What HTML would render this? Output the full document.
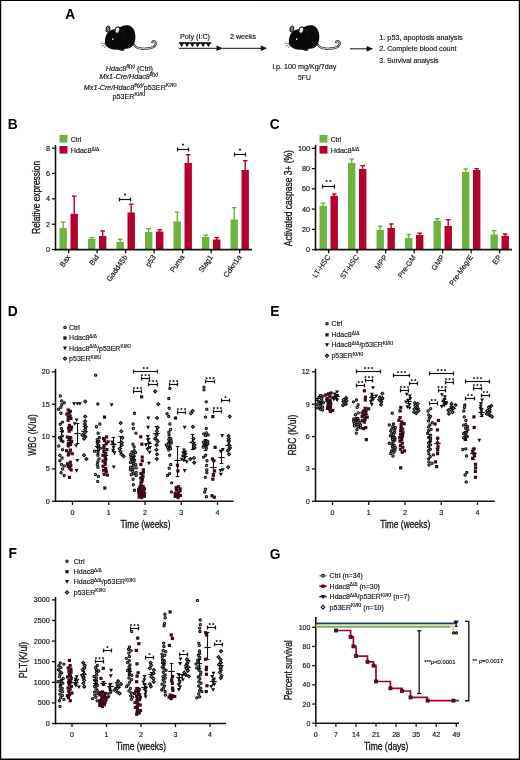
<!DOCTYPE html>
<html><head><meta charset="utf-8"><title>Figure</title>
<style>
html,body{margin:0;padding:0;background:#fff;}
body{width:520px;height:760px;overflow:hidden;font-family:'Liberation Sans', sans-serif;}
svg{display:block;font-family:"Liberation Sans",sans-serif;will-change:transform;opacity:0.999;}
</style></head><body>
<svg width="520" height="760" viewBox="0 0 520 760">
<rect x="0" y="0" width="520" height="760" fill="#fff"/>
<rect x="0" y="0" width="520" height="1" fill="#000"/><rect x="0" y="0" width="1.2" height="760" fill="#000"/><rect x="518.8" y="0" width="1.2" height="760" fill="#000"/><rect x="0" y="758.5" width="520" height="1.5" fill="#000"/>
<text x="65.30" y="19.20" font-size="13.8" fill="#000" stroke="#000" stroke-width="0" font-weight="bold">A</text>
<g transform="translate(98,18) scale(0.12308)">
<path d="M286 208 C298 232 320 247 352 249 C386 251 420 248 446 238 C470 227 477 202 463 191 C453 184 441 188 441 197" fill="none" stroke="#0d0808" stroke-width="17" stroke-linecap="round"/>
<path d="M286 208 C298 232 320 247 352 249 C386 251 420 248 446 238 C470 227 477 202 463 191 C453 184 441 188 441 197" fill="none" stroke="#f3ebe9" stroke-width="7.5" stroke-linecap="round"/>
<path d="M72 208L26 203M70 214L28 230M74 220L52 242" stroke="#111" stroke-width="4.6" fill="none"/>
<path d="M160 248 C172 262 196 274 218 264 C214 254 206 250 196 248Z" fill="#0a0a0a"/>
<path d="M184 256 C192 262 204 264 210 260" stroke="#cdb9b5" stroke-width="4" fill="none"/>
<path d="M57 200 C54 170 62 140 80 118 C100 96 130 92 150 92 C175 70 215 54 246 59 C282 66 303 105 304 150 C305 190 291 226 262 241 C240 251 215 251 195 253 C170 262 120 257 92 245 C72 237 59 222 57 200Z" fill="#0a0a0a"/>
<ellipse cx="81" cy="90" rx="16" ry="25" fill="#787878" stroke="#0a0a0a" stroke-width="7" transform="rotate(12 81 90)"/>
<ellipse cx="158" cy="99" rx="19" ry="27" fill="#efe7e5" stroke="#0a0a0a" stroke-width="8" transform="rotate(18 158 99)"/>
<path d="M148 118 C158 124 168 118 172 104" stroke="#333" stroke-width="4" fill="none"/>
<circle cx="120" cy="172" r="6.5" fill="#f2f2f2"/>
<path d="M196 96 C208 112 212 136 206 156" stroke="#3a3a3a" stroke-width="3" fill="none"/>
</g>
<g transform="translate(281.9,18) scale(0.12308)">
<path d="M286 208 C298 232 320 247 352 249 C386 251 420 248 446 238 C470 227 477 202 463 191 C453 184 441 188 441 197" fill="none" stroke="#0d0808" stroke-width="17" stroke-linecap="round"/>
<path d="M286 208 C298 232 320 247 352 249 C386 251 420 248 446 238 C470 227 477 202 463 191 C453 184 441 188 441 197" fill="none" stroke="#f3ebe9" stroke-width="7.5" stroke-linecap="round"/>
<path d="M72 208L26 203M70 214L28 230M74 220L52 242" stroke="#111" stroke-width="4.6" fill="none"/>
<path d="M160 248 C172 262 196 274 218 264 C214 254 206 250 196 248Z" fill="#0a0a0a"/>
<path d="M184 256 C192 262 204 264 210 260" stroke="#cdb9b5" stroke-width="4" fill="none"/>
<path d="M57 200 C54 170 62 140 80 118 C100 96 130 92 150 92 C175 70 215 54 246 59 C282 66 303 105 304 150 C305 190 291 226 262 241 C240 251 215 251 195 253 C170 262 120 257 92 245 C72 237 59 222 57 200Z" fill="#0a0a0a"/>
<ellipse cx="81" cy="90" rx="16" ry="25" fill="#787878" stroke="#0a0a0a" stroke-width="7" transform="rotate(12 81 90)"/>
<ellipse cx="158" cy="99" rx="19" ry="27" fill="#efe7e5" stroke="#0a0a0a" stroke-width="8" transform="rotate(18 158 99)"/>
<path d="M148 118 C158 124 168 118 172 104" stroke="#333" stroke-width="4" fill="none"/>
<circle cx="120" cy="172" r="6.5" fill="#f2f2f2"/>
<path d="M196 96 C208 112 212 136 206 156" stroke="#3a3a3a" stroke-width="3" fill="none"/>
</g>
<text x="105.80" y="70.60" font-size="7.2" fill="#161616" stroke="#161616" stroke-width="0.17"><tspan font-style="italic">Hdac8<tspan dy="-2.6" font-size="5.0">fl(y)</tspan><tspan dy="2.6" font-size="0.01">.</tspan></tspan> (Ctrl)</text>
<text x="99.50" y="78.80" font-size="7.2" fill="#161616" stroke="#161616" stroke-width="0.17"><tspan font-style="italic">Mx1-Cre/Hdac8<tspan dy="-2.6" font-size="5.0">fl(y)</tspan><tspan dy="2.6" font-size="0.01">.</tspan></tspan></text>
<text x="83.80" y="90.00" font-size="7.2" fill="#161616" stroke="#161616" stroke-width="0.17"><tspan font-style="italic">Mx1-Cre/Hdac8<tspan dy="-2.6" font-size="5.0">fl(y)/</tspan><tspan dy="2.6" font-size="0.01">.</tspan></tspan>p53ER<tspan dy="-2.6" font-size="5.0">KI/KI</tspan><tspan dy="2.6" font-size="0.01">.</tspan></text>
<text x="112.50" y="98.80" font-size="7.2" fill="#161616" stroke="#161616" stroke-width="0.17">p53ER<tspan dy="-2.6" font-size="5.0">KI/KI</tspan><tspan dy="2.6" font-size="0.01">.</tspan></text>
<text x="180.00" y="39.20" font-size="7.2" fill="#161616" stroke="#161616" stroke-width="0.17" textLength="30" lengthAdjust="spacingAndGlyphs">Poly (I:C)</text>
<text x="230.00" y="39.20" font-size="7.2" fill="#161616" stroke="#161616" stroke-width="0.17" textLength="26.2" lengthAdjust="spacingAndGlyphs">2 weeks</text>
<path d="M179.00 42.6H184.30L181.65 47.2Z" fill="#111"/>
<path d="M184.35 42.6H189.65L187.00 47.2Z" fill="#111"/>
<path d="M189.70 42.6H195.00L192.35 47.2Z" fill="#111"/>
<path d="M195.05 42.6H200.35L197.70 47.2Z" fill="#111"/>
<path d="M200.40 42.6H205.70L203.05 47.2Z" fill="#111"/>
<path d="M205.75 42.6H211.05L208.40 47.2Z" fill="#111"/>
<rect x="178.80" y="42.40" width="32.50" height="1.30" fill="#111"/>
<line x1="178.80" y1="48.30" x2="218.00" y2="48.30" stroke="#111" stroke-width="1.0" stroke-linecap="butt"/>
<path d="M216.5 45.6L222.8 48.3L216.5 51Z" fill="#111"/>
<line x1="222.50" y1="48.30" x2="262.00" y2="48.30" stroke="#111" stroke-width="1.0" stroke-linecap="butt"/>
<path d="M260.8 45.6L267.2 48.3L260.8 51Z" fill="#111"/>
<text x="272.50" y="69.40" font-size="7.2" fill="#161616" stroke="#161616" stroke-width="0.17" textLength="63.8" lengthAdjust="spacingAndGlyphs">i.p. 100 mg/Kg/7day</text>
<text x="298.00" y="80.00" font-size="7.2" fill="#161616" stroke="#161616" stroke-width="0.17" textLength="12.8" lengthAdjust="spacingAndGlyphs">5FU</text>
<line x1="350.00" y1="48.80" x2="368.00" y2="48.80" stroke="#111" stroke-width="1.0" stroke-linecap="butt"/>
<path d="M366.6 46.1L373.2 48.8L366.6 51.5Z" fill="#111"/>
<text x="379.30" y="40.00" font-size="7.2" fill="#161616" stroke="#161616" stroke-width="0.17" textLength="83.4" lengthAdjust="spacingAndGlyphs">1. p53, apoptosis analysis</text>
<text x="379.30" y="51.40" font-size="7.2" fill="#161616" stroke="#161616" stroke-width="0.17" textLength="77.2" lengthAdjust="spacingAndGlyphs">2. Complete blood count</text>
<text x="379.30" y="62.60" font-size="7.2" fill="#161616" stroke="#161616" stroke-width="0.17" textLength="59.2" lengthAdjust="spacingAndGlyphs">3. Survival analysis</text>
<text x="7.80" y="129.20" font-size="13.8" fill="#000" stroke="#000" stroke-width="0" font-weight="bold">B</text>
<text x="269.80" y="129.20" font-size="13.8" fill="#000" stroke="#000" stroke-width="0" font-weight="bold">C</text>
<line x1="63.20" y1="221.80" x2="63.20" y2="228.50" stroke="#6db33f" stroke-width="1.4" stroke-linecap="butt"/>
<line x1="60.90" y1="222.00" x2="65.50" y2="222.00" stroke="#6db33f" stroke-width="1.4" stroke-linecap="butt"/>
<rect x="59.50" y="228.00" width="7.40" height="21.60" fill="#6db33f"/>
<line x1="74.20" y1="196.00" x2="74.20" y2="214.30" stroke="#b5002d" stroke-width="1.4" stroke-linecap="butt"/>
<line x1="71.90" y1="196.20" x2="76.50" y2="196.20" stroke="#b5002d" stroke-width="1.4" stroke-linecap="butt"/>
<rect x="70.50" y="213.80" width="7.40" height="35.80" fill="#b5002d"/>
<text x="70.75" y="257.20" font-size="7.4" fill="#161616" stroke="#161616" stroke-width="0.17" text-anchor="end" transform="rotate(-55 70.75 257.20)">Bax</text>
<line x1="68.65" y1="249.60" x2="68.65" y2="253.20" stroke="#111" stroke-width="1.3" stroke-linecap="butt"/>
<line x1="91.70" y1="237.50" x2="91.70" y2="239.50" stroke="#6db33f" stroke-width="1.4" stroke-linecap="butt"/>
<line x1="89.40" y1="237.70" x2="94.00" y2="237.70" stroke="#6db33f" stroke-width="1.4" stroke-linecap="butt"/>
<rect x="88.00" y="239.00" width="7.40" height="10.60" fill="#6db33f"/>
<line x1="102.70" y1="230.80" x2="102.70" y2="236.50" stroke="#b5002d" stroke-width="1.4" stroke-linecap="butt"/>
<line x1="100.40" y1="231.00" x2="105.00" y2="231.00" stroke="#b5002d" stroke-width="1.4" stroke-linecap="butt"/>
<rect x="99.00" y="236.00" width="7.40" height="13.60" fill="#b5002d"/>
<text x="99.25" y="257.20" font-size="7.4" fill="#161616" stroke="#161616" stroke-width="0.17" text-anchor="end" transform="rotate(-55 99.25 257.20)">Bid</text>
<line x1="97.15" y1="249.60" x2="97.15" y2="253.20" stroke="#111" stroke-width="1.3" stroke-linecap="butt"/>
<line x1="120.20" y1="239.00" x2="120.20" y2="242.50" stroke="#6db33f" stroke-width="1.4" stroke-linecap="butt"/>
<line x1="117.90" y1="239.20" x2="122.50" y2="239.20" stroke="#6db33f" stroke-width="1.4" stroke-linecap="butt"/>
<rect x="116.50" y="242.00" width="7.40" height="7.60" fill="#6db33f"/>
<line x1="131.20" y1="204.00" x2="131.20" y2="213.00" stroke="#b5002d" stroke-width="1.4" stroke-linecap="butt"/>
<line x1="128.90" y1="204.20" x2="133.50" y2="204.20" stroke="#b5002d" stroke-width="1.4" stroke-linecap="butt"/>
<rect x="127.50" y="212.50" width="7.40" height="37.10" fill="#b5002d"/>
<text x="127.75" y="257.20" font-size="7.4" fill="#161616" stroke="#161616" stroke-width="0.17" text-anchor="end" transform="rotate(-55 127.75 257.20)">Gadd45b</text>
<line x1="125.65" y1="249.60" x2="125.65" y2="253.20" stroke="#111" stroke-width="1.3" stroke-linecap="butt"/>
<line x1="148.70" y1="228.50" x2="148.70" y2="232.50" stroke="#6db33f" stroke-width="1.4" stroke-linecap="butt"/>
<line x1="146.40" y1="228.70" x2="151.00" y2="228.70" stroke="#6db33f" stroke-width="1.4" stroke-linecap="butt"/>
<rect x="145.00" y="232.00" width="7.40" height="17.60" fill="#6db33f"/>
<line x1="159.70" y1="229.60" x2="159.70" y2="232.00" stroke="#b5002d" stroke-width="1.4" stroke-linecap="butt"/>
<line x1="157.40" y1="229.80" x2="162.00" y2="229.80" stroke="#b5002d" stroke-width="1.4" stroke-linecap="butt"/>
<rect x="156.00" y="231.50" width="7.40" height="18.10" fill="#b5002d"/>
<text x="156.25" y="257.20" font-size="7.4" fill="#161616" stroke="#161616" stroke-width="0.17" text-anchor="end" transform="rotate(-55 156.25 257.20)">p53</text>
<line x1="154.15" y1="249.60" x2="154.15" y2="253.20" stroke="#111" stroke-width="1.3" stroke-linecap="butt"/>
<line x1="177.20" y1="212.00" x2="177.20" y2="222.00" stroke="#6db33f" stroke-width="1.4" stroke-linecap="butt"/>
<line x1="174.90" y1="212.20" x2="179.50" y2="212.20" stroke="#6db33f" stroke-width="1.4" stroke-linecap="butt"/>
<rect x="173.50" y="221.50" width="7.40" height="28.10" fill="#6db33f"/>
<line x1="188.20" y1="154.50" x2="188.20" y2="163.50" stroke="#b5002d" stroke-width="1.4" stroke-linecap="butt"/>
<line x1="185.90" y1="154.70" x2="190.50" y2="154.70" stroke="#b5002d" stroke-width="1.4" stroke-linecap="butt"/>
<rect x="184.50" y="163.00" width="7.40" height="86.60" fill="#b5002d"/>
<text x="184.75" y="257.20" font-size="7.4" fill="#161616" stroke="#161616" stroke-width="0.17" text-anchor="end" transform="rotate(-55 184.75 257.20)">Puma</text>
<line x1="182.65" y1="249.60" x2="182.65" y2="253.20" stroke="#111" stroke-width="1.3" stroke-linecap="butt"/>
<line x1="205.70" y1="235.00" x2="205.70" y2="237.50" stroke="#6db33f" stroke-width="1.4" stroke-linecap="butt"/>
<line x1="203.40" y1="235.20" x2="208.00" y2="235.20" stroke="#6db33f" stroke-width="1.4" stroke-linecap="butt"/>
<rect x="202.00" y="237.00" width="7.40" height="12.60" fill="#6db33f"/>
<line x1="216.70" y1="237.40" x2="216.70" y2="240.00" stroke="#b5002d" stroke-width="1.4" stroke-linecap="butt"/>
<line x1="214.40" y1="237.60" x2="219.00" y2="237.60" stroke="#b5002d" stroke-width="1.4" stroke-linecap="butt"/>
<rect x="213.00" y="239.50" width="7.40" height="10.10" fill="#b5002d"/>
<text x="213.25" y="257.20" font-size="7.4" fill="#161616" stroke="#161616" stroke-width="0.17" text-anchor="end" transform="rotate(-55 213.25 257.20)">Stag1</text>
<line x1="211.15" y1="249.60" x2="211.15" y2="253.20" stroke="#111" stroke-width="1.3" stroke-linecap="butt"/>
<line x1="234.20" y1="207.50" x2="234.20" y2="220.00" stroke="#6db33f" stroke-width="1.4" stroke-linecap="butt"/>
<line x1="231.90" y1="207.70" x2="236.50" y2="207.70" stroke="#6db33f" stroke-width="1.4" stroke-linecap="butt"/>
<rect x="230.50" y="219.50" width="7.40" height="30.10" fill="#6db33f"/>
<line x1="245.20" y1="160.50" x2="245.20" y2="170.50" stroke="#b5002d" stroke-width="1.4" stroke-linecap="butt"/>
<line x1="242.90" y1="160.70" x2="247.50" y2="160.70" stroke="#b5002d" stroke-width="1.4" stroke-linecap="butt"/>
<rect x="241.50" y="170.00" width="7.40" height="79.60" fill="#b5002d"/>
<text x="241.75" y="257.20" font-size="7.4" fill="#161616" stroke="#161616" stroke-width="0.17" text-anchor="end" transform="rotate(-55 241.75 257.20)">Cdkn1a</text>
<line x1="239.65" y1="249.60" x2="239.65" y2="253.20" stroke="#111" stroke-width="1.3" stroke-linecap="butt"/>
<line x1="55.50" y1="145.00" x2="55.50" y2="250.40" stroke="#111" stroke-width="1.6" stroke-linecap="butt"/>
<line x1="54.90" y1="249.60" x2="252.00" y2="249.60" stroke="#111" stroke-width="1.6" stroke-linecap="butt"/>
<line x1="51.90" y1="249.60" x2="55.50" y2="249.60" stroke="#111" stroke-width="1.3" stroke-linecap="butt"/>
<text x="49.90" y="252.15" font-size="7.2" fill="#161616" stroke="#161616" stroke-width="0.17" text-anchor="end">0</text>
<line x1="51.90" y1="224.22" x2="55.50" y2="224.22" stroke="#111" stroke-width="1.3" stroke-linecap="butt"/>
<text x="49.90" y="226.77" font-size="7.2" fill="#161616" stroke="#161616" stroke-width="0.17" text-anchor="end">2</text>
<line x1="51.90" y1="198.84" x2="55.50" y2="198.84" stroke="#111" stroke-width="1.3" stroke-linecap="butt"/>
<text x="49.90" y="201.39" font-size="7.2" fill="#161616" stroke="#161616" stroke-width="0.17" text-anchor="end">4</text>
<line x1="51.90" y1="173.46" x2="55.50" y2="173.46" stroke="#111" stroke-width="1.3" stroke-linecap="butt"/>
<text x="49.90" y="176.01" font-size="7.2" fill="#161616" stroke="#161616" stroke-width="0.17" text-anchor="end">6</text>
<line x1="51.90" y1="148.08" x2="55.50" y2="148.08" stroke="#111" stroke-width="1.3" stroke-linecap="butt"/>
<text x="49.90" y="150.63" font-size="7.2" fill="#161616" stroke="#161616" stroke-width="0.17" text-anchor="end">8</text>
<rect x="59.50" y="135.00" width="8.00" height="7.60" fill="#6db33f"/>
<rect x="59.50" y="146.00" width="8.00" height="7.60" fill="#b5002d"/>
<text x="70.70" y="141.90" font-size="7.2" fill="#161616" stroke="#161616" stroke-width="0.17" textLength="10.6" lengthAdjust="spacingAndGlyphs">Ctrl</text>
<text x="70.70" y="153.00" font-size="7.2" fill="#161616" stroke="#161616" stroke-width="0.17">Hdac8<tspan dy="-2.3" font-size="4.8">&#916;/&#916;</tspan><tspan dy="2.3" font-size="0.01">.</tspan></text>
<text x="39.70" y="197.40" font-size="10.1" fill="#161616" stroke="#161616" stroke-width="0.3" text-anchor="middle" transform="rotate(-90 39.70 197.40)" textLength="73" lengthAdjust="spacingAndGlyphs">Relative expression</text>
<line x1="119.50" y1="199.50" x2="130.50" y2="199.50" stroke="#111" stroke-width="1.15" stroke-linecap="butt"/>
<line x1="119.50" y1="197.60" x2="119.50" y2="201.40" stroke="#111" stroke-width="1.25" stroke-linecap="butt"/>
<line x1="130.50" y1="197.60" x2="130.50" y2="201.40" stroke="#111" stroke-width="1.25" stroke-linecap="butt"/>
<path d="M125.00 193.10L125.45 193.88L126.33 194.07L125.73 194.74L125.82 195.63L125.00 195.27L124.18 195.63L124.27 194.74L123.67 194.07L124.55 193.88Z" fill="#111"/>
<line x1="177.50" y1="149.50" x2="188.50" y2="149.50" stroke="#111" stroke-width="1.15" stroke-linecap="butt"/>
<line x1="177.50" y1="147.60" x2="177.50" y2="151.40" stroke="#111" stroke-width="1.25" stroke-linecap="butt"/>
<line x1="188.50" y1="147.60" x2="188.50" y2="151.40" stroke="#111" stroke-width="1.25" stroke-linecap="butt"/>
<path d="M183.00 143.10L183.45 143.88L184.33 144.07L183.73 144.74L183.82 145.63L183.00 145.27L182.18 145.63L182.27 144.74L181.67 144.07L182.55 143.88Z" fill="#111"/>
<line x1="234.50" y1="154.50" x2="245.50" y2="154.50" stroke="#111" stroke-width="1.15" stroke-linecap="butt"/>
<line x1="234.50" y1="152.60" x2="234.50" y2="156.40" stroke="#111" stroke-width="1.25" stroke-linecap="butt"/>
<line x1="245.50" y1="152.60" x2="245.50" y2="156.40" stroke="#111" stroke-width="1.25" stroke-linecap="butt"/>
<path d="M240.00 148.10L240.45 148.88L241.33 149.07L240.73 149.74L240.82 150.63L240.00 150.27L239.18 150.63L239.27 149.74L238.67 149.07L239.55 148.88Z" fill="#111"/>
<line x1="323.20" y1="203.00" x2="323.20" y2="206.30" stroke="#6db33f" stroke-width="1.4" stroke-linecap="butt"/>
<line x1="320.90" y1="203.20" x2="325.50" y2="203.20" stroke="#6db33f" stroke-width="1.4" stroke-linecap="butt"/>
<rect x="319.50" y="205.80" width="7.40" height="43.80" fill="#6db33f"/>
<line x1="334.20" y1="193.80" x2="334.20" y2="196.30" stroke="#b5002d" stroke-width="1.4" stroke-linecap="butt"/>
<line x1="331.90" y1="194.00" x2="336.50" y2="194.00" stroke="#b5002d" stroke-width="1.4" stroke-linecap="butt"/>
<rect x="330.50" y="195.80" width="7.40" height="53.80" fill="#b5002d"/>
<text x="330.75" y="257.20" font-size="7.4" fill="#161616" stroke="#161616" stroke-width="0.17" text-anchor="end" transform="rotate(-55 330.75 257.20)">LT-HSC</text>
<line x1="328.65" y1="249.60" x2="328.65" y2="253.20" stroke="#111" stroke-width="1.3" stroke-linecap="butt"/>
<line x1="351.70" y1="158.80" x2="351.70" y2="163.50" stroke="#6db33f" stroke-width="1.4" stroke-linecap="butt"/>
<line x1="349.40" y1="159.00" x2="354.00" y2="159.00" stroke="#6db33f" stroke-width="1.4" stroke-linecap="butt"/>
<rect x="348.00" y="163.00" width="7.40" height="86.60" fill="#6db33f"/>
<line x1="362.70" y1="165.50" x2="362.70" y2="169.50" stroke="#b5002d" stroke-width="1.4" stroke-linecap="butt"/>
<line x1="360.40" y1="165.70" x2="365.00" y2="165.70" stroke="#b5002d" stroke-width="1.4" stroke-linecap="butt"/>
<rect x="359.00" y="169.00" width="7.40" height="80.60" fill="#b5002d"/>
<text x="359.25" y="257.20" font-size="7.4" fill="#161616" stroke="#161616" stroke-width="0.17" text-anchor="end" transform="rotate(-55 359.25 257.20)">ST-HSC</text>
<line x1="357.15" y1="249.60" x2="357.15" y2="253.20" stroke="#111" stroke-width="1.3" stroke-linecap="butt"/>
<line x1="380.20" y1="226.00" x2="380.20" y2="230.50" stroke="#6db33f" stroke-width="1.4" stroke-linecap="butt"/>
<line x1="377.90" y1="226.20" x2="382.50" y2="226.20" stroke="#6db33f" stroke-width="1.4" stroke-linecap="butt"/>
<rect x="376.50" y="230.00" width="7.40" height="19.60" fill="#6db33f"/>
<line x1="391.20" y1="223.80" x2="391.20" y2="228.50" stroke="#b5002d" stroke-width="1.4" stroke-linecap="butt"/>
<line x1="388.90" y1="224.00" x2="393.50" y2="224.00" stroke="#b5002d" stroke-width="1.4" stroke-linecap="butt"/>
<rect x="387.50" y="228.00" width="7.40" height="21.60" fill="#b5002d"/>
<text x="387.75" y="257.20" font-size="7.4" fill="#161616" stroke="#161616" stroke-width="0.17" text-anchor="end" transform="rotate(-55 387.75 257.20)">MPP</text>
<line x1="385.65" y1="249.60" x2="385.65" y2="253.20" stroke="#111" stroke-width="1.3" stroke-linecap="butt"/>
<line x1="408.70" y1="234.20" x2="408.70" y2="238.50" stroke="#6db33f" stroke-width="1.4" stroke-linecap="butt"/>
<line x1="406.40" y1="234.40" x2="411.00" y2="234.40" stroke="#6db33f" stroke-width="1.4" stroke-linecap="butt"/>
<rect x="405.00" y="238.00" width="7.40" height="11.60" fill="#6db33f"/>
<line x1="419.70" y1="233.00" x2="419.70" y2="235.50" stroke="#b5002d" stroke-width="1.4" stroke-linecap="butt"/>
<line x1="417.40" y1="233.20" x2="422.00" y2="233.20" stroke="#b5002d" stroke-width="1.4" stroke-linecap="butt"/>
<rect x="416.00" y="235.00" width="7.40" height="14.60" fill="#b5002d"/>
<text x="416.25" y="257.20" font-size="7.4" fill="#161616" stroke="#161616" stroke-width="0.17" text-anchor="end" transform="rotate(-55 416.25 257.20)">Pre-GM</text>
<line x1="414.15" y1="249.60" x2="414.15" y2="253.20" stroke="#111" stroke-width="1.3" stroke-linecap="butt"/>
<line x1="437.20" y1="218.50" x2="437.20" y2="221.30" stroke="#6db33f" stroke-width="1.4" stroke-linecap="butt"/>
<line x1="434.90" y1="218.70" x2="439.50" y2="218.70" stroke="#6db33f" stroke-width="1.4" stroke-linecap="butt"/>
<rect x="433.50" y="220.80" width="7.40" height="28.80" fill="#6db33f"/>
<line x1="448.20" y1="219.50" x2="448.20" y2="226.50" stroke="#b5002d" stroke-width="1.4" stroke-linecap="butt"/>
<line x1="445.90" y1="219.70" x2="450.50" y2="219.70" stroke="#b5002d" stroke-width="1.4" stroke-linecap="butt"/>
<rect x="444.50" y="226.00" width="7.40" height="23.60" fill="#b5002d"/>
<text x="444.75" y="257.20" font-size="7.4" fill="#161616" stroke="#161616" stroke-width="0.17" text-anchor="end" transform="rotate(-55 444.75 257.20)">GMP</text>
<line x1="442.65" y1="249.60" x2="442.65" y2="253.20" stroke="#111" stroke-width="1.3" stroke-linecap="butt"/>
<line x1="465.70" y1="168.80" x2="465.70" y2="172.30" stroke="#6db33f" stroke-width="1.4" stroke-linecap="butt"/>
<line x1="463.40" y1="169.00" x2="468.00" y2="169.00" stroke="#6db33f" stroke-width="1.4" stroke-linecap="butt"/>
<rect x="462.00" y="171.80" width="7.40" height="77.80" fill="#6db33f"/>
<line x1="476.70" y1="168.50" x2="476.70" y2="170.50" stroke="#b5002d" stroke-width="1.4" stroke-linecap="butt"/>
<line x1="474.40" y1="168.70" x2="479.00" y2="168.70" stroke="#b5002d" stroke-width="1.4" stroke-linecap="butt"/>
<rect x="473.00" y="170.00" width="7.40" height="79.60" fill="#b5002d"/>
<text x="473.25" y="257.20" font-size="7.4" fill="#161616" stroke="#161616" stroke-width="0.17" text-anchor="end" transform="rotate(-55 473.25 257.20)">Pre-Meg/E</text>
<line x1="471.15" y1="249.60" x2="471.15" y2="253.20" stroke="#111" stroke-width="1.3" stroke-linecap="butt"/>
<line x1="494.20" y1="230.50" x2="494.20" y2="235.00" stroke="#6db33f" stroke-width="1.4" stroke-linecap="butt"/>
<line x1="491.90" y1="230.70" x2="496.50" y2="230.70" stroke="#6db33f" stroke-width="1.4" stroke-linecap="butt"/>
<rect x="490.50" y="234.50" width="7.40" height="15.10" fill="#6db33f"/>
<line x1="505.20" y1="233.80" x2="505.20" y2="236.30" stroke="#b5002d" stroke-width="1.4" stroke-linecap="butt"/>
<line x1="502.90" y1="234.00" x2="507.50" y2="234.00" stroke="#b5002d" stroke-width="1.4" stroke-linecap="butt"/>
<rect x="501.50" y="235.80" width="7.40" height="13.80" fill="#b5002d"/>
<text x="501.75" y="257.20" font-size="7.4" fill="#161616" stroke="#161616" stroke-width="0.17" text-anchor="end" transform="rotate(-55 501.75 257.20)">EP</text>
<line x1="499.65" y1="249.60" x2="499.65" y2="253.20" stroke="#111" stroke-width="1.3" stroke-linecap="butt"/>
<line x1="315.50" y1="145.00" x2="315.50" y2="250.40" stroke="#111" stroke-width="1.6" stroke-linecap="butt"/>
<line x1="314.90" y1="249.60" x2="512.00" y2="249.60" stroke="#111" stroke-width="1.6" stroke-linecap="butt"/>
<line x1="311.90" y1="249.60" x2="315.50" y2="249.60" stroke="#111" stroke-width="1.3" stroke-linecap="butt"/>
<text x="309.90" y="252.15" font-size="7.2" fill="#161616" stroke="#161616" stroke-width="0.17" text-anchor="end">0</text>
<line x1="311.90" y1="229.35" x2="315.50" y2="229.35" stroke="#111" stroke-width="1.3" stroke-linecap="butt"/>
<text x="309.90" y="231.90" font-size="7.2" fill="#161616" stroke="#161616" stroke-width="0.17" text-anchor="end">20</text>
<line x1="311.90" y1="209.10" x2="315.50" y2="209.10" stroke="#111" stroke-width="1.3" stroke-linecap="butt"/>
<text x="309.90" y="211.65" font-size="7.2" fill="#161616" stroke="#161616" stroke-width="0.17" text-anchor="end">40</text>
<line x1="311.90" y1="188.85" x2="315.50" y2="188.85" stroke="#111" stroke-width="1.3" stroke-linecap="butt"/>
<text x="309.90" y="191.40" font-size="7.2" fill="#161616" stroke="#161616" stroke-width="0.17" text-anchor="end">60</text>
<line x1="311.90" y1="168.60" x2="315.50" y2="168.60" stroke="#111" stroke-width="1.3" stroke-linecap="butt"/>
<text x="309.90" y="171.15" font-size="7.2" fill="#161616" stroke="#161616" stroke-width="0.17" text-anchor="end">80</text>
<line x1="311.90" y1="148.35" x2="315.50" y2="148.35" stroke="#111" stroke-width="1.3" stroke-linecap="butt"/>
<text x="309.90" y="150.90" font-size="7.2" fill="#161616" stroke="#161616" stroke-width="0.17" text-anchor="end">100</text>
<rect x="319.50" y="135.00" width="8.00" height="7.60" fill="#6db33f"/>
<rect x="319.50" y="146.00" width="8.00" height="7.60" fill="#b5002d"/>
<text x="330.70" y="141.90" font-size="7.2" fill="#161616" stroke="#161616" stroke-width="0.17" textLength="10.6" lengthAdjust="spacingAndGlyphs">Ctrl</text>
<text x="330.70" y="153.00" font-size="7.2" fill="#161616" stroke="#161616" stroke-width="0.17">Hdac8<tspan dy="-2.3" font-size="4.8">&#916;/&#916;</tspan><tspan dy="2.3" font-size="0.01">.</tspan></text>
<text x="292.40" y="198.20" font-size="10.2" fill="#161616" stroke="#161616" stroke-width="0.3" text-anchor="middle" transform="rotate(-90 292.40 198.20)" textLength="96" lengthAdjust="spacingAndGlyphs">Activated caspase 3+ (%)</text>
<line x1="322.50" y1="186.50" x2="334.50" y2="186.50" stroke="#111" stroke-width="1.15" stroke-linecap="butt"/>
<line x1="322.50" y1="184.60" x2="322.50" y2="188.40" stroke="#111" stroke-width="1.25" stroke-linecap="butt"/>
<line x1="334.50" y1="184.60" x2="334.50" y2="188.40" stroke="#111" stroke-width="1.25" stroke-linecap="butt"/>
<path d="M326.65 179.70L327.10 180.48L327.98 180.67L327.38 181.34L327.47 182.23L326.65 181.87L325.83 182.23L325.92 181.34L325.32 180.67L326.20 180.48Z" fill="#111"/>
<path d="M330.35 179.70L330.80 180.48L331.68 180.67L331.08 181.34L331.17 182.23L330.35 181.87L329.53 182.23L329.62 181.34L329.02 180.67L329.90 180.48Z" fill="#111"/>
<text x="7.80" y="315.80" font-size="13.8" fill="#000" stroke="#000" stroke-width="0" font-weight="bold">D</text>
<circle cx="65.00" cy="327.50" r="1.2" fill="#a3ad9c" stroke="#111" stroke-width="1.1"/>
<rect x="63.35" y="336.35" width="3.3" height="3.3" fill="#3a0a1c"/>
<path d="M62.90 346.61H67.10L65.00 350.39Z" fill="#111"/>
<path d="M65.00 356.90L66.70 358.60L65.00 360.30L63.30 358.60Z" fill="#9a9a9a" stroke="#111" stroke-width="1.05"/>
<text x="69.10" y="330.00" font-size="7" fill="#161616" stroke="#161616" stroke-width="0.17" textLength="10.8" lengthAdjust="spacingAndGlyphs">Ctrl</text>
<text x="69.10" y="340.30" font-size="7" fill="#161616" stroke="#161616" stroke-width="0.17">Hdac8<tspan dy="-2.3" font-size="4.8">&#916;/&#916;</tspan><tspan dy="2.3" font-size="0.01">.</tspan></text>
<text x="69.10" y="350.60" font-size="7" fill="#161616" stroke="#161616" stroke-width="0.17">Hdac8<tspan dy="-2.3" font-size="4.8">&#916;/&#916;</tspan><tspan dy="2.3" font-size="0.01">.</tspan>/p53ER<tspan dy="-2.3" font-size="4.8">KI/KI</tspan><tspan dy="2.3" font-size="0.01">.</tspan></text>
<text x="69.10" y="360.80" font-size="7" fill="#161616" stroke="#161616" stroke-width="0.17">p53ER<tspan dy="-2.3" font-size="4.8">KI/KI</tspan><tspan dy="2.3" font-size="0.01">.</tspan></text>
<line x1="55.50" y1="368.80" x2="55.50" y2="502.10" stroke="#111" stroke-width="1.6" stroke-linecap="butt"/>
<line x1="54.90" y1="501.30" x2="233.50" y2="501.30" stroke="#111" stroke-width="1.6" stroke-linecap="butt"/>
<line x1="51.90" y1="501.30" x2="55.50" y2="501.30" stroke="#111" stroke-width="1.3" stroke-linecap="butt"/>
<text x="49.70" y="503.85" font-size="7.2" fill="#161616" stroke="#161616" stroke-width="0.17" text-anchor="end">0</text>
<line x1="51.90" y1="468.93" x2="55.50" y2="468.93" stroke="#111" stroke-width="1.3" stroke-linecap="butt"/>
<text x="49.70" y="471.48" font-size="7.2" fill="#161616" stroke="#161616" stroke-width="0.17" text-anchor="end">5</text>
<line x1="51.90" y1="436.56" x2="55.50" y2="436.56" stroke="#111" stroke-width="1.3" stroke-linecap="butt"/>
<text x="49.70" y="439.11" font-size="7.2" fill="#161616" stroke="#161616" stroke-width="0.17" text-anchor="end">10</text>
<line x1="51.90" y1="404.19" x2="55.50" y2="404.19" stroke="#111" stroke-width="1.3" stroke-linecap="butt"/>
<text x="49.70" y="406.74" font-size="7.2" fill="#161616" stroke="#161616" stroke-width="0.17" text-anchor="end">15</text>
<line x1="51.90" y1="371.82" x2="55.50" y2="371.82" stroke="#111" stroke-width="1.3" stroke-linecap="butt"/>
<text x="49.70" y="374.37" font-size="7.2" fill="#161616" stroke="#161616" stroke-width="0.17" text-anchor="end">20</text>
<line x1="72.50" y1="501.30" x2="72.50" y2="504.90" stroke="#111" stroke-width="1.3" stroke-linecap="butt"/>
<text x="72.50" y="515.20" font-size="7" fill="#161616" stroke="#161616" stroke-width="0.17" text-anchor="middle">0</text>
<line x1="108.75" y1="501.30" x2="108.75" y2="504.90" stroke="#111" stroke-width="1.3" stroke-linecap="butt"/>
<text x="108.75" y="515.20" font-size="7" fill="#161616" stroke="#161616" stroke-width="0.17" text-anchor="middle">1</text>
<line x1="145.00" y1="501.30" x2="145.00" y2="504.90" stroke="#111" stroke-width="1.3" stroke-linecap="butt"/>
<text x="145.00" y="515.20" font-size="7" fill="#161616" stroke="#161616" stroke-width="0.17" text-anchor="middle">2</text>
<line x1="181.25" y1="501.30" x2="181.25" y2="504.90" stroke="#111" stroke-width="1.3" stroke-linecap="butt"/>
<text x="181.25" y="515.20" font-size="7" fill="#161616" stroke="#161616" stroke-width="0.17" text-anchor="middle">3</text>
<line x1="217.50" y1="501.30" x2="217.50" y2="504.90" stroke="#111" stroke-width="1.3" stroke-linecap="butt"/>
<text x="217.50" y="515.20" font-size="7" fill="#161616" stroke="#161616" stroke-width="0.17" text-anchor="middle">4</text>
<text x="145.50" y="527.60" font-size="10" fill="#161616" stroke="#161616" stroke-width="0.3" text-anchor="middle" textLength="50" lengthAdjust="spacingAndGlyphs">Time (weeks)</text>
<text x="36.10" y="435.10" font-size="10.2" fill="#161616" stroke="#161616" stroke-width="0.3" text-anchor="middle" transform="rotate(-90 36.10 435.10)" textLength="41.5" lengthAdjust="spacingAndGlyphs">WBC (K/ul)</text>
<circle cx="60.28" cy="395.94" r="1.15" fill="#a3ad9c" stroke="#111" stroke-width="1.1"/>
<circle cx="61.64" cy="400.91" r="1.15" fill="#a3ad9c" stroke="#111" stroke-width="1.1"/>
<circle cx="64.30" cy="402.75" r="1.15" fill="#a3ad9c" stroke="#111" stroke-width="1.1"/>
<circle cx="61.76" cy="404.59" r="1.15" fill="#a3ad9c" stroke="#111" stroke-width="1.1"/>
<circle cx="60.85" cy="407.36" r="1.15" fill="#a3ad9c" stroke="#111" stroke-width="1.1"/>
<circle cx="58.50" cy="409.20" r="1.15" fill="#a3ad9c" stroke="#111" stroke-width="1.1"/>
<circle cx="60.91" cy="413.25" r="1.15" fill="#a3ad9c" stroke="#111" stroke-width="1.1"/>
<circle cx="62.41" cy="422.09" r="1.15" fill="#a3ad9c" stroke="#111" stroke-width="1.1"/>
<circle cx="60.23" cy="424.30" r="1.15" fill="#a3ad9c" stroke="#111" stroke-width="1.1"/>
<circle cx="61.33" cy="428.54" r="1.15" fill="#a3ad9c" stroke="#111" stroke-width="1.1"/>
<circle cx="62.35" cy="431.30" r="1.15" fill="#a3ad9c" stroke="#111" stroke-width="1.1"/>
<circle cx="62.26" cy="435.90" r="1.15" fill="#a3ad9c" stroke="#111" stroke-width="1.1"/>
<circle cx="59.43" cy="437.74" r="1.15" fill="#a3ad9c" stroke="#111" stroke-width="1.1"/>
<circle cx="61.05" cy="439.59" r="1.15" fill="#a3ad9c" stroke="#111" stroke-width="1.1"/>
<circle cx="62.84" cy="441.43" r="1.15" fill="#a3ad9c" stroke="#111" stroke-width="1.1"/>
<circle cx="58.72" cy="446.03" r="1.15" fill="#a3ad9c" stroke="#111" stroke-width="1.1"/>
<circle cx="62.49" cy="449.71" r="1.15" fill="#a3ad9c" stroke="#111" stroke-width="1.1"/>
<circle cx="59.95" cy="455.24" r="1.15" fill="#a3ad9c" stroke="#111" stroke-width="1.1"/>
<circle cx="62.08" cy="458.00" r="1.15" fill="#a3ad9c" stroke="#111" stroke-width="1.1"/>
<circle cx="59.91" cy="460.76" r="1.15" fill="#a3ad9c" stroke="#111" stroke-width="1.1"/>
<circle cx="61.58" cy="464.45" r="1.15" fill="#a3ad9c" stroke="#111" stroke-width="1.1"/>
<circle cx="64.30" cy="465.92" r="1.15" fill="#a3ad9c" stroke="#111" stroke-width="1.1"/>
<circle cx="62.45" cy="469.05" r="1.15" fill="#a3ad9c" stroke="#111" stroke-width="1.1"/>
<circle cx="61.11" cy="472.73" r="1.15" fill="#a3ad9c" stroke="#111" stroke-width="1.1"/>
<circle cx="64.15" cy="475.50" r="1.15" fill="#a3ad9c" stroke="#111" stroke-width="1.1"/>
<line x1="58.90" y1="436.50" x2="64.10" y2="436.50" stroke="#111" stroke-width="1.1" stroke-linecap="butt"/>
<line x1="61.50" y1="431.50" x2="61.50" y2="441.50" stroke="#111" stroke-width="1.1" stroke-linecap="butt"/>
<line x1="59.70" y1="431.50" x2="63.30" y2="431.50" stroke="#111" stroke-width="1.1" stroke-linecap="butt"/>
<line x1="59.70" y1="441.50" x2="63.30" y2="441.50" stroke="#111" stroke-width="1.1" stroke-linecap="butt"/>
<rect x="66.65" y="408.37" width="3.2" height="3.2" fill="#3a0a1c"/>
<rect x="68.71" y="409.66" width="3.2" height="3.2" fill="#3a0a1c"/>
<rect x="67.53" y="411.54" width="3.2" height="3.2" fill="#3a0a1c"/>
<rect x="65.30" y="412.49" width="3.2" height="3.2" fill="#3a0a1c"/>
<rect x="68.51" y="414.34" width="3.2" height="3.2" fill="#3a0a1c"/>
<rect x="66.61" y="415.64" width="3.2" height="3.2" fill="#3a0a1c"/>
<rect x="69.27" y="416.82" width="3.2" height="3.2" fill="#3a0a1c"/>
<rect x="66.56" y="418.66" width="3.2" height="3.2" fill="#3a0a1c"/>
<rect x="67.80" y="423.79" width="3.2" height="3.2" fill="#3a0a1c"/>
<rect x="69.90" y="425.50" width="3.2" height="3.2" fill="#3a0a1c"/>
<rect x="66.91" y="426.58" width="3.2" height="3.2" fill="#3a0a1c"/>
<rect x="69.36" y="427.98" width="3.2" height="3.2" fill="#3a0a1c"/>
<rect x="67.59" y="429.64" width="3.2" height="3.2" fill="#3a0a1c"/>
<rect x="65.83" y="435.52" width="3.2" height="3.2" fill="#3a0a1c"/>
<rect x="69.21" y="436.41" width="3.2" height="3.2" fill="#3a0a1c"/>
<rect x="67.70" y="438.04" width="3.2" height="3.2" fill="#3a0a1c"/>
<rect x="70.02" y="439.94" width="3.2" height="3.2" fill="#3a0a1c"/>
<rect x="66.78" y="441.77" width="3.2" height="3.2" fill="#3a0a1c"/>
<rect x="68.94" y="442.97" width="3.2" height="3.2" fill="#3a0a1c"/>
<rect x="66.70" y="444.34" width="3.2" height="3.2" fill="#3a0a1c"/>
<rect x="68.82" y="448.51" width="3.2" height="3.2" fill="#3a0a1c"/>
<rect x="64.90" y="449.12" width="3.2" height="3.2" fill="#3a0a1c"/>
<rect x="67.41" y="451.17" width="3.2" height="3.2" fill="#3a0a1c"/>
<rect x="70.61" y="452.08" width="3.2" height="3.2" fill="#3a0a1c"/>
<rect x="66.70" y="453.34" width="3.2" height="3.2" fill="#3a0a1c"/>
<rect x="68.68" y="460.69" width="3.2" height="3.2" fill="#3a0a1c"/>
<rect x="65.92" y="462.23" width="3.2" height="3.2" fill="#3a0a1c"/>
<rect x="69.21" y="464.03" width="3.2" height="3.2" fill="#3a0a1c"/>
<rect x="66.57" y="464.88" width="3.2" height="3.2" fill="#3a0a1c"/>
<rect x="68.18" y="466.60" width="3.2" height="3.2" fill="#3a0a1c"/>
<rect x="69.59" y="468.37" width="3.2" height="3.2" fill="#3a0a1c"/>
<rect x="67.84" y="475.74" width="3.2" height="3.2" fill="#3a0a1c"/>
<line x1="66.90" y1="440.50" x2="72.10" y2="440.50" stroke="#111" stroke-width="1.1" stroke-linecap="butt"/>
<line x1="69.50" y1="436.50" x2="69.50" y2="443.50" stroke="#111" stroke-width="1.1" stroke-linecap="butt"/>
<line x1="67.70" y1="436.50" x2="71.30" y2="436.50" stroke="#111" stroke-width="1.1" stroke-linecap="butt"/>
<line x1="67.70" y1="443.50" x2="71.30" y2="443.50" stroke="#111" stroke-width="1.1" stroke-linecap="butt"/>
<line x1="74.30" y1="433.50" x2="80.70" y2="433.50" stroke="#111" stroke-width="1.1" stroke-linecap="butt"/>
<line x1="77.50" y1="423.50" x2="77.50" y2="443.50" stroke="#111" stroke-width="1.1" stroke-linecap="butt"/>
<line x1="75.70" y1="423.50" x2="79.30" y2="423.50" stroke="#111" stroke-width="1.1" stroke-linecap="butt"/>
<line x1="75.70" y1="443.50" x2="79.30" y2="443.50" stroke="#111" stroke-width="1.1" stroke-linecap="butt"/>
<path d="M75.53 402.24H79.53L77.53 405.84Z" fill="#111"/>
<path d="M72.10 402.24H76.10L74.10 405.84Z" fill="#111"/>
<path d="M77.90 402.24H81.90L79.90 405.84Z" fill="#111"/>
<path d="M74.72 418.45H78.72L76.72 422.05Z" fill="#111"/>
<path d="M72.77 422.13H76.77L74.77 425.73Z" fill="#111"/>
<path d="M74.12 444.23H78.12L76.12 447.83Z" fill="#111"/>
<path d="M75.29 458.96H79.29L77.29 462.56Z" fill="#111"/>
<path d="M74.54 469.09H78.54L76.54 472.69Z" fill="#111"/>
<line x1="81.30" y1="431.50" x2="87.70" y2="431.50" stroke="#111" stroke-width="1.1" stroke-linecap="butt"/>
<line x1="84.50" y1="426.50" x2="84.50" y2="435.50" stroke="#111" stroke-width="1.1" stroke-linecap="butt"/>
<line x1="82.70" y1="426.50" x2="86.30" y2="426.50" stroke="#111" stroke-width="1.1" stroke-linecap="butt"/>
<line x1="82.70" y1="435.50" x2="86.30" y2="435.50" stroke="#111" stroke-width="1.1" stroke-linecap="butt"/>
<path d="M85.28 399.91L86.83 401.46L85.28 403.01L83.73 401.46Z" fill="#9a9a9a" stroke="#111" stroke-width="1.05"/>
<path d="M85.25 415.02L86.80 416.57L85.25 418.12L83.70 416.57Z" fill="#9a9a9a" stroke="#111" stroke-width="1.05"/>
<path d="M85.17 419.62L86.72 421.17L85.17 422.72L83.62 421.17Z" fill="#9a9a9a" stroke="#111" stroke-width="1.05"/>
<path d="M84.83 422.38L86.38 423.93L84.83 425.48L83.28 423.93Z" fill="#9a9a9a" stroke="#111" stroke-width="1.05"/>
<path d="M85.83 425.14L87.38 426.69L85.83 428.24L84.28 426.69Z" fill="#9a9a9a" stroke="#111" stroke-width="1.05"/>
<path d="M85.16 427.91L86.71 429.46L85.16 431.01L83.61 429.46Z" fill="#9a9a9a" stroke="#111" stroke-width="1.05"/>
<path d="M84.95 430.67L86.50 432.22L84.95 433.77L83.40 432.22Z" fill="#9a9a9a" stroke="#111" stroke-width="1.05"/>
<path d="M82.42 433.43L83.97 434.98L82.42 436.53L80.87 434.98Z" fill="#9a9a9a" stroke="#111" stroke-width="1.05"/>
<path d="M85.40 435.27L86.95 436.82L85.40 438.37L83.85 436.82Z" fill="#9a9a9a" stroke="#111" stroke-width="1.05"/>
<path d="M84.16 437.11L85.71 438.66L84.16 440.21L82.61 438.66Z" fill="#9a9a9a" stroke="#111" stroke-width="1.05"/>
<path d="M84.03 453.69L85.58 455.24L84.03 456.79L82.48 455.24Z" fill="#9a9a9a" stroke="#111" stroke-width="1.05"/>
<path d="M86.44 457.37L87.99 458.92L86.44 460.47L84.89 458.92Z" fill="#9a9a9a" stroke="#111" stroke-width="1.05"/>
<circle cx="95.64" cy="375.13" r="1.15" fill="#a3ad9c" stroke="#111" stroke-width="1.1"/>
<circle cx="97.87" cy="404.04" r="1.15" fill="#a3ad9c" stroke="#111" stroke-width="1.1"/>
<circle cx="99.82" cy="423.93" r="1.15" fill="#a3ad9c" stroke="#111" stroke-width="1.1"/>
<circle cx="96.47" cy="426.69" r="1.15" fill="#a3ad9c" stroke="#111" stroke-width="1.1"/>
<circle cx="98.09" cy="433.14" r="1.15" fill="#a3ad9c" stroke="#111" stroke-width="1.1"/>
<circle cx="99.29" cy="437.74" r="1.15" fill="#a3ad9c" stroke="#111" stroke-width="1.1"/>
<circle cx="97.28" cy="439.59" r="1.15" fill="#a3ad9c" stroke="#111" stroke-width="1.1"/>
<circle cx="98.89" cy="441.43" r="1.15" fill="#a3ad9c" stroke="#111" stroke-width="1.1"/>
<circle cx="97.37" cy="443.27" r="1.15" fill="#a3ad9c" stroke="#111" stroke-width="1.1"/>
<circle cx="98.72" cy="445.11" r="1.15" fill="#a3ad9c" stroke="#111" stroke-width="1.1"/>
<circle cx="97.50" cy="446.95" r="1.15" fill="#a3ad9c" stroke="#111" stroke-width="1.1"/>
<circle cx="100.30" cy="448.24" r="1.15" fill="#a3ad9c" stroke="#111" stroke-width="1.1"/>
<circle cx="98.54" cy="449.71" r="1.15" fill="#a3ad9c" stroke="#111" stroke-width="1.1"/>
<circle cx="94.50" cy="451.19" r="1.15" fill="#a3ad9c" stroke="#111" stroke-width="1.1"/>
<circle cx="98.02" cy="452.48" r="1.15" fill="#a3ad9c" stroke="#111" stroke-width="1.1"/>
<circle cx="97.88" cy="455.24" r="1.15" fill="#a3ad9c" stroke="#111" stroke-width="1.1"/>
<circle cx="99.08" cy="458.92" r="1.15" fill="#a3ad9c" stroke="#111" stroke-width="1.1"/>
<circle cx="97.83" cy="461.69" r="1.15" fill="#a3ad9c" stroke="#111" stroke-width="1.1"/>
<circle cx="97.33" cy="464.45" r="1.15" fill="#a3ad9c" stroke="#111" stroke-width="1.1"/>
<circle cx="97.92" cy="467.21" r="1.15" fill="#a3ad9c" stroke="#111" stroke-width="1.1"/>
<circle cx="95.46" cy="474.58" r="1.15" fill="#a3ad9c" stroke="#111" stroke-width="1.1"/>
<circle cx="98.43" cy="476.42" r="1.15" fill="#a3ad9c" stroke="#111" stroke-width="1.1"/>
<circle cx="97.72" cy="481.39" r="1.15" fill="#a3ad9c" stroke="#111" stroke-width="1.1"/>
<line x1="94.90" y1="446.50" x2="100.10" y2="446.50" stroke="#111" stroke-width="1.1" stroke-linecap="butt"/>
<line x1="97.50" y1="441.50" x2="97.50" y2="450.50" stroke="#111" stroke-width="1.1" stroke-linecap="butt"/>
<line x1="95.70" y1="441.50" x2="99.30" y2="441.50" stroke="#111" stroke-width="1.1" stroke-linecap="butt"/>
<line x1="95.70" y1="450.50" x2="99.30" y2="450.50" stroke="#111" stroke-width="1.1" stroke-linecap="butt"/>
<rect x="102.90" y="415.52" width="3.2" height="3.2" fill="#3a0a1c"/>
<rect x="104.93" y="435.38" width="3.2" height="3.2" fill="#3a0a1c"/>
<rect x="101.97" y="436.92" width="3.2" height="3.2" fill="#3a0a1c"/>
<rect x="102.93" y="438.96" width="3.2" height="3.2" fill="#3a0a1c"/>
<rect x="106.50" y="440.26" width="3.2" height="3.2" fill="#3a0a1c"/>
<rect x="104.64" y="442.10" width="3.2" height="3.2" fill="#3a0a1c"/>
<rect x="102.41" y="444.11" width="3.2" height="3.2" fill="#3a0a1c"/>
<rect x="102.25" y="446.47" width="3.2" height="3.2" fill="#3a0a1c"/>
<rect x="105.30" y="448.03" width="3.2" height="3.2" fill="#3a0a1c"/>
<rect x="102.31" y="449.75" width="3.2" height="3.2" fill="#3a0a1c"/>
<rect x="103.86" y="451.89" width="3.2" height="3.2" fill="#3a0a1c"/>
<rect x="101.44" y="453.59" width="3.2" height="3.2" fill="#3a0a1c"/>
<rect x="103.53" y="455.26" width="3.2" height="3.2" fill="#3a0a1c"/>
<rect x="104.12" y="457.65" width="3.2" height="3.2" fill="#3a0a1c"/>
<rect x="101.58" y="459.38" width="3.2" height="3.2" fill="#3a0a1c"/>
<rect x="103.60" y="460.72" width="3.2" height="3.2" fill="#3a0a1c"/>
<rect x="103.49" y="462.93" width="3.2" height="3.2" fill="#3a0a1c"/>
<rect x="101.54" y="464.72" width="3.2" height="3.2" fill="#3a0a1c"/>
<rect x="104.02" y="466.95" width="3.2" height="3.2" fill="#3a0a1c"/>
<rect x="102.02" y="468.63" width="3.2" height="3.2" fill="#3a0a1c"/>
<rect x="104.69" y="469.98" width="3.2" height="3.2" fill="#3a0a1c"/>
<rect x="102.52" y="472.59" width="3.2" height="3.2" fill="#3a0a1c"/>
<rect x="105.68" y="473.48" width="3.2" height="3.2" fill="#3a0a1c"/>
<rect x="103.22" y="486.42" width="3.2" height="3.2" fill="#3a0a1c"/>
<line x1="102.90" y1="455.50" x2="108.10" y2="455.50" stroke="#111" stroke-width="1.1" stroke-linecap="butt"/>
<line x1="105.50" y1="452.50" x2="105.50" y2="459.50" stroke="#111" stroke-width="1.1" stroke-linecap="butt"/>
<line x1="103.70" y1="452.50" x2="107.30" y2="452.50" stroke="#111" stroke-width="1.1" stroke-linecap="butt"/>
<line x1="103.70" y1="459.50" x2="107.30" y2="459.50" stroke="#111" stroke-width="1.1" stroke-linecap="butt"/>
<line x1="110.30" y1="444.50" x2="116.70" y2="444.50" stroke="#111" stroke-width="1.1" stroke-linecap="butt"/>
<line x1="113.50" y1="437.50" x2="113.50" y2="451.50" stroke="#111" stroke-width="1.1" stroke-linecap="butt"/>
<line x1="111.70" y1="437.50" x2="115.30" y2="437.50" stroke="#111" stroke-width="1.1" stroke-linecap="butt"/>
<line x1="111.70" y1="451.50" x2="115.30" y2="451.50" stroke="#111" stroke-width="1.1" stroke-linecap="butt"/>
<path d="M109.63 403.35H113.63L111.63 406.95Z" fill="#111"/>
<path d="M110.24 440.55H114.24L112.24 444.15Z" fill="#111"/>
<path d="M111.52 443.31H115.52L113.52 446.91Z" fill="#111"/>
<path d="M111.50 446.07H115.50L113.50 449.67Z" fill="#111"/>
<path d="M111.18 448.84H115.18L113.18 452.44Z" fill="#111"/>
<path d="M112.48 451.60H116.48L114.48 455.20Z" fill="#111"/>
<path d="M111.71 465.41H115.71L113.71 469.01Z" fill="#111"/>
<line x1="117.30" y1="442.50" x2="123.70" y2="442.50" stroke="#111" stroke-width="1.1" stroke-linecap="butt"/>
<line x1="120.50" y1="436.50" x2="120.50" y2="448.50" stroke="#111" stroke-width="1.1" stroke-linecap="butt"/>
<line x1="118.70" y1="436.50" x2="122.30" y2="436.50" stroke="#111" stroke-width="1.1" stroke-linecap="butt"/>
<line x1="118.70" y1="448.50" x2="122.30" y2="448.50" stroke="#111" stroke-width="1.1" stroke-linecap="butt"/>
<path d="M120.68 421.46L122.23 423.01L120.68 424.56L119.13 423.01Z" fill="#9a9a9a" stroke="#111" stroke-width="1.05"/>
<path d="M121.30 429.75L122.85 431.30L121.30 432.85L119.75 431.30Z" fill="#9a9a9a" stroke="#111" stroke-width="1.05"/>
<path d="M122.35 436.19L123.90 437.74L122.35 439.29L120.80 437.74Z" fill="#9a9a9a" stroke="#111" stroke-width="1.05"/>
<path d="M121.67 440.80L123.22 442.35L121.67 443.90L120.12 442.35Z" fill="#9a9a9a" stroke="#111" stroke-width="1.05"/>
<path d="M121.72 443.56L123.27 445.11L121.72 446.66L120.17 445.11Z" fill="#9a9a9a" stroke="#111" stroke-width="1.05"/>
<path d="M119.62 447.24L121.17 448.79L119.62 450.34L118.07 448.79Z" fill="#9a9a9a" stroke="#111" stroke-width="1.05"/>
<path d="M120.55 450.01L122.10 451.56L120.55 453.11L119.00 451.56Z" fill="#9a9a9a" stroke="#111" stroke-width="1.05"/>
<path d="M121.43 452.77L122.98 454.32L121.43 455.87L119.88 454.32Z" fill="#9a9a9a" stroke="#111" stroke-width="1.05"/>
<path d="M123.60 454.61L125.15 456.16L123.60 457.71L122.05 456.16Z" fill="#9a9a9a" stroke="#111" stroke-width="1.05"/>
<circle cx="134.54" cy="413.25" r="1.15" fill="#a3ad9c" stroke="#111" stroke-width="1.1"/>
<circle cx="133.08" cy="423.93" r="1.15" fill="#a3ad9c" stroke="#111" stroke-width="1.1"/>
<circle cx="133.39" cy="428.54" r="1.15" fill="#a3ad9c" stroke="#111" stroke-width="1.1"/>
<circle cx="135.90" cy="433.14" r="1.15" fill="#a3ad9c" stroke="#111" stroke-width="1.1"/>
<circle cx="132.96" cy="444.19" r="1.15" fill="#a3ad9c" stroke="#111" stroke-width="1.1"/>
<circle cx="134.17" cy="446.95" r="1.15" fill="#a3ad9c" stroke="#111" stroke-width="1.1"/>
<circle cx="134.28" cy="450.58" r="1.15" fill="#a3ad9c" stroke="#111" stroke-width="1.1"/>
<circle cx="131.95" cy="451.88" r="1.15" fill="#a3ad9c" stroke="#111" stroke-width="1.1"/>
<circle cx="135.51" cy="452.57" r="1.15" fill="#a3ad9c" stroke="#111" stroke-width="1.1"/>
<circle cx="133.24" cy="453.87" r="1.15" fill="#a3ad9c" stroke="#111" stroke-width="1.1"/>
<circle cx="130.40" cy="454.66" r="1.15" fill="#a3ad9c" stroke="#111" stroke-width="1.1"/>
<circle cx="134.08" cy="456.15" r="1.15" fill="#a3ad9c" stroke="#111" stroke-width="1.1"/>
<circle cx="131.10" cy="457.29" r="1.15" fill="#a3ad9c" stroke="#111" stroke-width="1.1"/>
<circle cx="133.25" cy="458.25" r="1.15" fill="#a3ad9c" stroke="#111" stroke-width="1.1"/>
<circle cx="131.26" cy="459.53" r="1.15" fill="#a3ad9c" stroke="#111" stroke-width="1.1"/>
<circle cx="134.54" cy="460.24" r="1.15" fill="#a3ad9c" stroke="#111" stroke-width="1.1"/>
<circle cx="132.47" cy="461.57" r="1.15" fill="#a3ad9c" stroke="#111" stroke-width="1.1"/>
<circle cx="130.44" cy="462.59" r="1.15" fill="#a3ad9c" stroke="#111" stroke-width="1.1"/>
<circle cx="133.27" cy="463.66" r="1.15" fill="#a3ad9c" stroke="#111" stroke-width="1.1"/>
<circle cx="135.77" cy="464.66" r="1.15" fill="#a3ad9c" stroke="#111" stroke-width="1.1"/>
<circle cx="133.26" cy="465.99" r="1.15" fill="#a3ad9c" stroke="#111" stroke-width="1.1"/>
<circle cx="130.65" cy="467.14" r="1.15" fill="#a3ad9c" stroke="#111" stroke-width="1.1"/>
<circle cx="136.20" cy="467.91" r="1.15" fill="#a3ad9c" stroke="#111" stroke-width="1.1"/>
<circle cx="132.98" cy="469.12" r="1.15" fill="#a3ad9c" stroke="#111" stroke-width="1.1"/>
<circle cx="130.40" cy="469.81" r="1.15" fill="#a3ad9c" stroke="#111" stroke-width="1.1"/>
<circle cx="132.55" cy="471.30" r="1.15" fill="#a3ad9c" stroke="#111" stroke-width="1.1"/>
<circle cx="136.20" cy="472.35" r="1.15" fill="#a3ad9c" stroke="#111" stroke-width="1.1"/>
<circle cx="133.62" cy="473.66" r="1.15" fill="#a3ad9c" stroke="#111" stroke-width="1.1"/>
<circle cx="131.19" cy="474.63" r="1.15" fill="#a3ad9c" stroke="#111" stroke-width="1.1"/>
<circle cx="136.20" cy="475.36" r="1.15" fill="#a3ad9c" stroke="#111" stroke-width="1.1"/>
<circle cx="133.08" cy="479.18" r="1.15" fill="#a3ad9c" stroke="#111" stroke-width="1.1"/>
<circle cx="133.32" cy="484.71" r="1.15" fill="#a3ad9c" stroke="#111" stroke-width="1.1"/>
<circle cx="134.46" cy="490.23" r="1.15" fill="#a3ad9c" stroke="#111" stroke-width="1.1"/>
<line x1="130.90" y1="459.50" x2="136.10" y2="459.50" stroke="#111" stroke-width="1.1" stroke-linecap="butt"/>
<line x1="133.50" y1="456.50" x2="133.50" y2="462.50" stroke="#111" stroke-width="1.1" stroke-linecap="butt"/>
<line x1="131.70" y1="456.50" x2="135.30" y2="456.50" stroke="#111" stroke-width="1.1" stroke-linecap="butt"/>
<line x1="131.70" y1="462.50" x2="135.30" y2="462.50" stroke="#111" stroke-width="1.1" stroke-linecap="butt"/>
<rect x="140.03" y="395.26" width="3.2" height="3.2" fill="#3a0a1c"/>
<rect x="139.19" y="435.22" width="3.2" height="3.2" fill="#3a0a1c"/>
<rect x="140.26" y="442.59" width="3.2" height="3.2" fill="#3a0a1c"/>
<rect x="140.58" y="455.48" width="3.2" height="3.2" fill="#3a0a1c"/>
<rect x="140.71" y="459.16" width="3.2" height="3.2" fill="#3a0a1c"/>
<rect x="139.23" y="462.85" width="3.2" height="3.2" fill="#3a0a1c"/>
<rect x="141.75" y="468.23" width="3.2" height="3.2" fill="#3a0a1c"/>
<rect x="141.67" y="470.69" width="3.2" height="3.2" fill="#3a0a1c"/>
<rect x="139.43" y="471.98" width="3.2" height="3.2" fill="#3a0a1c"/>
<rect x="141.41" y="474.64" width="3.2" height="3.2" fill="#3a0a1c"/>
<rect x="139.30" y="476.37" width="3.2" height="3.2" fill="#3a0a1c"/>
<rect x="140.67" y="478.41" width="3.2" height="3.2" fill="#3a0a1c"/>
<rect x="139.52" y="480.44" width="3.2" height="3.2" fill="#3a0a1c"/>
<rect x="139.31" y="483.44" width="3.2" height="3.2" fill="#3a0a1c"/>
<rect x="141.55" y="484.78" width="3.2" height="3.2" fill="#3a0a1c"/>
<rect x="138.21" y="485.57" width="3.2" height="3.2" fill="#3a0a1c"/>
<rect x="140.90" y="486.37" width="3.2" height="3.2" fill="#3a0a1c"/>
<rect x="142.90" y="487.32" width="3.2" height="3.2" fill="#3a0a1c"/>
<rect x="137.10" y="487.71" width="3.2" height="3.2" fill="#3a0a1c"/>
<rect x="139.12" y="488.61" width="3.2" height="3.2" fill="#3a0a1c"/>
<rect x="141.76" y="489.39" width="3.2" height="3.2" fill="#3a0a1c"/>
<rect x="137.10" y="490.27" width="3.2" height="3.2" fill="#3a0a1c"/>
<rect x="140.06" y="490.98" width="3.2" height="3.2" fill="#3a0a1c"/>
<rect x="142.90" y="491.74" width="3.2" height="3.2" fill="#3a0a1c"/>
<rect x="137.51" y="492.22" width="3.2" height="3.2" fill="#3a0a1c"/>
<rect x="138.42" y="493.01" width="3.2" height="3.2" fill="#3a0a1c"/>
<rect x="141.03" y="493.72" width="3.2" height="3.2" fill="#3a0a1c"/>
<rect x="142.75" y="494.69" width="3.2" height="3.2" fill="#3a0a1c"/>
<rect x="137.57" y="495.46" width="3.2" height="3.2" fill="#3a0a1c"/>
<rect x="139.99" y="495.84" width="3.2" height="3.2" fill="#3a0a1c"/>
<line x1="138.90" y1="478.50" x2="144.10" y2="478.50" stroke="#111" stroke-width="1.1" stroke-linecap="butt"/>
<line x1="141.50" y1="474.50" x2="141.50" y2="482.50" stroke="#111" stroke-width="1.1" stroke-linecap="butt"/>
<line x1="139.70" y1="474.50" x2="143.30" y2="474.50" stroke="#111" stroke-width="1.1" stroke-linecap="butt"/>
<line x1="139.70" y1="482.50" x2="143.30" y2="482.50" stroke="#111" stroke-width="1.1" stroke-linecap="butt"/>
<line x1="145.30" y1="443.50" x2="151.70" y2="443.50" stroke="#111" stroke-width="1.1" stroke-linecap="butt"/>
<line x1="148.50" y1="438.50" x2="148.50" y2="447.50" stroke="#111" stroke-width="1.1" stroke-linecap="butt"/>
<line x1="146.70" y1="438.50" x2="150.30" y2="438.50" stroke="#111" stroke-width="1.1" stroke-linecap="butt"/>
<line x1="146.70" y1="447.50" x2="150.30" y2="447.50" stroke="#111" stroke-width="1.1" stroke-linecap="butt"/>
<path d="M146.35 416.61H150.35L148.35 420.21Z" fill="#111"/>
<path d="M146.10 425.82H150.10L148.10 429.42Z" fill="#111"/>
<path d="M145.76 435.02H149.76L147.76 438.62Z" fill="#111"/>
<path d="M145.97 438.71H149.97L147.97 442.31Z" fill="#111"/>
<path d="M147.24 441.47H151.24L149.24 445.07Z" fill="#111"/>
<path d="M143.97 443.31H147.97L145.97 446.91Z" fill="#111"/>
<path d="M148.06 446.07H152.06L150.06 449.67Z" fill="#111"/>
<path d="M145.49 447.91H149.49L147.49 451.51Z" fill="#111"/>
<path d="M147.68 450.68H151.68L149.68 454.28Z" fill="#111"/>
<path d="M146.94 461.73H150.94L148.94 465.33Z" fill="#111"/>
<line x1="153.30" y1="433.50" x2="159.70" y2="433.50" stroke="#111" stroke-width="1.1" stroke-linecap="butt"/>
<line x1="156.50" y1="426.50" x2="156.50" y2="439.50" stroke="#111" stroke-width="1.1" stroke-linecap="butt"/>
<line x1="154.70" y1="426.50" x2="158.30" y2="426.50" stroke="#111" stroke-width="1.1" stroke-linecap="butt"/>
<line x1="154.70" y1="439.50" x2="158.30" y2="439.50" stroke="#111" stroke-width="1.1" stroke-linecap="butt"/>
<path d="M155.14 389.79L156.69 391.34L155.14 392.89L153.59 391.34Z" fill="#9a9a9a" stroke="#111" stroke-width="1.05"/>
<path d="M158.31 402.68L159.86 404.23L158.31 405.78L156.76 404.23Z" fill="#9a9a9a" stroke="#111" stroke-width="1.05"/>
<path d="M157.03 416.49L158.58 418.04L157.03 419.59L155.48 418.04Z" fill="#9a9a9a" stroke="#111" stroke-width="1.05"/>
<path d="M157.59 426.07L159.14 427.62L157.59 429.17L156.04 427.62Z" fill="#9a9a9a" stroke="#111" stroke-width="1.05"/>
<path d="M156.90 429.75L158.45 431.30L156.90 432.85L155.35 431.30Z" fill="#9a9a9a" stroke="#111" stroke-width="1.05"/>
<path d="M156.55 433.43L158.10 434.98L156.55 436.53L155.00 434.98Z" fill="#9a9a9a" stroke="#111" stroke-width="1.05"/>
<path d="M155.15 437.11L156.70 438.66L155.15 440.21L153.60 438.66Z" fill="#9a9a9a" stroke="#111" stroke-width="1.05"/>
<path d="M157.67 439.88L159.22 441.43L157.67 442.98L156.12 441.43Z" fill="#9a9a9a" stroke="#111" stroke-width="1.05"/>
<path d="M156.73 443.56L158.28 445.11L156.73 446.66L155.18 445.11Z" fill="#9a9a9a" stroke="#111" stroke-width="1.05"/>
<path d="M156.41 448.16L157.96 449.71L156.41 451.26L154.86 449.71Z" fill="#9a9a9a" stroke="#111" stroke-width="1.05"/>
<path d="M157.05 452.77L158.60 454.32L157.05 455.87L155.50 454.32Z" fill="#9a9a9a" stroke="#111" stroke-width="1.05"/>
<path d="M156.78 457.37L158.33 458.92L156.78 460.47L155.23 458.92Z" fill="#9a9a9a" stroke="#111" stroke-width="1.05"/>
<circle cx="169.88" cy="388.57" r="1.15" fill="#a3ad9c" stroke="#111" stroke-width="1.1"/>
<circle cx="168.83" cy="398.52" r="1.15" fill="#a3ad9c" stroke="#111" stroke-width="1.1"/>
<circle cx="169.16" cy="408.28" r="1.15" fill="#a3ad9c" stroke="#111" stroke-width="1.1"/>
<circle cx="167.06" cy="413.80" r="1.15" fill="#a3ad9c" stroke="#111" stroke-width="1.1"/>
<circle cx="168.78" cy="416.57" r="1.15" fill="#a3ad9c" stroke="#111" stroke-width="1.1"/>
<circle cx="169.88" cy="423.93" r="1.15" fill="#a3ad9c" stroke="#111" stroke-width="1.1"/>
<circle cx="170.54" cy="429.46" r="1.15" fill="#a3ad9c" stroke="#111" stroke-width="1.1"/>
<circle cx="168.84" cy="432.22" r="1.15" fill="#a3ad9c" stroke="#111" stroke-width="1.1"/>
<circle cx="169.08" cy="434.98" r="1.15" fill="#a3ad9c" stroke="#111" stroke-width="1.1"/>
<circle cx="170.78" cy="438.45" r="1.15" fill="#a3ad9c" stroke="#111" stroke-width="1.1"/>
<circle cx="168.87" cy="439.59" r="1.15" fill="#a3ad9c" stroke="#111" stroke-width="1.1"/>
<circle cx="171.15" cy="440.70" r="1.15" fill="#a3ad9c" stroke="#111" stroke-width="1.1"/>
<circle cx="169.24" cy="441.97" r="1.15" fill="#a3ad9c" stroke="#111" stroke-width="1.1"/>
<circle cx="171.23" cy="443.14" r="1.15" fill="#a3ad9c" stroke="#111" stroke-width="1.1"/>
<circle cx="168.43" cy="444.03" r="1.15" fill="#a3ad9c" stroke="#111" stroke-width="1.1"/>
<circle cx="166.30" cy="444.97" r="1.15" fill="#a3ad9c" stroke="#111" stroke-width="1.1"/>
<circle cx="169.96" cy="446.35" r="1.15" fill="#a3ad9c" stroke="#111" stroke-width="1.1"/>
<circle cx="167.66" cy="447.42" r="1.15" fill="#a3ad9c" stroke="#111" stroke-width="1.1"/>
<circle cx="170.47" cy="448.65" r="1.15" fill="#a3ad9c" stroke="#111" stroke-width="1.1"/>
<circle cx="168.74" cy="450.01" r="1.15" fill="#a3ad9c" stroke="#111" stroke-width="1.1"/>
<circle cx="169.74" cy="455.24" r="1.15" fill="#a3ad9c" stroke="#111" stroke-width="1.1"/>
<circle cx="170.78" cy="464.45" r="1.15" fill="#a3ad9c" stroke="#111" stroke-width="1.1"/>
<circle cx="169.21" cy="468.13" r="1.15" fill="#a3ad9c" stroke="#111" stroke-width="1.1"/>
<circle cx="169.57" cy="473.66" r="1.15" fill="#a3ad9c" stroke="#111" stroke-width="1.1"/>
<circle cx="167.51" cy="475.50" r="1.15" fill="#a3ad9c" stroke="#111" stroke-width="1.1"/>
<circle cx="171.69" cy="482.86" r="1.15" fill="#a3ad9c" stroke="#111" stroke-width="1.1"/>
<circle cx="171.41" cy="492.07" r="1.15" fill="#a3ad9c" stroke="#111" stroke-width="1.1"/>
<line x1="166.90" y1="442.50" x2="172.10" y2="442.50" stroke="#111" stroke-width="1.1" stroke-linecap="butt"/>
<line x1="169.50" y1="437.50" x2="169.50" y2="447.50" stroke="#111" stroke-width="1.1" stroke-linecap="butt"/>
<line x1="167.70" y1="437.50" x2="171.30" y2="437.50" stroke="#111" stroke-width="1.1" stroke-linecap="butt"/>
<line x1="167.70" y1="447.50" x2="171.30" y2="447.50" stroke="#111" stroke-width="1.1" stroke-linecap="butt"/>
<line x1="174.30" y1="460.50" x2="180.70" y2="460.50" stroke="#111" stroke-width="1.1" stroke-linecap="butt"/>
<line x1="177.50" y1="446.50" x2="177.50" y2="476.50" stroke="#111" stroke-width="1.1" stroke-linecap="butt"/>
<line x1="175.70" y1="446.50" x2="179.30" y2="446.50" stroke="#111" stroke-width="1.1" stroke-linecap="butt"/>
<line x1="175.70" y1="476.50" x2="179.30" y2="476.50" stroke="#111" stroke-width="1.1" stroke-linecap="butt"/>
<rect x="173.92" y="416.44" width="3.2" height="3.2" fill="#3a0a1c"/>
<rect x="175.86" y="463.77" width="3.2" height="3.2" fill="#3a0a1c"/>
<rect x="176.32" y="469.29" width="3.2" height="3.2" fill="#3a0a1c"/>
<rect x="176.87" y="485.07" width="3.2" height="3.2" fill="#3a0a1c"/>
<rect x="174.51" y="486.06" width="3.2" height="3.2" fill="#3a0a1c"/>
<rect x="178.45" y="487.23" width="3.2" height="3.2" fill="#3a0a1c"/>
<rect x="174.87" y="488.38" width="3.2" height="3.2" fill="#3a0a1c"/>
<rect x="178.49" y="489.07" width="3.2" height="3.2" fill="#3a0a1c"/>
<rect x="177.00" y="490.74" width="3.2" height="3.2" fill="#3a0a1c"/>
<rect x="173.59" y="491.76" width="3.2" height="3.2" fill="#3a0a1c"/>
<rect x="175.95" y="492.93" width="3.2" height="3.2" fill="#3a0a1c"/>
<rect x="178.80" y="493.98" width="3.2" height="3.2" fill="#3a0a1c"/>
<rect x="173.67" y="494.82" width="3.2" height="3.2" fill="#3a0a1c"/>
<rect x="176.48" y="495.93" width="3.2" height="3.2" fill="#3a0a1c"/>
<line x1="181.30" y1="456.50" x2="187.70" y2="456.50" stroke="#111" stroke-width="1.1" stroke-linecap="butt"/>
<line x1="184.50" y1="451.50" x2="184.50" y2="460.50" stroke="#111" stroke-width="1.1" stroke-linecap="butt"/>
<line x1="182.70" y1="451.50" x2="186.30" y2="451.50" stroke="#111" stroke-width="1.1" stroke-linecap="butt"/>
<line x1="182.70" y1="460.50" x2="186.30" y2="460.50" stroke="#111" stroke-width="1.1" stroke-linecap="butt"/>
<path d="M182.62 425.82H186.62L184.62 429.42Z" fill="#111"/>
<path d="M181.95 448.48H185.95L183.95 452.08Z" fill="#111"/>
<path d="M183.41 450.45H187.41L185.41 454.05Z" fill="#111"/>
<path d="M181.17 451.43H185.17L183.17 455.03Z" fill="#111"/>
<path d="M183.62 452.94H187.62L185.62 456.54Z" fill="#111"/>
<path d="M181.01 454.56H185.01L183.01 458.16Z" fill="#111"/>
<path d="M182.74 456.01H186.74L184.74 459.61Z" fill="#111"/>
<path d="M179.86 457.67H183.86L181.86 461.27Z" fill="#111"/>
<path d="M181.84 458.91H185.84L183.84 462.51Z" fill="#111"/>
<path d="M184.82 460.36H188.82L186.82 463.96Z" fill="#111"/>
<path d="M182.73 469.09H186.73L184.73 472.69Z" fill="#111"/>
<line x1="189.30" y1="442.50" x2="195.70" y2="442.50" stroke="#111" stroke-width="1.1" stroke-linecap="butt"/>
<line x1="192.50" y1="434.50" x2="192.50" y2="449.50" stroke="#111" stroke-width="1.1" stroke-linecap="butt"/>
<line x1="190.70" y1="434.50" x2="194.30" y2="434.50" stroke="#111" stroke-width="1.1" stroke-linecap="butt"/>
<line x1="190.70" y1="449.50" x2="194.30" y2="449.50" stroke="#111" stroke-width="1.1" stroke-linecap="butt"/>
<path d="M192.58 409.49L194.13 411.04L192.58 412.59L191.03 411.04Z" fill="#9a9a9a" stroke="#111" stroke-width="1.05"/>
<path d="M191.00 411.70L192.55 413.25L191.00 414.80L189.45 413.25Z" fill="#9a9a9a" stroke="#111" stroke-width="1.05"/>
<path d="M192.91 425.14L194.46 426.69L192.91 428.24L191.36 426.69Z" fill="#9a9a9a" stroke="#111" stroke-width="1.05"/>
<path d="M193.45 437.11L195.00 438.66L193.45 440.21L191.90 438.66Z" fill="#9a9a9a" stroke="#111" stroke-width="1.05"/>
<path d="M192.66 440.80L194.21 442.35L192.66 443.90L191.11 442.35Z" fill="#9a9a9a" stroke="#111" stroke-width="1.05"/>
<path d="M194.48 443.56L196.03 445.11L194.48 446.66L192.93 445.11Z" fill="#9a9a9a" stroke="#111" stroke-width="1.05"/>
<path d="M194.51 446.32L196.06 447.87L194.51 449.42L192.96 447.87Z" fill="#9a9a9a" stroke="#111" stroke-width="1.05"/>
<path d="M193.93 456.45L195.48 458.00L193.93 459.55L192.38 458.00Z" fill="#9a9a9a" stroke="#111" stroke-width="1.05"/>
<path d="M190.36 457.37L191.91 458.92L190.36 460.47L188.81 458.92Z" fill="#9a9a9a" stroke="#111" stroke-width="1.05"/>
<path d="M194.20 461.06L195.75 462.61L194.20 464.16L192.65 462.61Z" fill="#9a9a9a" stroke="#111" stroke-width="1.05"/>
<circle cx="203.94" cy="387.10" r="1.15" fill="#a3ad9c" stroke="#111" stroke-width="1.1"/>
<circle cx="204.02" cy="389.86" r="1.15" fill="#a3ad9c" stroke="#111" stroke-width="1.1"/>
<circle cx="206.24" cy="401.83" r="1.15" fill="#a3ad9c" stroke="#111" stroke-width="1.1"/>
<circle cx="206.78" cy="409.20" r="1.15" fill="#a3ad9c" stroke="#111" stroke-width="1.1"/>
<circle cx="205.48" cy="417.12" r="1.15" fill="#a3ad9c" stroke="#111" stroke-width="1.1"/>
<circle cx="206.30" cy="428.54" r="1.15" fill="#a3ad9c" stroke="#111" stroke-width="1.1"/>
<circle cx="206.37" cy="432.95" r="1.15" fill="#a3ad9c" stroke="#111" stroke-width="1.1"/>
<circle cx="203.75" cy="433.84" r="1.15" fill="#a3ad9c" stroke="#111" stroke-width="1.1"/>
<circle cx="208.20" cy="434.91" r="1.15" fill="#a3ad9c" stroke="#111" stroke-width="1.1"/>
<circle cx="205.53" cy="435.64" r="1.15" fill="#a3ad9c" stroke="#111" stroke-width="1.1"/>
<circle cx="205.13" cy="440.71" r="1.15" fill="#a3ad9c" stroke="#111" stroke-width="1.1"/>
<circle cx="207.75" cy="441.49" r="1.15" fill="#a3ad9c" stroke="#111" stroke-width="1.1"/>
<circle cx="203.32" cy="442.15" r="1.15" fill="#a3ad9c" stroke="#111" stroke-width="1.1"/>
<circle cx="205.49" cy="443.13" r="1.15" fill="#a3ad9c" stroke="#111" stroke-width="1.1"/>
<circle cx="207.80" cy="444.11" r="1.15" fill="#a3ad9c" stroke="#111" stroke-width="1.1"/>
<circle cx="204.04" cy="445.04" r="1.15" fill="#a3ad9c" stroke="#111" stroke-width="1.1"/>
<circle cx="206.20" cy="445.82" r="1.15" fill="#a3ad9c" stroke="#111" stroke-width="1.1"/>
<circle cx="203.18" cy="447.14" r="1.15" fill="#a3ad9c" stroke="#111" stroke-width="1.1"/>
<circle cx="206.42" cy="448.15" r="1.15" fill="#a3ad9c" stroke="#111" stroke-width="1.1"/>
<circle cx="205.70" cy="455.24" r="1.15" fill="#a3ad9c" stroke="#111" stroke-width="1.1"/>
<circle cx="203.53" cy="457.08" r="1.15" fill="#a3ad9c" stroke="#111" stroke-width="1.1"/>
<circle cx="207.00" cy="460.76" r="1.15" fill="#a3ad9c" stroke="#111" stroke-width="1.1"/>
<circle cx="206.59" cy="465.37" r="1.15" fill="#a3ad9c" stroke="#111" stroke-width="1.1"/>
<circle cx="206.79" cy="469.97" r="1.15" fill="#a3ad9c" stroke="#111" stroke-width="1.1"/>
<circle cx="206.92" cy="472.73" r="1.15" fill="#a3ad9c" stroke="#111" stroke-width="1.1"/>
<circle cx="205.26" cy="477.34" r="1.15" fill="#a3ad9c" stroke="#111" stroke-width="1.1"/>
<circle cx="205.56" cy="489.31" r="1.15" fill="#a3ad9c" stroke="#111" stroke-width="1.1"/>
<circle cx="204.70" cy="492.07" r="1.15" fill="#a3ad9c" stroke="#111" stroke-width="1.1"/>
<circle cx="206.46" cy="496.68" r="1.15" fill="#a3ad9c" stroke="#111" stroke-width="1.1"/>
<line x1="202.90" y1="445.50" x2="208.10" y2="445.50" stroke="#111" stroke-width="1.1" stroke-linecap="butt"/>
<line x1="205.50" y1="439.50" x2="205.50" y2="450.50" stroke="#111" stroke-width="1.1" stroke-linecap="butt"/>
<line x1="203.70" y1="439.50" x2="207.30" y2="439.50" stroke="#111" stroke-width="1.1" stroke-linecap="butt"/>
<line x1="203.70" y1="450.50" x2="207.30" y2="450.50" stroke="#111" stroke-width="1.1" stroke-linecap="butt"/>
<line x1="210.30" y1="467.50" x2="216.70" y2="467.50" stroke="#111" stroke-width="1.1" stroke-linecap="butt"/>
<line x1="213.50" y1="460.50" x2="213.50" y2="473.50" stroke="#111" stroke-width="1.1" stroke-linecap="butt"/>
<line x1="211.70" y1="460.50" x2="215.30" y2="460.50" stroke="#111" stroke-width="1.1" stroke-linecap="butt"/>
<line x1="211.70" y1="473.50" x2="215.30" y2="473.50" stroke="#111" stroke-width="1.1" stroke-linecap="butt"/>
<rect x="211.27" y="414.97" width="3.2" height="3.2" fill="#3a0a1c"/>
<rect x="213.54" y="445.72" width="3.2" height="3.2" fill="#3a0a1c"/>
<rect x="210.80" y="457.32" width="3.2" height="3.2" fill="#3a0a1c"/>
<rect x="212.30" y="459.16" width="3.2" height="3.2" fill="#3a0a1c"/>
<rect x="212.92" y="469.29" width="3.2" height="3.2" fill="#3a0a1c"/>
<rect x="211.73" y="473.90" width="3.2" height="3.2" fill="#3a0a1c"/>
<rect x="211.24" y="477.58" width="3.2" height="3.2" fill="#3a0a1c"/>
<rect x="210.40" y="494.16" width="3.2" height="3.2" fill="#3a0a1c"/>
<rect x="212.75" y="495.63" width="3.2" height="3.2" fill="#3a0a1c"/>
<line x1="218.30" y1="457.50" x2="224.70" y2="457.50" stroke="#111" stroke-width="1.1" stroke-linecap="butt"/>
<line x1="221.50" y1="450.50" x2="221.50" y2="463.50" stroke="#111" stroke-width="1.1" stroke-linecap="butt"/>
<line x1="219.70" y1="450.50" x2="223.30" y2="450.50" stroke="#111" stroke-width="1.1" stroke-linecap="butt"/>
<line x1="219.70" y1="463.50" x2="223.30" y2="463.50" stroke="#111" stroke-width="1.1" stroke-linecap="butt"/>
<path d="M220.16 434.10H224.16L222.16 437.70Z" fill="#111"/>
<path d="M220.79 447.91H224.79L222.79 451.51Z" fill="#111"/>
<path d="M218.71 449.76H222.71L220.71 453.36Z" fill="#111"/>
<path d="M220.82 468.17H224.82L222.82 471.77Z" fill="#111"/>
<path d="M218.51 469.09H222.51L220.51 472.69Z" fill="#111"/>
<path d="M218.90 472.78H222.90L220.90 476.38Z" fill="#111"/>
<line x1="225.30" y1="445.50" x2="231.70" y2="445.50" stroke="#111" stroke-width="1.1" stroke-linecap="butt"/>
<line x1="228.50" y1="440.50" x2="228.50" y2="449.50" stroke="#111" stroke-width="1.1" stroke-linecap="butt"/>
<line x1="226.70" y1="440.50" x2="230.30" y2="440.50" stroke="#111" stroke-width="1.1" stroke-linecap="butt"/>
<line x1="226.70" y1="449.50" x2="230.30" y2="449.50" stroke="#111" stroke-width="1.1" stroke-linecap="butt"/>
<path d="M229.78 415.02L231.33 416.57L229.78 418.12L228.23 416.57Z" fill="#9a9a9a" stroke="#111" stroke-width="1.05"/>
<path d="M228.48 434.35L230.03 435.90L228.48 437.45L226.93 435.90Z" fill="#9a9a9a" stroke="#111" stroke-width="1.05"/>
<path d="M228.85 437.11L230.40 438.66L228.85 440.21L227.30 438.66Z" fill="#9a9a9a" stroke="#111" stroke-width="1.05"/>
<path d="M228.85 439.88L230.40 441.43L228.85 442.98L227.30 441.43Z" fill="#9a9a9a" stroke="#111" stroke-width="1.05"/>
<path d="M229.14 443.56L230.69 445.11L229.14 446.66L227.59 445.11Z" fill="#9a9a9a" stroke="#111" stroke-width="1.05"/>
<path d="M229.99 446.32L231.54 447.87L229.99 449.42L228.44 447.87Z" fill="#9a9a9a" stroke="#111" stroke-width="1.05"/>
<path d="M228.01 449.09L229.56 450.64L228.01 452.19L226.46 450.64Z" fill="#9a9a9a" stroke="#111" stroke-width="1.05"/>
<path d="M229.08 452.77L230.63 454.32L229.08 455.87L227.53 454.32Z" fill="#9a9a9a" stroke="#111" stroke-width="1.05"/>
<path d="M228.23 465.66L229.78 467.21L228.23 468.76L226.68 467.21Z" fill="#9a9a9a" stroke="#111" stroke-width="1.05"/>
<line x1="133.50" y1="371.50" x2="157.50" y2="371.50" stroke="#111" stroke-width="1.15" stroke-linecap="butt"/>
<line x1="133.50" y1="369.60" x2="133.50" y2="373.40" stroke="#111" stroke-width="1.25" stroke-linecap="butt"/>
<line x1="157.50" y1="369.60" x2="157.50" y2="373.40" stroke="#111" stroke-width="1.25" stroke-linecap="butt"/>
<path d="M143.75 366.70L144.20 367.48L145.08 367.67L144.48 368.34L144.57 369.23L143.75 368.87L142.93 369.23L143.02 368.34L142.42 367.67L143.30 367.48Z" fill="#111"/>
<path d="M147.25 366.70L147.70 367.48L148.58 367.67L147.98 368.34L148.07 369.23L147.25 368.87L146.43 369.23L146.52 368.34L145.92 367.67L146.80 367.48Z" fill="#111"/>
<line x1="141.50" y1="378.50" x2="149.50" y2="378.50" stroke="#111" stroke-width="1.15" stroke-linecap="butt"/>
<line x1="141.50" y1="376.60" x2="141.50" y2="380.40" stroke="#111" stroke-width="1.25" stroke-linecap="butt"/>
<line x1="149.50" y1="376.60" x2="149.50" y2="380.40" stroke="#111" stroke-width="1.25" stroke-linecap="butt"/>
<path d="M142.00 373.70L142.45 374.48L143.33 374.67L142.73 375.34L142.82 376.23L142.00 375.87L141.18 376.23L141.27 375.34L140.67 374.67L141.55 374.48Z" fill="#111"/>
<path d="M145.50 373.70L145.95 374.48L146.83 374.67L146.23 375.34L146.32 376.23L145.50 375.87L144.68 376.23L144.77 375.34L144.17 374.67L145.05 374.48Z" fill="#111"/>
<path d="M149.00 373.70L149.45 374.48L150.33 374.67L149.73 375.34L149.82 376.23L149.00 375.87L148.18 376.23L148.27 375.34L147.67 374.67L148.55 374.48Z" fill="#111"/>
<line x1="148.50" y1="384.50" x2="157.50" y2="384.50" stroke="#111" stroke-width="1.15" stroke-linecap="butt"/>
<line x1="148.50" y1="382.60" x2="148.50" y2="386.40" stroke="#111" stroke-width="1.25" stroke-linecap="butt"/>
<line x1="157.50" y1="382.60" x2="157.50" y2="386.40" stroke="#111" stroke-width="1.25" stroke-linecap="butt"/>
<path d="M149.50 379.70L149.95 380.48L150.83 380.67L150.23 381.34L150.32 382.23L149.50 381.87L148.68 382.23L148.77 381.34L148.17 380.67L149.05 380.48Z" fill="#111"/>
<path d="M153.00 379.70L153.45 380.48L154.33 380.67L153.73 381.34L153.82 382.23L153.00 381.87L152.18 382.23L152.27 381.34L151.67 380.67L152.55 380.48Z" fill="#111"/>
<path d="M156.50 379.70L156.95 380.48L157.83 380.67L157.23 381.34L157.32 382.23L156.50 381.87L155.68 382.23L155.77 381.34L155.17 380.67L156.05 380.48Z" fill="#111"/>
<line x1="133.50" y1="391.50" x2="141.50" y2="391.50" stroke="#111" stroke-width="1.15" stroke-linecap="butt"/>
<line x1="133.50" y1="389.60" x2="133.50" y2="393.40" stroke="#111" stroke-width="1.25" stroke-linecap="butt"/>
<line x1="141.50" y1="389.60" x2="141.50" y2="393.40" stroke="#111" stroke-width="1.25" stroke-linecap="butt"/>
<path d="M134.00 386.70L134.45 387.48L135.33 387.67L134.73 388.34L134.82 389.23L134.00 388.87L133.18 389.23L133.27 388.34L132.67 387.67L133.55 387.48Z" fill="#111"/>
<path d="M137.50 386.70L137.95 387.48L138.83 387.67L138.23 388.34L138.32 389.23L137.50 388.87L136.68 389.23L136.77 388.34L136.17 387.67L137.05 387.48Z" fill="#111"/>
<path d="M141.00 386.70L141.45 387.48L142.33 387.67L141.73 388.34L141.82 389.23L141.00 388.87L140.18 389.23L140.27 388.34L139.67 387.67L140.55 387.48Z" fill="#111"/>
<line x1="169.50" y1="384.50" x2="177.50" y2="384.50" stroke="#111" stroke-width="1.15" stroke-linecap="butt"/>
<line x1="169.50" y1="382.60" x2="169.50" y2="386.40" stroke="#111" stroke-width="1.25" stroke-linecap="butt"/>
<line x1="177.50" y1="382.60" x2="177.50" y2="386.40" stroke="#111" stroke-width="1.25" stroke-linecap="butt"/>
<path d="M170.00 379.70L170.45 380.48L171.33 380.67L170.73 381.34L170.82 382.23L170.00 381.87L169.18 382.23L169.27 381.34L168.67 380.67L169.55 380.48Z" fill="#111"/>
<path d="M173.50 379.70L173.95 380.48L174.83 380.67L174.23 381.34L174.32 382.23L173.50 381.87L172.68 382.23L172.77 381.34L172.17 380.67L173.05 380.48Z" fill="#111"/>
<path d="M177.00 379.70L177.45 380.48L178.33 380.67L177.73 381.34L177.82 382.23L177.00 381.87L176.18 382.23L176.27 381.34L175.67 380.67L176.55 380.48Z" fill="#111"/>
<line x1="177.50" y1="412.50" x2="185.50" y2="412.50" stroke="#111" stroke-width="1.15" stroke-linecap="butt"/>
<line x1="177.50" y1="410.60" x2="177.50" y2="414.40" stroke="#111" stroke-width="1.25" stroke-linecap="butt"/>
<line x1="185.50" y1="410.60" x2="185.50" y2="414.40" stroke="#111" stroke-width="1.25" stroke-linecap="butt"/>
<path d="M178.00 407.70L178.45 408.48L179.33 408.67L178.73 409.34L178.82 410.23L178.00 409.87L177.18 410.23L177.27 409.34L176.67 408.67L177.55 408.48Z" fill="#111"/>
<path d="M181.50 407.70L181.95 408.48L182.83 408.67L182.23 409.34L182.32 410.23L181.50 409.87L180.68 410.23L180.77 409.34L180.17 408.67L181.05 408.48Z" fill="#111"/>
<path d="M185.00 407.70L185.45 408.48L186.33 408.67L185.73 409.34L185.82 410.23L185.00 409.87L184.18 410.23L184.27 409.34L183.67 408.67L184.55 408.48Z" fill="#111"/>
<line x1="205.50" y1="381.50" x2="214.50" y2="381.50" stroke="#111" stroke-width="1.15" stroke-linecap="butt"/>
<line x1="205.50" y1="379.60" x2="205.50" y2="383.40" stroke="#111" stroke-width="1.25" stroke-linecap="butt"/>
<line x1="214.50" y1="379.60" x2="214.50" y2="383.40" stroke="#111" stroke-width="1.25" stroke-linecap="butt"/>
<path d="M206.50 376.70L206.95 377.48L207.83 377.67L207.23 378.34L207.32 379.23L206.50 378.87L205.68 379.23L205.77 378.34L205.17 377.67L206.05 377.48Z" fill="#111"/>
<path d="M210.00 376.70L210.45 377.48L211.33 377.67L210.73 378.34L210.82 379.23L210.00 378.87L209.18 379.23L209.27 378.34L208.67 377.67L209.55 377.48Z" fill="#111"/>
<path d="M213.50 376.70L213.95 377.48L214.83 377.67L214.23 378.34L214.32 379.23L213.50 378.87L212.68 379.23L212.77 378.34L212.17 377.67L213.05 377.48Z" fill="#111"/>
<line x1="213.50" y1="411.50" x2="221.50" y2="411.50" stroke="#111" stroke-width="1.15" stroke-linecap="butt"/>
<line x1="213.50" y1="409.60" x2="213.50" y2="413.40" stroke="#111" stroke-width="1.25" stroke-linecap="butt"/>
<line x1="221.50" y1="409.60" x2="221.50" y2="413.40" stroke="#111" stroke-width="1.25" stroke-linecap="butt"/>
<path d="M214.00 406.70L214.45 407.48L215.33 407.67L214.73 408.34L214.82 409.23L214.00 408.87L213.18 409.23L213.27 408.34L212.67 407.67L213.55 407.48Z" fill="#111"/>
<path d="M217.50 406.70L217.95 407.48L218.83 407.67L218.23 408.34L218.32 409.23L217.50 408.87L216.68 409.23L216.77 408.34L216.17 407.67L217.05 407.48Z" fill="#111"/>
<path d="M221.00 406.70L221.45 407.48L222.33 407.67L221.73 408.34L221.82 409.23L221.00 408.87L220.18 409.23L220.27 408.34L219.67 407.67L220.55 407.48Z" fill="#111"/>
<line x1="221.50" y1="400.50" x2="229.50" y2="400.50" stroke="#111" stroke-width="1.15" stroke-linecap="butt"/>
<line x1="221.50" y1="398.60" x2="221.50" y2="402.40" stroke="#111" stroke-width="1.25" stroke-linecap="butt"/>
<line x1="229.50" y1="398.60" x2="229.50" y2="402.40" stroke="#111" stroke-width="1.25" stroke-linecap="butt"/>
<path d="M225.50 395.70L225.95 396.48L226.83 396.67L226.23 397.34L226.32 398.23L225.50 397.87L224.68 398.23L224.77 397.34L224.17 396.67L225.05 396.48Z" fill="#111"/>
<text x="270.20" y="315.80" font-size="13.8" fill="#000" stroke="#000" stroke-width="0" font-weight="bold">E</text>
<circle cx="327.00" cy="323.80" r="1.2" fill="#a3ad9c" stroke="#111" stroke-width="1.1"/>
<rect x="325.35" y="333.15" width="3.3" height="3.3" fill="#3a0a1c"/>
<path d="M324.90 343.21H329.10L327.00 346.99Z" fill="#111"/>
<path d="M327.00 354.10L328.70 355.80L327.00 357.50L325.30 355.80Z" fill="#9a9a9a" stroke="#111" stroke-width="1.05"/>
<text x="331.40" y="326.30" font-size="7" fill="#161616" stroke="#161616" stroke-width="0.17" textLength="10.8" lengthAdjust="spacingAndGlyphs">Ctrl</text>
<text x="331.40" y="337.10" font-size="7" fill="#161616" stroke="#161616" stroke-width="0.17">Hdac8<tspan dy="-2.3" font-size="4.8">&#916;/&#916;</tspan><tspan dy="2.3" font-size="0.01">.</tspan></text>
<text x="331.40" y="347.20" font-size="7" fill="#161616" stroke="#161616" stroke-width="0.17">Hdac8<tspan dy="-2.3" font-size="4.8">&#916;/&#916;</tspan><tspan dy="2.3" font-size="0.01">.</tspan>/p53ER<tspan dy="-2.3" font-size="4.8">KI/KI</tspan><tspan dy="2.3" font-size="0.01">.</tspan></text>
<text x="331.40" y="358.00" font-size="7" fill="#161616" stroke="#161616" stroke-width="0.17">p53ER<tspan dy="-2.3" font-size="4.8">KI/KI</tspan><tspan dy="2.3" font-size="0.01">.</tspan></text>
<line x1="315.50" y1="368.80" x2="315.50" y2="502.10" stroke="#111" stroke-width="1.6" stroke-linecap="butt"/>
<line x1="314.90" y1="501.30" x2="494.80" y2="501.30" stroke="#111" stroke-width="1.6" stroke-linecap="butt"/>
<line x1="311.90" y1="501.30" x2="315.50" y2="501.30" stroke="#111" stroke-width="1.3" stroke-linecap="butt"/>
<text x="309.70" y="503.85" font-size="7.2" fill="#161616" stroke="#161616" stroke-width="0.17" text-anchor="end">0</text>
<line x1="311.90" y1="468.93" x2="315.50" y2="468.93" stroke="#111" stroke-width="1.3" stroke-linecap="butt"/>
<text x="309.70" y="471.48" font-size="7.2" fill="#161616" stroke="#161616" stroke-width="0.17" text-anchor="end">3</text>
<line x1="311.90" y1="436.56" x2="315.50" y2="436.56" stroke="#111" stroke-width="1.3" stroke-linecap="butt"/>
<text x="309.70" y="439.11" font-size="7.2" fill="#161616" stroke="#161616" stroke-width="0.17" text-anchor="end">6</text>
<line x1="311.90" y1="404.19" x2="315.50" y2="404.19" stroke="#111" stroke-width="1.3" stroke-linecap="butt"/>
<text x="309.70" y="406.74" font-size="7.2" fill="#161616" stroke="#161616" stroke-width="0.17" text-anchor="end">9</text>
<line x1="311.90" y1="371.82" x2="315.50" y2="371.82" stroke="#111" stroke-width="1.3" stroke-linecap="butt"/>
<text x="309.70" y="374.37" font-size="7.2" fill="#161616" stroke="#161616" stroke-width="0.17" text-anchor="end">12</text>
<line x1="332.50" y1="501.30" x2="332.50" y2="504.90" stroke="#111" stroke-width="1.3" stroke-linecap="butt"/>
<text x="332.50" y="515.20" font-size="7" fill="#161616" stroke="#161616" stroke-width="0.17" text-anchor="middle">0</text>
<line x1="368.75" y1="501.30" x2="368.75" y2="504.90" stroke="#111" stroke-width="1.3" stroke-linecap="butt"/>
<text x="368.75" y="515.20" font-size="7" fill="#161616" stroke="#161616" stroke-width="0.17" text-anchor="middle">1</text>
<line x1="405.00" y1="501.30" x2="405.00" y2="504.90" stroke="#111" stroke-width="1.3" stroke-linecap="butt"/>
<text x="405.00" y="515.20" font-size="7" fill="#161616" stroke="#161616" stroke-width="0.17" text-anchor="middle">2</text>
<line x1="441.25" y1="501.30" x2="441.25" y2="504.90" stroke="#111" stroke-width="1.3" stroke-linecap="butt"/>
<text x="441.25" y="515.20" font-size="7" fill="#161616" stroke="#161616" stroke-width="0.17" text-anchor="middle">3</text>
<line x1="477.50" y1="501.30" x2="477.50" y2="504.90" stroke="#111" stroke-width="1.3" stroke-linecap="butt"/>
<text x="477.50" y="515.20" font-size="7" fill="#161616" stroke="#161616" stroke-width="0.17" text-anchor="middle">4</text>
<text x="405.20" y="527.60" font-size="10" fill="#161616" stroke="#161616" stroke-width="0.3" text-anchor="middle" textLength="50" lengthAdjust="spacingAndGlyphs">Time (weeks)</text>
<text x="296.10" y="435.10" font-size="10.2" fill="#161616" stroke="#161616" stroke-width="0.3" text-anchor="middle" transform="rotate(-90 296.10 435.10)" textLength="41" lengthAdjust="spacingAndGlyphs">RBC (K/ul)</text>
<circle cx="320.48" cy="395.57" r="1.15" fill="#a3ad9c" stroke="#111" stroke-width="1.1"/>
<circle cx="322.95" cy="396.20" r="1.15" fill="#a3ad9c" stroke="#111" stroke-width="1.1"/>
<circle cx="318.96" cy="397.51" r="1.15" fill="#a3ad9c" stroke="#111" stroke-width="1.1"/>
<circle cx="321.47" cy="398.63" r="1.15" fill="#a3ad9c" stroke="#111" stroke-width="1.1"/>
<circle cx="317.10" cy="399.51" r="1.15" fill="#a3ad9c" stroke="#111" stroke-width="1.1"/>
<circle cx="321.96" cy="400.88" r="1.15" fill="#a3ad9c" stroke="#111" stroke-width="1.1"/>
<circle cx="318.73" cy="401.74" r="1.15" fill="#a3ad9c" stroke="#111" stroke-width="1.1"/>
<circle cx="323.34" cy="402.80" r="1.15" fill="#a3ad9c" stroke="#111" stroke-width="1.1"/>
<circle cx="320.64" cy="404.05" r="1.15" fill="#a3ad9c" stroke="#111" stroke-width="1.1"/>
<circle cx="317.10" cy="404.61" r="1.15" fill="#a3ad9c" stroke="#111" stroke-width="1.1"/>
<circle cx="320.15" cy="406.22" r="1.15" fill="#a3ad9c" stroke="#111" stroke-width="1.1"/>
<circle cx="322.51" cy="407.04" r="1.15" fill="#a3ad9c" stroke="#111" stroke-width="1.1"/>
<circle cx="317.58" cy="407.95" r="1.15" fill="#a3ad9c" stroke="#111" stroke-width="1.1"/>
<circle cx="320.47" cy="409.26" r="1.15" fill="#a3ad9c" stroke="#111" stroke-width="1.1"/>
<circle cx="322.57" cy="409.97" r="1.15" fill="#a3ad9c" stroke="#111" stroke-width="1.1"/>
<line x1="317.90" y1="402.50" x2="323.10" y2="402.50" stroke="#111" stroke-width="1.1" stroke-linecap="butt"/>
<line x1="320.50" y1="401.50" x2="320.50" y2="404.50" stroke="#111" stroke-width="1.1" stroke-linecap="butt"/>
<line x1="318.70" y1="401.50" x2="322.30" y2="401.50" stroke="#111" stroke-width="1.1" stroke-linecap="butt"/>
<line x1="318.70" y1="404.50" x2="322.30" y2="404.50" stroke="#111" stroke-width="1.1" stroke-linecap="butt"/>
<rect x="329.49" y="391.38" width="3.2" height="3.2" fill="#3a0a1c"/>
<rect x="327.04" y="392.29" width="3.2" height="3.2" fill="#3a0a1c"/>
<rect x="324.20" y="393.34" width="3.2" height="3.2" fill="#3a0a1c"/>
<rect x="328.23" y="394.84" width="3.2" height="3.2" fill="#3a0a1c"/>
<rect x="331.28" y="395.82" width="3.2" height="3.2" fill="#3a0a1c"/>
<rect x="325.48" y="396.83" width="3.2" height="3.2" fill="#3a0a1c"/>
<rect x="328.37" y="398.45" width="3.2" height="3.2" fill="#3a0a1c"/>
<rect x="325.33" y="399.16" width="3.2" height="3.2" fill="#3a0a1c"/>
<rect x="328.95" y="400.92" width="3.2" height="3.2" fill="#3a0a1c"/>
<rect x="326.62" y="401.72" width="3.2" height="3.2" fill="#3a0a1c"/>
<rect x="329.03" y="403.21" width="3.2" height="3.2" fill="#3a0a1c"/>
<rect x="326.33" y="404.67" width="3.2" height="3.2" fill="#3a0a1c"/>
<rect x="328.83" y="405.59" width="3.2" height="3.2" fill="#3a0a1c"/>
<rect x="325.94" y="406.85" width="3.2" height="3.2" fill="#3a0a1c"/>
<rect x="328.35" y="407.81" width="3.2" height="3.2" fill="#3a0a1c"/>
<rect x="331.07" y="408.79" width="3.2" height="3.2" fill="#3a0a1c"/>
<rect x="328.75" y="410.02" width="3.2" height="3.2" fill="#3a0a1c"/>
<line x1="326.90" y1="402.50" x2="332.10" y2="402.50" stroke="#111" stroke-width="1.1" stroke-linecap="butt"/>
<line x1="329.50" y1="400.50" x2="329.50" y2="403.50" stroke="#111" stroke-width="1.1" stroke-linecap="butt"/>
<line x1="327.70" y1="400.50" x2="331.30" y2="400.50" stroke="#111" stroke-width="1.1" stroke-linecap="butt"/>
<line x1="327.70" y1="403.50" x2="331.30" y2="403.50" stroke="#111" stroke-width="1.1" stroke-linecap="butt"/>
<line x1="333.30" y1="396.50" x2="339.70" y2="396.50" stroke="#111" stroke-width="1.1" stroke-linecap="butt"/>
<line x1="336.50" y1="395.50" x2="336.50" y2="398.50" stroke="#111" stroke-width="1.1" stroke-linecap="butt"/>
<line x1="334.70" y1="395.50" x2="338.30" y2="395.50" stroke="#111" stroke-width="1.1" stroke-linecap="butt"/>
<line x1="334.70" y1="398.50" x2="338.30" y2="398.50" stroke="#111" stroke-width="1.1" stroke-linecap="butt"/>
<path d="M335.10 390.48H339.10L337.10 394.08Z" fill="#111"/>
<path d="M332.70 392.60H336.70L334.70 396.20Z" fill="#111"/>
<path d="M335.25 394.07H339.25L337.25 397.67Z" fill="#111"/>
<path d="M333.76 395.81H337.76L335.76 399.41Z" fill="#111"/>
<path d="M331.78 397.85H335.78L333.78 401.45Z" fill="#111"/>
<path d="M335.10 398.75H339.10L337.10 402.35Z" fill="#111"/>
<line x1="341.30" y1="401.50" x2="347.70" y2="401.50" stroke="#111" stroke-width="1.1" stroke-linecap="butt"/>
<line x1="344.50" y1="400.50" x2="344.50" y2="402.50" stroke="#111" stroke-width="1.1" stroke-linecap="butt"/>
<line x1="342.70" y1="400.50" x2="346.30" y2="400.50" stroke="#111" stroke-width="1.1" stroke-linecap="butt"/>
<line x1="342.70" y1="402.50" x2="346.30" y2="402.50" stroke="#111" stroke-width="1.1" stroke-linecap="butt"/>
<path d="M346.13 396.36L347.68 397.91L346.13 399.46L344.58 397.91Z" fill="#9a9a9a" stroke="#111" stroke-width="1.05"/>
<path d="M343.67 398.21L345.22 399.76L343.67 401.31L342.12 399.76Z" fill="#9a9a9a" stroke="#111" stroke-width="1.05"/>
<path d="M346.41 399.12L347.96 400.67L346.41 402.22L344.86 400.67Z" fill="#9a9a9a" stroke="#111" stroke-width="1.05"/>
<path d="M344.08 400.58L345.63 402.13L344.08 403.68L342.53 402.13Z" fill="#9a9a9a" stroke="#111" stroke-width="1.05"/>
<path d="M345.85 402.36L347.40 403.91L345.85 405.46L344.30 403.91Z" fill="#9a9a9a" stroke="#111" stroke-width="1.05"/>
<path d="M343.02 403.62L344.57 405.17L343.02 406.72L341.47 405.17Z" fill="#9a9a9a" stroke="#111" stroke-width="1.05"/>
<circle cx="356.39" cy="399.99" r="1.15" fill="#a3ad9c" stroke="#111" stroke-width="1.1"/>
<circle cx="353.43" cy="401.83" r="1.15" fill="#a3ad9c" stroke="#111" stroke-width="1.1"/>
<circle cx="358.10" cy="404.59" r="1.15" fill="#a3ad9c" stroke="#111" stroke-width="1.1"/>
<circle cx="357.18" cy="407.36" r="1.15" fill="#a3ad9c" stroke="#111" stroke-width="1.1"/>
<circle cx="358.27" cy="412.88" r="1.15" fill="#a3ad9c" stroke="#111" stroke-width="1.1"/>
<circle cx="355.48" cy="414.72" r="1.15" fill="#a3ad9c" stroke="#111" stroke-width="1.1"/>
<circle cx="357.86" cy="418.34" r="1.15" fill="#a3ad9c" stroke="#111" stroke-width="1.1"/>
<circle cx="353.70" cy="419.05" r="1.15" fill="#a3ad9c" stroke="#111" stroke-width="1.1"/>
<circle cx="356.25" cy="419.98" r="1.15" fill="#a3ad9c" stroke="#111" stroke-width="1.1"/>
<circle cx="358.94" cy="420.75" r="1.15" fill="#a3ad9c" stroke="#111" stroke-width="1.1"/>
<circle cx="353.58" cy="421.34" r="1.15" fill="#a3ad9c" stroke="#111" stroke-width="1.1"/>
<circle cx="357.09" cy="422.30" r="1.15" fill="#a3ad9c" stroke="#111" stroke-width="1.1"/>
<circle cx="359.76" cy="423.00" r="1.15" fill="#a3ad9c" stroke="#111" stroke-width="1.1"/>
<circle cx="354.33" cy="423.61" r="1.15" fill="#a3ad9c" stroke="#111" stroke-width="1.1"/>
<circle cx="356.99" cy="424.75" r="1.15" fill="#a3ad9c" stroke="#111" stroke-width="1.1"/>
<circle cx="360.50" cy="425.20" r="1.15" fill="#a3ad9c" stroke="#111" stroke-width="1.1"/>
<circle cx="354.49" cy="425.92" r="1.15" fill="#a3ad9c" stroke="#111" stroke-width="1.1"/>
<circle cx="358.09" cy="426.66" r="1.15" fill="#a3ad9c" stroke="#111" stroke-width="1.1"/>
<circle cx="360.50" cy="427.68" r="1.15" fill="#a3ad9c" stroke="#111" stroke-width="1.1"/>
<circle cx="356.98" cy="429.46" r="1.15" fill="#a3ad9c" stroke="#111" stroke-width="1.1"/>
<circle cx="356.38" cy="433.14" r="1.15" fill="#a3ad9c" stroke="#111" stroke-width="1.1"/>
<line x1="353.90" y1="419.50" x2="359.10" y2="419.50" stroke="#111" stroke-width="1.1" stroke-linecap="butt"/>
<line x1="356.50" y1="417.50" x2="356.50" y2="421.50" stroke="#111" stroke-width="1.1" stroke-linecap="butt"/>
<line x1="354.70" y1="417.50" x2="358.30" y2="417.50" stroke="#111" stroke-width="1.1" stroke-linecap="butt"/>
<line x1="354.70" y1="421.50" x2="358.30" y2="421.50" stroke="#111" stroke-width="1.1" stroke-linecap="butt"/>
<rect x="362.77" y="389.18" width="3.2" height="3.2" fill="#3a0a1c"/>
<rect x="363.85" y="395.63" width="3.2" height="3.2" fill="#3a0a1c"/>
<rect x="363.73" y="398.39" width="3.2" height="3.2" fill="#3a0a1c"/>
<rect x="363.58" y="406.68" width="3.2" height="3.2" fill="#3a0a1c"/>
<rect x="366.99" y="407.21" width="3.2" height="3.2" fill="#3a0a1c"/>
<rect x="362.05" y="409.44" width="3.2" height="3.2" fill="#3a0a1c"/>
<rect x="364.30" y="409.48" width="3.2" height="3.2" fill="#3a0a1c"/>
<rect x="360.56" y="411.33" width="3.2" height="3.2" fill="#3a0a1c"/>
<rect x="364.18" y="412.20" width="3.2" height="3.2" fill="#3a0a1c"/>
<rect x="362.33" y="413.52" width="3.2" height="3.2" fill="#3a0a1c"/>
<rect x="360.54" y="414.97" width="3.2" height="3.2" fill="#3a0a1c"/>
<rect x="365.62" y="415.55" width="3.2" height="3.2" fill="#3a0a1c"/>
<rect x="363.48" y="417.73" width="3.2" height="3.2" fill="#3a0a1c"/>
<rect x="360.96" y="418.86" width="3.2" height="3.2" fill="#3a0a1c"/>
<rect x="362.66" y="420.49" width="3.2" height="3.2" fill="#3a0a1c"/>
<rect x="364.14" y="426.02" width="3.2" height="3.2" fill="#3a0a1c"/>
<rect x="361.80" y="426.94" width="3.2" height="3.2" fill="#3a0a1c"/>
<rect x="364.75" y="437.99" width="3.2" height="3.2" fill="#3a0a1c"/>
<line x1="362.90" y1="414.50" x2="368.10" y2="414.50" stroke="#111" stroke-width="1.1" stroke-linecap="butt"/>
<line x1="365.50" y1="411.50" x2="365.50" y2="417.50" stroke="#111" stroke-width="1.1" stroke-linecap="butt"/>
<line x1="363.70" y1="411.50" x2="367.30" y2="411.50" stroke="#111" stroke-width="1.1" stroke-linecap="butt"/>
<line x1="363.70" y1="417.50" x2="367.30" y2="417.50" stroke="#111" stroke-width="1.1" stroke-linecap="butt"/>
<line x1="369.30" y1="397.50" x2="375.70" y2="397.50" stroke="#111" stroke-width="1.1" stroke-linecap="butt"/>
<line x1="372.50" y1="395.50" x2="372.50" y2="399.50" stroke="#111" stroke-width="1.1" stroke-linecap="butt"/>
<line x1="370.70" y1="395.50" x2="374.30" y2="395.50" stroke="#111" stroke-width="1.1" stroke-linecap="butt"/>
<line x1="370.70" y1="399.50" x2="374.30" y2="399.50" stroke="#111" stroke-width="1.1" stroke-linecap="butt"/>
<path d="M371.04 386.22H375.04L373.04 389.82Z" fill="#111"/>
<path d="M369.85 392.67H373.85L371.85 396.27Z" fill="#111"/>
<path d="M374.07 394.51H378.07L376.07 398.11Z" fill="#111"/>
<path d="M369.65 396.35H373.65L371.65 399.95Z" fill="#111"/>
<path d="M371.04 398.19H375.04L373.04 401.79Z" fill="#111"/>
<path d="M368.99 400.03H372.99L370.99 403.63Z" fill="#111"/>
<path d="M369.75 402.79H373.75L371.75 406.39Z" fill="#111"/>
<line x1="377.30" y1="399.50" x2="383.70" y2="399.50" stroke="#111" stroke-width="1.1" stroke-linecap="butt"/>
<line x1="380.50" y1="397.50" x2="380.50" y2="400.50" stroke="#111" stroke-width="1.1" stroke-linecap="butt"/>
<line x1="378.70" y1="397.50" x2="382.30" y2="397.50" stroke="#111" stroke-width="1.1" stroke-linecap="butt"/>
<line x1="378.70" y1="400.50" x2="382.30" y2="400.50" stroke="#111" stroke-width="1.1" stroke-linecap="butt"/>
<path d="M382.39 392.00L383.94 393.55L382.39 395.10L380.84 393.55Z" fill="#9a9a9a" stroke="#111" stroke-width="1.05"/>
<path d="M379.94 395.68L381.49 397.23L379.94 398.78L378.39 397.23Z" fill="#9a9a9a" stroke="#111" stroke-width="1.05"/>
<path d="M382.40 396.60L383.95 398.15L382.40 399.70L380.85 398.15Z" fill="#9a9a9a" stroke="#111" stroke-width="1.05"/>
<path d="M379.58 398.44L381.13 399.99L379.58 401.54L378.03 399.99Z" fill="#9a9a9a" stroke="#111" stroke-width="1.05"/>
<path d="M381.30 400.28L382.85 401.83L381.30 403.38L379.75 401.83Z" fill="#9a9a9a" stroke="#111" stroke-width="1.05"/>
<path d="M381.09 403.04L382.64 404.59L381.09 406.14L379.54 404.59Z" fill="#9a9a9a" stroke="#111" stroke-width="1.05"/>
<circle cx="392.26" cy="413.32" r="1.15" fill="#a3ad9c" stroke="#111" stroke-width="1.1"/>
<circle cx="393.48" cy="424.03" r="1.15" fill="#a3ad9c" stroke="#111" stroke-width="1.1"/>
<circle cx="389.30" cy="425.06" r="1.15" fill="#a3ad9c" stroke="#111" stroke-width="1.1"/>
<circle cx="392.89" cy="426.45" r="1.15" fill="#a3ad9c" stroke="#111" stroke-width="1.1"/>
<circle cx="395.28" cy="427.50" r="1.15" fill="#a3ad9c" stroke="#111" stroke-width="1.1"/>
<circle cx="391.84" cy="429.03" r="1.15" fill="#a3ad9c" stroke="#111" stroke-width="1.1"/>
<circle cx="394.80" cy="430.07" r="1.15" fill="#a3ad9c" stroke="#111" stroke-width="1.1"/>
<circle cx="390.65" cy="430.91" r="1.15" fill="#a3ad9c" stroke="#111" stroke-width="1.1"/>
<circle cx="394.35" cy="432.56" r="1.15" fill="#a3ad9c" stroke="#111" stroke-width="1.1"/>
<circle cx="391.79" cy="433.14" r="1.15" fill="#a3ad9c" stroke="#111" stroke-width="1.1"/>
<circle cx="393.65" cy="434.67" r="1.15" fill="#a3ad9c" stroke="#111" stroke-width="1.1"/>
<circle cx="390.46" cy="435.76" r="1.15" fill="#a3ad9c" stroke="#111" stroke-width="1.1"/>
<circle cx="392.46" cy="436.83" r="1.15" fill="#a3ad9c" stroke="#111" stroke-width="1.1"/>
<circle cx="394.94" cy="437.89" r="1.15" fill="#a3ad9c" stroke="#111" stroke-width="1.1"/>
<circle cx="392.56" cy="439.58" r="1.15" fill="#a3ad9c" stroke="#111" stroke-width="1.1"/>
<circle cx="394.80" cy="440.22" r="1.15" fill="#a3ad9c" stroke="#111" stroke-width="1.1"/>
<circle cx="393.16" cy="441.79" r="1.15" fill="#a3ad9c" stroke="#111" stroke-width="1.1"/>
<circle cx="389.30" cy="443.25" r="1.15" fill="#a3ad9c" stroke="#111" stroke-width="1.1"/>
<circle cx="391.71" cy="443.87" r="1.15" fill="#a3ad9c" stroke="#111" stroke-width="1.1"/>
<circle cx="394.13" cy="445.09" r="1.15" fill="#a3ad9c" stroke="#111" stroke-width="1.1"/>
<circle cx="392.37" cy="446.57" r="1.15" fill="#a3ad9c" stroke="#111" stroke-width="1.1"/>
<circle cx="395.24" cy="447.68" r="1.15" fill="#a3ad9c" stroke="#111" stroke-width="1.1"/>
<circle cx="393.05" cy="448.96" r="1.15" fill="#a3ad9c" stroke="#111" stroke-width="1.1"/>
<circle cx="394.88" cy="450.27" r="1.15" fill="#a3ad9c" stroke="#111" stroke-width="1.1"/>
<circle cx="391.57" cy="451.00" r="1.15" fill="#a3ad9c" stroke="#111" stroke-width="1.1"/>
<circle cx="393.79" cy="452.28" r="1.15" fill="#a3ad9c" stroke="#111" stroke-width="1.1"/>
<circle cx="390.78" cy="453.46" r="1.15" fill="#a3ad9c" stroke="#111" stroke-width="1.1"/>
<circle cx="392.95" cy="455.97" r="1.15" fill="#a3ad9c" stroke="#111" stroke-width="1.1"/>
<line x1="390.90" y1="438.50" x2="396.10" y2="438.50" stroke="#111" stroke-width="1.1" stroke-linecap="butt"/>
<line x1="393.50" y1="436.50" x2="393.50" y2="440.50" stroke="#111" stroke-width="1.1" stroke-linecap="butt"/>
<line x1="391.70" y1="436.50" x2="395.30" y2="436.50" stroke="#111" stroke-width="1.1" stroke-linecap="butt"/>
<line x1="391.70" y1="440.50" x2="395.30" y2="440.50" stroke="#111" stroke-width="1.1" stroke-linecap="butt"/>
<rect x="399.18" y="405.79" width="3.2" height="3.2" fill="#3a0a1c"/>
<rect x="398.51" y="409.35" width="3.2" height="3.2" fill="#3a0a1c"/>
<rect x="398.46" y="415.97" width="3.2" height="3.2" fill="#3a0a1c"/>
<rect x="397.35" y="418.69" width="3.2" height="3.2" fill="#3a0a1c"/>
<rect x="400.17" y="420.38" width="3.2" height="3.2" fill="#3a0a1c"/>
<rect x="402.59" y="422.12" width="3.2" height="3.2" fill="#3a0a1c"/>
<rect x="399.57" y="423.15" width="3.2" height="3.2" fill="#3a0a1c"/>
<rect x="399.45" y="425.87" width="3.2" height="3.2" fill="#3a0a1c"/>
<rect x="401.04" y="427.57" width="3.2" height="3.2" fill="#3a0a1c"/>
<rect x="399.11" y="429.08" width="3.2" height="3.2" fill="#3a0a1c"/>
<rect x="401.34" y="431.19" width="3.2" height="3.2" fill="#3a0a1c"/>
<rect x="399.14" y="432.68" width="3.2" height="3.2" fill="#3a0a1c"/>
<rect x="400.88" y="434.24" width="3.2" height="3.2" fill="#3a0a1c"/>
<rect x="398.21" y="435.92" width="3.2" height="3.2" fill="#3a0a1c"/>
<rect x="400.16" y="437.87" width="3.2" height="3.2" fill="#3a0a1c"/>
<rect x="398.36" y="439.47" width="3.2" height="3.2" fill="#3a0a1c"/>
<rect x="400.69" y="441.60" width="3.2" height="3.2" fill="#3a0a1c"/>
<rect x="398.89" y="443.85" width="3.2" height="3.2" fill="#3a0a1c"/>
<rect x="401.13" y="445.60" width="3.2" height="3.2" fill="#3a0a1c"/>
<rect x="398.91" y="447.57" width="3.2" height="3.2" fill="#3a0a1c"/>
<rect x="402.91" y="449.24" width="3.2" height="3.2" fill="#3a0a1c"/>
<rect x="400.60" y="450.56" width="3.2" height="3.2" fill="#3a0a1c"/>
<rect x="399.06" y="466.22" width="3.2" height="3.2" fill="#3a0a1c"/>
<line x1="398.90" y1="434.50" x2="404.10" y2="434.50" stroke="#111" stroke-width="1.1" stroke-linecap="butt"/>
<line x1="401.50" y1="431.50" x2="401.50" y2="437.50" stroke="#111" stroke-width="1.1" stroke-linecap="butt"/>
<line x1="399.70" y1="431.50" x2="403.30" y2="431.50" stroke="#111" stroke-width="1.1" stroke-linecap="butt"/>
<line x1="399.70" y1="437.50" x2="403.30" y2="437.50" stroke="#111" stroke-width="1.1" stroke-linecap="butt"/>
<line x1="405.30" y1="401.50" x2="411.70" y2="401.50" stroke="#111" stroke-width="1.1" stroke-linecap="butt"/>
<line x1="408.50" y1="399.50" x2="408.50" y2="403.50" stroke="#111" stroke-width="1.1" stroke-linecap="butt"/>
<line x1="406.70" y1="399.50" x2="410.30" y2="399.50" stroke="#111" stroke-width="1.1" stroke-linecap="butt"/>
<line x1="406.70" y1="403.50" x2="410.30" y2="403.50" stroke="#111" stroke-width="1.1" stroke-linecap="butt"/>
<path d="M404.71 392.63H408.71L406.71 396.23Z" fill="#111"/>
<path d="M407.88 394.51H411.88L409.88 398.11Z" fill="#111"/>
<path d="M408.37 396.97H412.37L410.37 400.57Z" fill="#111"/>
<path d="M406.23 398.68H410.23L408.23 402.28Z" fill="#111"/>
<path d="M404.01 400.40H408.01L406.01 404.00Z" fill="#111"/>
<path d="M407.41 402.89H411.41L409.41 406.49Z" fill="#111"/>
<path d="M405.41 405.31H409.41L407.41 408.91Z" fill="#111"/>
<path d="M407.56 406.43H411.56L409.56 410.03Z" fill="#111"/>
<line x1="413.30" y1="408.50" x2="419.70" y2="408.50" stroke="#111" stroke-width="1.1" stroke-linecap="butt"/>
<line x1="416.50" y1="406.50" x2="416.50" y2="409.50" stroke="#111" stroke-width="1.1" stroke-linecap="butt"/>
<line x1="414.70" y1="406.50" x2="418.30" y2="406.50" stroke="#111" stroke-width="1.1" stroke-linecap="butt"/>
<line x1="414.70" y1="409.50" x2="418.30" y2="409.50" stroke="#111" stroke-width="1.1" stroke-linecap="butt"/>
<path d="M414.89 401.45L416.44 403.00L414.89 404.55L413.34 403.00Z" fill="#9a9a9a" stroke="#111" stroke-width="1.05"/>
<path d="M417.76 402.18L419.31 403.73L417.76 405.28L416.21 403.73Z" fill="#9a9a9a" stroke="#111" stroke-width="1.05"/>
<path d="M415.24 403.93L416.79 405.48L415.24 407.03L413.69 405.48Z" fill="#9a9a9a" stroke="#111" stroke-width="1.05"/>
<path d="M417.22 405.43L418.77 406.98L417.22 408.53L415.67 406.98Z" fill="#9a9a9a" stroke="#111" stroke-width="1.05"/>
<path d="M414.38 407.42L415.93 408.97L414.38 410.52L412.83 408.97Z" fill="#9a9a9a" stroke="#111" stroke-width="1.05"/>
<path d="M418.43 409.13L419.98 410.68L418.43 412.23L416.88 410.68Z" fill="#9a9a9a" stroke="#111" stroke-width="1.05"/>
<path d="M414.14 410.47L415.69 412.02L414.14 413.57L412.59 412.02Z" fill="#9a9a9a" stroke="#111" stroke-width="1.05"/>
<path d="M416.19 411.61L417.74 413.16L416.19 414.71L414.64 413.16Z" fill="#9a9a9a" stroke="#111" stroke-width="1.05"/>
<circle cx="430.68" cy="408.58" r="1.15" fill="#a3ad9c" stroke="#111" stroke-width="1.1"/>
<circle cx="428.14" cy="410.95" r="1.15" fill="#a3ad9c" stroke="#111" stroke-width="1.1"/>
<circle cx="428.72" cy="414.97" r="1.15" fill="#a3ad9c" stroke="#111" stroke-width="1.1"/>
<circle cx="430.52" cy="416.33" r="1.15" fill="#a3ad9c" stroke="#111" stroke-width="1.1"/>
<circle cx="429.20" cy="418.26" r="1.15" fill="#a3ad9c" stroke="#111" stroke-width="1.1"/>
<circle cx="428.42" cy="421.11" r="1.15" fill="#a3ad9c" stroke="#111" stroke-width="1.1"/>
<circle cx="432.33" cy="422.81" r="1.15" fill="#a3ad9c" stroke="#111" stroke-width="1.1"/>
<circle cx="429.89" cy="424.93" r="1.15" fill="#a3ad9c" stroke="#111" stroke-width="1.1"/>
<circle cx="428.53" cy="426.93" r="1.15" fill="#a3ad9c" stroke="#111" stroke-width="1.1"/>
<circle cx="431.14" cy="429.35" r="1.15" fill="#a3ad9c" stroke="#111" stroke-width="1.1"/>
<circle cx="428.65" cy="430.77" r="1.15" fill="#a3ad9c" stroke="#111" stroke-width="1.1"/>
<circle cx="427.73" cy="433.26" r="1.15" fill="#a3ad9c" stroke="#111" stroke-width="1.1"/>
<circle cx="430.66" cy="435.12" r="1.15" fill="#a3ad9c" stroke="#111" stroke-width="1.1"/>
<circle cx="428.80" cy="437.36" r="1.15" fill="#a3ad9c" stroke="#111" stroke-width="1.1"/>
<circle cx="430.50" cy="438.88" r="1.15" fill="#a3ad9c" stroke="#111" stroke-width="1.1"/>
<circle cx="430.26" cy="441.27" r="1.15" fill="#a3ad9c" stroke="#111" stroke-width="1.1"/>
<circle cx="428.63" cy="443.12" r="1.15" fill="#a3ad9c" stroke="#111" stroke-width="1.1"/>
<circle cx="430.58" cy="444.84" r="1.15" fill="#a3ad9c" stroke="#111" stroke-width="1.1"/>
<circle cx="428.61" cy="446.76" r="1.15" fill="#a3ad9c" stroke="#111" stroke-width="1.1"/>
<circle cx="430.29" cy="449.30" r="1.15" fill="#a3ad9c" stroke="#111" stroke-width="1.1"/>
<circle cx="428.40" cy="450.67" r="1.15" fill="#a3ad9c" stroke="#111" stroke-width="1.1"/>
<circle cx="428.85" cy="453.73" r="1.15" fill="#a3ad9c" stroke="#111" stroke-width="1.1"/>
<circle cx="433.30" cy="454.83" r="1.15" fill="#a3ad9c" stroke="#111" stroke-width="1.1"/>
<circle cx="430.24" cy="456.72" r="1.15" fill="#a3ad9c" stroke="#111" stroke-width="1.1"/>
<circle cx="428.60" cy="458.86" r="1.15" fill="#a3ad9c" stroke="#111" stroke-width="1.1"/>
<circle cx="428.89" cy="461.90" r="1.15" fill="#a3ad9c" stroke="#111" stroke-width="1.1"/>
<circle cx="431.99" cy="463.22" r="1.15" fill="#a3ad9c" stroke="#111" stroke-width="1.1"/>
<circle cx="429.04" cy="465.01" r="1.15" fill="#a3ad9c" stroke="#111" stroke-width="1.1"/>
<line x1="426.90" y1="437.50" x2="432.10" y2="437.50" stroke="#111" stroke-width="1.1" stroke-linecap="butt"/>
<line x1="429.50" y1="434.50" x2="429.50" y2="441.50" stroke="#111" stroke-width="1.1" stroke-linecap="butt"/>
<line x1="427.70" y1="434.50" x2="431.30" y2="434.50" stroke="#111" stroke-width="1.1" stroke-linecap="butt"/>
<line x1="427.70" y1="441.50" x2="431.30" y2="441.50" stroke="#111" stroke-width="1.1" stroke-linecap="butt"/>
<line x1="434.30" y1="443.50" x2="440.70" y2="443.50" stroke="#111" stroke-width="1.1" stroke-linecap="butt"/>
<line x1="437.50" y1="438.50" x2="437.50" y2="448.50" stroke="#111" stroke-width="1.1" stroke-linecap="butt"/>
<line x1="435.70" y1="438.50" x2="439.30" y2="438.50" stroke="#111" stroke-width="1.1" stroke-linecap="butt"/>
<line x1="435.70" y1="448.50" x2="439.30" y2="448.50" stroke="#111" stroke-width="1.1" stroke-linecap="butt"/>
<rect x="436.88" y="418.83" width="3.2" height="3.2" fill="#3a0a1c"/>
<rect x="433.46" y="422.38" width="3.2" height="3.2" fill="#3a0a1c"/>
<rect x="435.79" y="428.31" width="3.2" height="3.2" fill="#3a0a1c"/>
<rect x="436.08" y="436.60" width="3.2" height="3.2" fill="#3a0a1c"/>
<rect x="435.99" y="441.34" width="3.2" height="3.2" fill="#3a0a1c"/>
<rect x="436.40" y="444.89" width="3.2" height="3.2" fill="#3a0a1c"/>
<rect x="436.08" y="448.45" width="3.2" height="3.2" fill="#3a0a1c"/>
<rect x="435.96" y="452.00" width="3.2" height="3.2" fill="#3a0a1c"/>
<rect x="433.91" y="460.30" width="3.2" height="3.2" fill="#3a0a1c"/>
<rect x="435.09" y="465.04" width="3.2" height="3.2" fill="#3a0a1c"/>
<line x1="441.30" y1="401.50" x2="447.70" y2="401.50" stroke="#111" stroke-width="1.1" stroke-linecap="butt"/>
<line x1="444.50" y1="399.50" x2="444.50" y2="403.50" stroke="#111" stroke-width="1.1" stroke-linecap="butt"/>
<line x1="442.70" y1="399.50" x2="446.30" y2="399.50" stroke="#111" stroke-width="1.1" stroke-linecap="butt"/>
<line x1="442.70" y1="403.50" x2="446.30" y2="403.50" stroke="#111" stroke-width="1.1" stroke-linecap="butt"/>
<path d="M439.96 393.19H443.96L441.96 396.79Z" fill="#111"/>
<path d="M442.93 395.18H446.93L444.93 398.78Z" fill="#111"/>
<path d="M442.61 397.92H446.61L444.61 401.52Z" fill="#111"/>
<path d="M441.35 399.83H445.35L443.35 403.43Z" fill="#111"/>
<path d="M444.44 401.88H448.44L446.44 405.48Z" fill="#111"/>
<path d="M442.23 403.90H446.23L444.23 407.50Z" fill="#111"/>
<path d="M439.75 405.08H443.75L441.75 408.68Z" fill="#111"/>
<line x1="449.30" y1="408.50" x2="455.70" y2="408.50" stroke="#111" stroke-width="1.1" stroke-linecap="butt"/>
<line x1="452.50" y1="407.50" x2="452.50" y2="409.50" stroke="#111" stroke-width="1.1" stroke-linecap="butt"/>
<line x1="450.70" y1="407.50" x2="454.30" y2="407.50" stroke="#111" stroke-width="1.1" stroke-linecap="butt"/>
<line x1="450.70" y1="409.50" x2="454.30" y2="409.50" stroke="#111" stroke-width="1.1" stroke-linecap="butt"/>
<path d="M451.52 402.36L453.07 403.91L451.52 405.46L449.97 403.91Z" fill="#9a9a9a" stroke="#111" stroke-width="1.05"/>
<path d="M455.70 403.53L457.25 405.08L455.70 406.63L454.15 405.08Z" fill="#9a9a9a" stroke="#111" stroke-width="1.05"/>
<path d="M451.34 405.26L452.89 406.81L451.34 408.36L449.79 406.81Z" fill="#9a9a9a" stroke="#111" stroke-width="1.05"/>
<path d="M453.38 406.61L454.93 408.16L453.38 409.71L451.83 408.16Z" fill="#9a9a9a" stroke="#111" stroke-width="1.05"/>
<path d="M450.56 408.02L452.11 409.57L450.56 411.12L449.01 409.57Z" fill="#9a9a9a" stroke="#111" stroke-width="1.05"/>
<path d="M448.30 408.71L449.85 410.26L448.30 411.81L446.75 410.26Z" fill="#9a9a9a" stroke="#111" stroke-width="1.05"/>
<path d="M452.53 410.71L454.08 412.26L452.53 413.81L450.98 412.26Z" fill="#9a9a9a" stroke="#111" stroke-width="1.05"/>
<path d="M448.88 412.10L450.43 413.65L448.88 415.20L447.33 413.65Z" fill="#9a9a9a" stroke="#111" stroke-width="1.05"/>
<circle cx="464.83" cy="405.02" r="1.15" fill="#a3ad9c" stroke="#111" stroke-width="1.1"/>
<circle cx="464.44" cy="407.39" r="1.15" fill="#a3ad9c" stroke="#111" stroke-width="1.1"/>
<circle cx="463.79" cy="410.95" r="1.15" fill="#a3ad9c" stroke="#111" stroke-width="1.1"/>
<circle cx="464.28" cy="416.87" r="1.15" fill="#a3ad9c" stroke="#111" stroke-width="1.1"/>
<circle cx="465.90" cy="420.43" r="1.15" fill="#a3ad9c" stroke="#111" stroke-width="1.1"/>
<circle cx="465.74" cy="424.39" r="1.15" fill="#a3ad9c" stroke="#111" stroke-width="1.1"/>
<circle cx="463.63" cy="425.16" r="1.15" fill="#a3ad9c" stroke="#111" stroke-width="1.1"/>
<circle cx="467.43" cy="426.79" r="1.15" fill="#a3ad9c" stroke="#111" stroke-width="1.1"/>
<circle cx="465.71" cy="428.24" r="1.15" fill="#a3ad9c" stroke="#111" stroke-width="1.1"/>
<circle cx="467.86" cy="429.71" r="1.15" fill="#a3ad9c" stroke="#111" stroke-width="1.1"/>
<circle cx="466.60" cy="432.00" r="1.15" fill="#a3ad9c" stroke="#111" stroke-width="1.1"/>
<circle cx="463.64" cy="433.51" r="1.15" fill="#a3ad9c" stroke="#111" stroke-width="1.1"/>
<circle cx="465.90" cy="434.89" r="1.15" fill="#a3ad9c" stroke="#111" stroke-width="1.1"/>
<circle cx="467.39" cy="436.60" r="1.15" fill="#a3ad9c" stroke="#111" stroke-width="1.1"/>
<circle cx="463.65" cy="437.97" r="1.15" fill="#a3ad9c" stroke="#111" stroke-width="1.1"/>
<circle cx="465.51" cy="439.19" r="1.15" fill="#a3ad9c" stroke="#111" stroke-width="1.1"/>
<circle cx="465.70" cy="448.86" r="1.15" fill="#a3ad9c" stroke="#111" stroke-width="1.1"/>
<circle cx="462.78" cy="449.57" r="1.15" fill="#a3ad9c" stroke="#111" stroke-width="1.1"/>
<circle cx="466.44" cy="455.97" r="1.15" fill="#a3ad9c" stroke="#111" stroke-width="1.1"/>
<circle cx="466.80" cy="472.56" r="1.15" fill="#a3ad9c" stroke="#111" stroke-width="1.1"/>
<circle cx="465.09" cy="474.93" r="1.15" fill="#a3ad9c" stroke="#111" stroke-width="1.1"/>
<circle cx="466.22" cy="482.04" r="1.15" fill="#a3ad9c" stroke="#111" stroke-width="1.1"/>
<line x1="462.90" y1="436.50" x2="468.10" y2="436.50" stroke="#111" stroke-width="1.1" stroke-linecap="butt"/>
<line x1="465.50" y1="431.50" x2="465.50" y2="440.50" stroke="#111" stroke-width="1.1" stroke-linecap="butt"/>
<line x1="463.70" y1="431.50" x2="467.30" y2="431.50" stroke="#111" stroke-width="1.1" stroke-linecap="butt"/>
<line x1="463.70" y1="440.50" x2="467.30" y2="440.50" stroke="#111" stroke-width="1.1" stroke-linecap="butt"/>
<line x1="470.30" y1="453.50" x2="476.70" y2="453.50" stroke="#111" stroke-width="1.1" stroke-linecap="butt"/>
<line x1="473.50" y1="448.50" x2="473.50" y2="459.50" stroke="#111" stroke-width="1.1" stroke-linecap="butt"/>
<line x1="471.70" y1="448.50" x2="475.30" y2="448.50" stroke="#111" stroke-width="1.1" stroke-linecap="butt"/>
<line x1="471.70" y1="459.50" x2="475.30" y2="459.50" stroke="#111" stroke-width="1.1" stroke-linecap="butt"/>
<rect x="472.34" y="415.27" width="3.2" height="3.2" fill="#3a0a1c"/>
<rect x="472.56" y="425.94" width="3.2" height="3.2" fill="#3a0a1c"/>
<rect x="472.38" y="447.26" width="3.2" height="3.2" fill="#3a0a1c"/>
<rect x="471.14" y="449.63" width="3.2" height="3.2" fill="#3a0a1c"/>
<rect x="472.47" y="452.00" width="3.2" height="3.2" fill="#3a0a1c"/>
<rect x="472.91" y="454.37" width="3.2" height="3.2" fill="#3a0a1c"/>
<rect x="471.00" y="456.74" width="3.2" height="3.2" fill="#3a0a1c"/>
<rect x="473.87" y="462.67" width="3.2" height="3.2" fill="#3a0a1c"/>
<rect x="473.99" y="466.22" width="3.2" height="3.2" fill="#3a0a1c"/>
<rect x="473.72" y="469.77" width="3.2" height="3.2" fill="#3a0a1c"/>
<rect x="473.89" y="475.70" width="3.2" height="3.2" fill="#3a0a1c"/>
<line x1="478.30" y1="412.50" x2="484.70" y2="412.50" stroke="#111" stroke-width="1.1" stroke-linecap="butt"/>
<line x1="481.50" y1="408.50" x2="481.50" y2="416.50" stroke="#111" stroke-width="1.1" stroke-linecap="butt"/>
<line x1="479.70" y1="408.50" x2="483.30" y2="408.50" stroke="#111" stroke-width="1.1" stroke-linecap="butt"/>
<line x1="479.70" y1="416.50" x2="483.30" y2="416.50" stroke="#111" stroke-width="1.1" stroke-linecap="butt"/>
<path d="M480.04 398.48H484.04L482.04 402.08Z" fill="#111"/>
<path d="M478.96 402.04H482.96L480.96 405.64Z" fill="#111"/>
<path d="M478.70 404.41H482.70L480.70 408.01Z" fill="#111"/>
<path d="M478.49 406.78H482.49L480.49 410.38Z" fill="#111"/>
<path d="M479.42 409.15H483.42L481.42 412.75Z" fill="#111"/>
<path d="M479.27 411.52H483.27L481.27 415.12Z" fill="#111"/>
<path d="M479.97 413.89H483.97L481.97 417.49Z" fill="#111"/>
<path d="M477.28 438.77H481.28L479.28 442.37Z" fill="#111"/>
<line x1="485.30" y1="411.50" x2="491.70" y2="411.50" stroke="#111" stroke-width="1.1" stroke-linecap="butt"/>
<line x1="488.50" y1="410.50" x2="488.50" y2="412.50" stroke="#111" stroke-width="1.1" stroke-linecap="butt"/>
<line x1="486.70" y1="410.50" x2="490.30" y2="410.50" stroke="#111" stroke-width="1.1" stroke-linecap="butt"/>
<line x1="486.70" y1="412.50" x2="490.30" y2="412.50" stroke="#111" stroke-width="1.1" stroke-linecap="butt"/>
<path d="M491.21 404.29L492.76 405.84L491.21 407.39L489.66 405.84Z" fill="#9a9a9a" stroke="#111" stroke-width="1.05"/>
<path d="M488.87 405.81L490.42 407.36L488.87 408.91L487.32 407.36Z" fill="#9a9a9a" stroke="#111" stroke-width="1.05"/>
<path d="M489.58 407.94L491.13 409.49L489.58 411.04L488.03 409.49Z" fill="#9a9a9a" stroke="#111" stroke-width="1.05"/>
<path d="M487.55 408.96L489.10 410.51L487.55 412.06L486.00 410.51Z" fill="#9a9a9a" stroke="#111" stroke-width="1.05"/>
<path d="M489.08 410.59L490.63 412.14L489.08 413.69L487.53 412.14Z" fill="#9a9a9a" stroke="#111" stroke-width="1.05"/>
<path d="M486.82 412.21L488.37 413.76L486.82 415.31L485.27 413.76Z" fill="#9a9a9a" stroke="#111" stroke-width="1.05"/>
<path d="M489.32 413.36L490.87 414.91L489.32 416.46L487.77 414.91Z" fill="#9a9a9a" stroke="#111" stroke-width="1.05"/>
<path d="M491.94 415.10L493.49 416.65L491.94 418.20L490.39 416.65Z" fill="#9a9a9a" stroke="#111" stroke-width="1.05"/>
<line x1="356.50" y1="371.50" x2="380.50" y2="371.50" stroke="#111" stroke-width="1.15" stroke-linecap="butt"/>
<line x1="356.50" y1="369.60" x2="356.50" y2="373.40" stroke="#111" stroke-width="1.25" stroke-linecap="butt"/>
<line x1="380.50" y1="369.60" x2="380.50" y2="373.40" stroke="#111" stroke-width="1.25" stroke-linecap="butt"/>
<path d="M365.00 366.70L365.45 367.48L366.33 367.67L365.73 368.34L365.82 369.23L365.00 368.87L364.18 369.23L364.27 368.34L363.67 367.67L364.55 367.48Z" fill="#111"/>
<path d="M368.50 366.70L368.95 367.48L369.83 367.67L369.23 368.34L369.32 369.23L368.50 368.87L367.68 369.23L367.77 368.34L367.17 367.67L368.05 367.48Z" fill="#111"/>
<path d="M372.00 366.70L372.45 367.48L373.33 367.67L372.73 368.34L372.82 369.23L372.00 368.87L371.18 369.23L371.27 368.34L370.67 367.67L371.55 367.48Z" fill="#111"/>
<line x1="365.50" y1="380.50" x2="372.50" y2="380.50" stroke="#111" stroke-width="1.15" stroke-linecap="butt"/>
<line x1="365.50" y1="378.60" x2="365.50" y2="382.40" stroke="#111" stroke-width="1.25" stroke-linecap="butt"/>
<line x1="372.50" y1="378.60" x2="372.50" y2="382.40" stroke="#111" stroke-width="1.25" stroke-linecap="butt"/>
<path d="M365.50 375.70L365.95 376.48L366.83 376.67L366.23 377.34L366.32 378.23L365.50 377.87L364.68 378.23L364.77 377.34L364.17 376.67L365.05 376.48Z" fill="#111"/>
<path d="M369.00 375.70L369.45 376.48L370.33 376.67L369.73 377.34L369.82 378.23L369.00 377.87L368.18 378.23L368.27 377.34L367.67 376.67L368.55 376.48Z" fill="#111"/>
<path d="M372.50 375.70L372.95 376.48L373.83 376.67L373.23 377.34L373.32 378.23L372.50 377.87L371.68 378.23L371.77 377.34L371.17 376.67L372.05 376.48Z" fill="#111"/>
<line x1="356.50" y1="385.50" x2="364.50" y2="385.50" stroke="#111" stroke-width="1.15" stroke-linecap="butt"/>
<line x1="356.50" y1="383.60" x2="356.50" y2="387.40" stroke="#111" stroke-width="1.25" stroke-linecap="butt"/>
<line x1="364.50" y1="383.60" x2="364.50" y2="387.40" stroke="#111" stroke-width="1.25" stroke-linecap="butt"/>
<path d="M358.75 380.70L359.20 381.48L360.08 381.67L359.48 382.34L359.57 383.23L358.75 382.87L357.93 383.23L358.02 382.34L357.42 381.67L358.30 381.48Z" fill="#111"/>
<path d="M362.25 380.70L362.70 381.48L363.58 381.67L362.98 382.34L363.07 383.23L362.25 382.87L361.43 383.23L361.52 382.34L360.92 381.67L361.80 381.48Z" fill="#111"/>
<line x1="393.50" y1="375.50" x2="409.50" y2="375.50" stroke="#111" stroke-width="1.15" stroke-linecap="butt"/>
<line x1="393.50" y1="373.60" x2="393.50" y2="377.40" stroke="#111" stroke-width="1.25" stroke-linecap="butt"/>
<line x1="409.50" y1="373.60" x2="409.50" y2="377.40" stroke="#111" stroke-width="1.25" stroke-linecap="butt"/>
<path d="M398.00 370.70L398.45 371.48L399.33 371.67L398.73 372.34L398.82 373.23L398.00 372.87L397.18 373.23L397.27 372.34L396.67 371.67L397.55 371.48Z" fill="#111"/>
<path d="M401.50 370.70L401.95 371.48L402.83 371.67L402.23 372.34L402.32 373.23L401.50 372.87L400.68 373.23L400.77 372.34L400.17 371.67L401.05 371.48Z" fill="#111"/>
<path d="M405.00 370.70L405.45 371.48L406.33 371.67L405.73 372.34L405.82 373.23L405.00 372.87L404.18 373.23L404.27 372.34L403.67 371.67L404.55 371.48Z" fill="#111"/>
<line x1="409.50" y1="383.50" x2="417.50" y2="383.50" stroke="#111" stroke-width="1.15" stroke-linecap="butt"/>
<line x1="409.50" y1="381.60" x2="409.50" y2="385.40" stroke="#111" stroke-width="1.25" stroke-linecap="butt"/>
<line x1="417.50" y1="381.60" x2="417.50" y2="385.40" stroke="#111" stroke-width="1.25" stroke-linecap="butt"/>
<path d="M411.75 378.70L412.20 379.48L413.08 379.67L412.48 380.34L412.57 381.23L411.75 380.87L410.93 381.23L411.02 380.34L410.42 379.67L411.30 379.48Z" fill="#111"/>
<path d="M415.25 378.70L415.70 379.48L416.58 379.67L415.98 380.34L416.07 381.23L415.25 380.87L414.43 381.23L414.52 380.34L413.92 379.67L414.80 379.48Z" fill="#111"/>
<line x1="400.50" y1="390.50" x2="408.50" y2="390.50" stroke="#111" stroke-width="1.15" stroke-linecap="butt"/>
<line x1="400.50" y1="388.60" x2="400.50" y2="392.40" stroke="#111" stroke-width="1.25" stroke-linecap="butt"/>
<line x1="408.50" y1="388.60" x2="408.50" y2="392.40" stroke="#111" stroke-width="1.25" stroke-linecap="butt"/>
<path d="M401.00 385.70L401.45 386.48L402.33 386.67L401.73 387.34L401.82 388.23L401.00 387.87L400.18 388.23L400.27 387.34L399.67 386.67L400.55 386.48Z" fill="#111"/>
<path d="M404.50 385.70L404.95 386.48L405.83 386.67L405.23 387.34L405.32 388.23L404.50 387.87L403.68 388.23L403.77 387.34L403.17 386.67L404.05 386.48Z" fill="#111"/>
<path d="M408.00 385.70L408.45 386.48L409.33 386.67L408.73 387.34L408.82 388.23L408.00 387.87L407.18 388.23L407.27 387.34L406.67 386.67L407.55 386.48Z" fill="#111"/>
<line x1="429.50" y1="373.50" x2="453.50" y2="373.50" stroke="#111" stroke-width="1.15" stroke-linecap="butt"/>
<line x1="429.50" y1="371.60" x2="429.50" y2="375.40" stroke="#111" stroke-width="1.25" stroke-linecap="butt"/>
<line x1="453.50" y1="371.60" x2="453.50" y2="375.40" stroke="#111" stroke-width="1.25" stroke-linecap="butt"/>
<path d="M438.00 368.70L438.45 369.48L439.33 369.67L438.73 370.34L438.82 371.23L438.00 370.87L437.18 371.23L437.27 370.34L436.67 369.67L437.55 369.48Z" fill="#111"/>
<path d="M441.50 368.70L441.95 369.48L442.83 369.67L442.23 370.34L442.32 371.23L441.50 370.87L440.68 371.23L440.77 370.34L440.17 369.67L441.05 369.48Z" fill="#111"/>
<path d="M445.00 368.70L445.45 369.48L446.33 369.67L445.73 370.34L445.82 371.23L445.00 370.87L444.18 371.23L444.27 370.34L443.67 369.67L444.55 369.48Z" fill="#111"/>
<line x1="445.50" y1="382.50" x2="453.50" y2="382.50" stroke="#111" stroke-width="1.15" stroke-linecap="butt"/>
<line x1="445.50" y1="380.60" x2="445.50" y2="384.40" stroke="#111" stroke-width="1.25" stroke-linecap="butt"/>
<line x1="453.50" y1="380.60" x2="453.50" y2="384.40" stroke="#111" stroke-width="1.25" stroke-linecap="butt"/>
<path d="M446.00 377.70L446.45 378.48L447.33 378.67L446.73 379.34L446.82 380.23L446.00 379.87L445.18 380.23L445.27 379.34L444.67 378.67L445.55 378.48Z" fill="#111"/>
<path d="M449.50 377.70L449.95 378.48L450.83 378.67L450.23 379.34L450.32 380.23L449.50 379.87L448.68 380.23L448.77 379.34L448.17 378.67L449.05 378.48Z" fill="#111"/>
<path d="M453.00 377.70L453.45 378.48L454.33 378.67L453.73 379.34L453.82 380.23L453.00 379.87L452.18 380.23L452.27 379.34L451.67 378.67L452.55 378.48Z" fill="#111"/>
<line x1="438.50" y1="390.50" x2="445.50" y2="390.50" stroke="#111" stroke-width="1.15" stroke-linecap="butt"/>
<line x1="438.50" y1="388.60" x2="438.50" y2="392.40" stroke="#111" stroke-width="1.25" stroke-linecap="butt"/>
<line x1="445.50" y1="388.60" x2="445.50" y2="392.40" stroke="#111" stroke-width="1.25" stroke-linecap="butt"/>
<path d="M438.50 385.70L438.95 386.48L439.83 386.67L439.23 387.34L439.32 388.23L438.50 387.87L437.68 388.23L437.77 387.34L437.17 386.67L438.05 386.48Z" fill="#111"/>
<path d="M442.00 385.70L442.45 386.48L443.33 386.67L442.73 387.34L442.82 388.23L442.00 387.87L441.18 388.23L441.27 387.34L440.67 386.67L441.55 386.48Z" fill="#111"/>
<path d="M445.50 385.70L445.95 386.48L446.83 386.67L446.23 387.34L446.32 388.23L445.50 387.87L444.68 388.23L444.77 387.34L444.17 386.67L445.05 386.48Z" fill="#111"/>
<line x1="429.50" y1="403.50" x2="437.50" y2="403.50" stroke="#111" stroke-width="1.15" stroke-linecap="butt"/>
<line x1="429.50" y1="401.60" x2="429.50" y2="405.40" stroke="#111" stroke-width="1.25" stroke-linecap="butt"/>
<line x1="437.50" y1="401.60" x2="437.50" y2="405.40" stroke="#111" stroke-width="1.25" stroke-linecap="butt"/>
<path d="M431.75 398.70L432.20 399.48L433.08 399.67L432.48 400.34L432.57 401.23L431.75 400.87L430.93 401.23L431.02 400.34L430.42 399.67L431.30 399.48Z" fill="#111"/>
<path d="M435.25 398.70L435.70 399.48L436.58 399.67L435.98 400.34L436.07 401.23L435.25 400.87L434.43 401.23L434.52 400.34L433.92 399.67L434.80 399.48Z" fill="#111"/>
<line x1="465.50" y1="381.50" x2="489.50" y2="381.50" stroke="#111" stroke-width="1.15" stroke-linecap="butt"/>
<line x1="465.50" y1="379.60" x2="465.50" y2="383.40" stroke="#111" stroke-width="1.25" stroke-linecap="butt"/>
<line x1="489.50" y1="379.60" x2="489.50" y2="383.40" stroke="#111" stroke-width="1.25" stroke-linecap="butt"/>
<path d="M474.00 376.70L474.45 377.48L475.33 377.67L474.73 378.34L474.82 379.23L474.00 378.87L473.18 379.23L473.27 378.34L472.67 377.67L473.55 377.48Z" fill="#111"/>
<path d="M477.50 376.70L477.95 377.48L478.83 377.67L478.23 378.34L478.32 379.23L477.50 378.87L476.68 379.23L476.77 378.34L476.17 377.67L477.05 377.48Z" fill="#111"/>
<path d="M481.00 376.70L481.45 377.48L482.33 377.67L481.73 378.34L481.82 379.23L481.00 378.87L480.18 379.23L480.27 378.34L479.67 377.67L480.55 377.48Z" fill="#111"/>
<line x1="473.50" y1="388.50" x2="481.50" y2="388.50" stroke="#111" stroke-width="1.15" stroke-linecap="butt"/>
<line x1="473.50" y1="386.60" x2="473.50" y2="390.40" stroke="#111" stroke-width="1.25" stroke-linecap="butt"/>
<line x1="481.50" y1="386.60" x2="481.50" y2="390.40" stroke="#111" stroke-width="1.25" stroke-linecap="butt"/>
<path d="M474.00 383.70L474.45 384.48L475.33 384.67L474.73 385.34L474.82 386.23L474.00 385.87L473.18 386.23L473.27 385.34L472.67 384.67L473.55 384.48Z" fill="#111"/>
<path d="M477.50 383.70L477.95 384.48L478.83 384.67L478.23 385.34L478.32 386.23L477.50 385.87L476.68 386.23L476.77 385.34L476.17 384.67L477.05 384.48Z" fill="#111"/>
<path d="M481.00 383.70L481.45 384.48L482.33 384.67L481.73 385.34L481.82 386.23L481.00 385.87L480.18 386.23L480.27 385.34L479.67 384.67L480.55 384.48Z" fill="#111"/>
<line x1="481.50" y1="395.50" x2="489.50" y2="395.50" stroke="#111" stroke-width="1.15" stroke-linecap="butt"/>
<line x1="481.50" y1="393.60" x2="481.50" y2="397.40" stroke="#111" stroke-width="1.25" stroke-linecap="butt"/>
<line x1="489.50" y1="393.60" x2="489.50" y2="397.40" stroke="#111" stroke-width="1.25" stroke-linecap="butt"/>
<path d="M483.75 390.70L484.20 391.48L485.08 391.67L484.48 392.34L484.57 393.23L483.75 392.87L482.93 393.23L483.02 392.34L482.42 391.67L483.30 391.48Z" fill="#111"/>
<path d="M487.25 390.70L487.70 391.48L488.58 391.67L487.98 392.34L488.07 393.23L487.25 392.87L486.43 393.23L486.52 392.34L485.92 391.67L486.80 391.48Z" fill="#111"/>
<line x1="465.50" y1="398.50" x2="474.50" y2="398.50" stroke="#111" stroke-width="1.15" stroke-linecap="butt"/>
<line x1="465.50" y1="396.60" x2="465.50" y2="400.40" stroke="#111" stroke-width="1.25" stroke-linecap="butt"/>
<line x1="474.50" y1="396.60" x2="474.50" y2="400.40" stroke="#111" stroke-width="1.25" stroke-linecap="butt"/>
<path d="M468.25 393.70L468.70 394.48L469.58 394.67L468.98 395.34L469.07 396.23L468.25 395.87L467.43 396.23L467.52 395.34L466.92 394.67L467.80 394.48Z" fill="#111"/>
<path d="M471.75 393.70L472.20 394.48L473.08 394.67L472.48 395.34L472.57 396.23L471.75 395.87L470.93 396.23L471.02 395.34L470.42 394.67L471.30 394.48Z" fill="#111"/>
<text x="8.40" y="558.20" font-size="13.8" fill="#000" stroke="#000" stroke-width="0" font-weight="bold">F</text>
<circle cx="67.00" cy="561.20" r="1.2" fill="#a3ad9c" stroke="#111" stroke-width="1.1"/>
<rect x="65.35" y="570.05" width="3.3" height="3.3" fill="#3a0a1c"/>
<path d="M64.90 580.01H69.10L67.00 583.79Z" fill="#111"/>
<path d="M67.00 590.70L68.70 592.40L67.00 594.10L65.30 592.40Z" fill="#9a9a9a" stroke="#111" stroke-width="1.05"/>
<text x="73.80" y="563.70" font-size="7" fill="#161616" stroke="#161616" stroke-width="0.17" textLength="10.8" lengthAdjust="spacingAndGlyphs">Ctrl</text>
<text x="73.80" y="574.00" font-size="7" fill="#161616" stroke="#161616" stroke-width="0.17">Hdac8<tspan dy="-2.3" font-size="4.8">&#916;/&#916;</tspan><tspan dy="2.3" font-size="0.01">.</tspan></text>
<text x="73.80" y="584.00" font-size="7" fill="#161616" stroke="#161616" stroke-width="0.17">Hdac8<tspan dy="-2.3" font-size="4.8">&#916;/&#916;</tspan><tspan dy="2.3" font-size="0.01">.</tspan>/p53ER<tspan dy="-2.3" font-size="4.8">KI/KI</tspan><tspan dy="2.3" font-size="0.01">.</tspan></text>
<text x="73.80" y="594.60" font-size="7" fill="#161616" stroke="#161616" stroke-width="0.17">p53ER<tspan dy="-2.3" font-size="4.8">KI/KI</tspan><tspan dy="2.3" font-size="0.01">.</tspan></text>
<line x1="55.50" y1="597.00" x2="55.50" y2="724.30" stroke="#111" stroke-width="1.6" stroke-linecap="butt"/>
<line x1="54.90" y1="723.50" x2="226.00" y2="723.50" stroke="#111" stroke-width="1.6" stroke-linecap="butt"/>
<line x1="51.90" y1="723.50" x2="55.50" y2="723.50" stroke="#111" stroke-width="1.3" stroke-linecap="butt"/>
<text x="49.70" y="726.05" font-size="7.2" fill="#161616" stroke="#161616" stroke-width="0.17" text-anchor="end">0</text>
<line x1="51.90" y1="702.90" x2="55.50" y2="702.90" stroke="#111" stroke-width="1.3" stroke-linecap="butt"/>
<text x="49.70" y="705.45" font-size="7.2" fill="#161616" stroke="#161616" stroke-width="0.17" text-anchor="end">500</text>
<line x1="51.90" y1="682.30" x2="55.50" y2="682.30" stroke="#111" stroke-width="1.3" stroke-linecap="butt"/>
<text x="49.70" y="684.85" font-size="7.2" fill="#161616" stroke="#161616" stroke-width="0.17" text-anchor="end">1000</text>
<line x1="51.90" y1="661.70" x2="55.50" y2="661.70" stroke="#111" stroke-width="1.3" stroke-linecap="butt"/>
<text x="49.70" y="664.25" font-size="7.2" fill="#161616" stroke="#161616" stroke-width="0.17" text-anchor="end">1500</text>
<line x1="51.90" y1="641.10" x2="55.50" y2="641.10" stroke="#111" stroke-width="1.3" stroke-linecap="butt"/>
<text x="49.70" y="643.65" font-size="7.2" fill="#161616" stroke="#161616" stroke-width="0.17" text-anchor="end">2000</text>
<line x1="51.90" y1="620.50" x2="55.50" y2="620.50" stroke="#111" stroke-width="1.3" stroke-linecap="butt"/>
<text x="49.70" y="623.05" font-size="7.2" fill="#161616" stroke="#161616" stroke-width="0.17" text-anchor="end">2500</text>
<line x1="51.90" y1="599.90" x2="55.50" y2="599.90" stroke="#111" stroke-width="1.3" stroke-linecap="butt"/>
<text x="49.70" y="602.45" font-size="7.2" fill="#161616" stroke="#161616" stroke-width="0.17" text-anchor="end">3000</text>
<line x1="72.00" y1="723.50" x2="72.00" y2="727.10" stroke="#111" stroke-width="1.3" stroke-linecap="butt"/>
<text x="72.00" y="736.80" font-size="7" fill="#161616" stroke="#161616" stroke-width="0.17" text-anchor="middle">0</text>
<line x1="106.50" y1="723.50" x2="106.50" y2="727.10" stroke="#111" stroke-width="1.3" stroke-linecap="butt"/>
<text x="106.50" y="736.80" font-size="7" fill="#161616" stroke="#161616" stroke-width="0.17" text-anchor="middle">1</text>
<line x1="141.00" y1="723.50" x2="141.00" y2="727.10" stroke="#111" stroke-width="1.3" stroke-linecap="butt"/>
<text x="141.00" y="736.80" font-size="7" fill="#161616" stroke="#161616" stroke-width="0.17" text-anchor="middle">2</text>
<line x1="175.50" y1="723.50" x2="175.50" y2="727.10" stroke="#111" stroke-width="1.3" stroke-linecap="butt"/>
<text x="175.50" y="736.80" font-size="7" fill="#161616" stroke="#161616" stroke-width="0.17" text-anchor="middle">3</text>
<line x1="210.00" y1="723.50" x2="210.00" y2="727.10" stroke="#111" stroke-width="1.3" stroke-linecap="butt"/>
<text x="210.00" y="736.80" font-size="7" fill="#161616" stroke="#161616" stroke-width="0.17" text-anchor="middle">4</text>
<text x="141.00" y="749.60" font-size="10" fill="#161616" stroke="#161616" stroke-width="0.3" text-anchor="middle" textLength="50" lengthAdjust="spacingAndGlyphs">Time (weeks)</text>
<text x="27.10" y="660.00" font-size="10.2" fill="#161616" stroke="#161616" stroke-width="0.3" text-anchor="middle" transform="rotate(-90 27.10 660.00)" textLength="36.5" lengthAdjust="spacingAndGlyphs">PLT(K/ul)</text>
<circle cx="60.25" cy="662.93" r="1.15" fill="#a3ad9c" stroke="#111" stroke-width="1.1"/>
<circle cx="63.90" cy="664.12" r="1.15" fill="#a3ad9c" stroke="#111" stroke-width="1.1"/>
<circle cx="58.93" cy="665.73" r="1.15" fill="#a3ad9c" stroke="#111" stroke-width="1.1"/>
<circle cx="60.80" cy="667.47" r="1.15" fill="#a3ad9c" stroke="#111" stroke-width="1.1"/>
<circle cx="58.34" cy="669.73" r="1.15" fill="#a3ad9c" stroke="#111" stroke-width="1.1"/>
<circle cx="59.91" cy="671.35" r="1.15" fill="#a3ad9c" stroke="#111" stroke-width="1.1"/>
<circle cx="61.72" cy="672.84" r="1.15" fill="#a3ad9c" stroke="#111" stroke-width="1.1"/>
<circle cx="60.05" cy="674.50" r="1.15" fill="#a3ad9c" stroke="#111" stroke-width="1.1"/>
<circle cx="59.55" cy="676.65" r="1.15" fill="#a3ad9c" stroke="#111" stroke-width="1.1"/>
<circle cx="63.22" cy="678.48" r="1.15" fill="#a3ad9c" stroke="#111" stroke-width="1.1"/>
<circle cx="61.25" cy="680.32" r="1.15" fill="#a3ad9c" stroke="#111" stroke-width="1.1"/>
<circle cx="57.87" cy="681.81" r="1.15" fill="#a3ad9c" stroke="#111" stroke-width="1.1"/>
<circle cx="62.79" cy="683.14" r="1.15" fill="#a3ad9c" stroke="#111" stroke-width="1.1"/>
<circle cx="60.57" cy="684.73" r="1.15" fill="#a3ad9c" stroke="#111" stroke-width="1.1"/>
<circle cx="60.19" cy="687.15" r="1.15" fill="#a3ad9c" stroke="#111" stroke-width="1.1"/>
<circle cx="62.23" cy="688.54" r="1.15" fill="#a3ad9c" stroke="#111" stroke-width="1.1"/>
<circle cx="60.05" cy="690.60" r="1.15" fill="#a3ad9c" stroke="#111" stroke-width="1.1"/>
<circle cx="62.40" cy="691.63" r="1.15" fill="#a3ad9c" stroke="#111" stroke-width="1.1"/>
<circle cx="59.96" cy="694.15" r="1.15" fill="#a3ad9c" stroke="#111" stroke-width="1.1"/>
<circle cx="62.35" cy="695.38" r="1.15" fill="#a3ad9c" stroke="#111" stroke-width="1.1"/>
<circle cx="60.64" cy="697.64" r="1.15" fill="#a3ad9c" stroke="#111" stroke-width="1.1"/>
<circle cx="63.90" cy="699.39" r="1.15" fill="#a3ad9c" stroke="#111" stroke-width="1.1"/>
<circle cx="59.43" cy="700.73" r="1.15" fill="#a3ad9c" stroke="#111" stroke-width="1.1"/>
<circle cx="59.93" cy="706.33" r="1.15" fill="#a3ad9c" stroke="#111" stroke-width="1.1"/>
<line x1="57.90" y1="682.50" x2="63.10" y2="682.50" stroke="#111" stroke-width="1.1" stroke-linecap="butt"/>
<line x1="60.50" y1="680.50" x2="60.50" y2="685.50" stroke="#111" stroke-width="1.1" stroke-linecap="butt"/>
<line x1="58.70" y1="680.50" x2="62.30" y2="680.50" stroke="#111" stroke-width="1.1" stroke-linecap="butt"/>
<line x1="58.70" y1="685.50" x2="62.30" y2="685.50" stroke="#111" stroke-width="1.1" stroke-linecap="butt"/>
<rect x="67.79" y="658.87" width="3.2" height="3.2" fill="#3a0a1c"/>
<rect x="68.51" y="664.01" width="3.2" height="3.2" fill="#3a0a1c"/>
<rect x="66.66" y="666.41" width="3.2" height="3.2" fill="#3a0a1c"/>
<rect x="69.33" y="667.57" width="3.2" height="3.2" fill="#3a0a1c"/>
<rect x="67.38" y="669.51" width="3.2" height="3.2" fill="#3a0a1c"/>
<rect x="69.48" y="670.51" width="3.2" height="3.2" fill="#3a0a1c"/>
<rect x="67.76" y="672.00" width="3.2" height="3.2" fill="#3a0a1c"/>
<rect x="68.81" y="674.17" width="3.2" height="3.2" fill="#3a0a1c"/>
<rect x="65.97" y="675.30" width="3.2" height="3.2" fill="#3a0a1c"/>
<rect x="69.66" y="676.67" width="3.2" height="3.2" fill="#3a0a1c"/>
<rect x="67.53" y="678.44" width="3.2" height="3.2" fill="#3a0a1c"/>
<rect x="69.05" y="680.21" width="3.2" height="3.2" fill="#3a0a1c"/>
<rect x="67.03" y="681.22" width="3.2" height="3.2" fill="#3a0a1c"/>
<rect x="67.88" y="683.27" width="3.2" height="3.2" fill="#3a0a1c"/>
<rect x="69.73" y="684.77" width="3.2" height="3.2" fill="#3a0a1c"/>
<rect x="66.56" y="686.40" width="3.2" height="3.2" fill="#3a0a1c"/>
<rect x="68.44" y="687.60" width="3.2" height="3.2" fill="#3a0a1c"/>
<rect x="67.13" y="689.72" width="3.2" height="3.2" fill="#3a0a1c"/>
<rect x="70.34" y="691.38" width="3.2" height="3.2" fill="#3a0a1c"/>
<rect x="68.03" y="692.99" width="3.2" height="3.2" fill="#3a0a1c"/>
<rect x="65.78" y="694.05" width="3.2" height="3.2" fill="#3a0a1c"/>
<rect x="66.95" y="695.98" width="3.2" height="3.2" fill="#3a0a1c"/>
<rect x="68.68" y="699.14" width="3.2" height="3.2" fill="#3a0a1c"/>
<line x1="66.90" y1="681.50" x2="72.10" y2="681.50" stroke="#111" stroke-width="1.1" stroke-linecap="butt"/>
<line x1="69.50" y1="679.50" x2="69.50" y2="683.50" stroke="#111" stroke-width="1.1" stroke-linecap="butt"/>
<line x1="67.70" y1="679.50" x2="71.30" y2="679.50" stroke="#111" stroke-width="1.1" stroke-linecap="butt"/>
<line x1="67.70" y1="683.50" x2="71.30" y2="683.50" stroke="#111" stroke-width="1.1" stroke-linecap="butt"/>
<line x1="72.30" y1="682.50" x2="78.70" y2="682.50" stroke="#111" stroke-width="1.1" stroke-linecap="butt"/>
<line x1="75.50" y1="680.50" x2="75.50" y2="683.50" stroke="#111" stroke-width="1.1" stroke-linecap="butt"/>
<line x1="73.70" y1="680.50" x2="77.30" y2="680.50" stroke="#111" stroke-width="1.1" stroke-linecap="butt"/>
<line x1="73.70" y1="683.50" x2="77.30" y2="683.50" stroke="#111" stroke-width="1.1" stroke-linecap="butt"/>
<path d="M74.83 675.31H78.83L76.83 678.91Z" fill="#111"/>
<path d="M73.41 677.77H77.41L75.41 681.37Z" fill="#111"/>
<path d="M75.30 678.95H79.30L77.30 682.55Z" fill="#111"/>
<path d="M72.89 681.94H76.89L74.89 685.54Z" fill="#111"/>
<path d="M73.90 684.05H77.90L75.90 687.65Z" fill="#111"/>
<path d="M76.90 685.51H80.90L78.90 689.11Z" fill="#111"/>
<line x1="80.30" y1="674.50" x2="86.70" y2="674.50" stroke="#111" stroke-width="1.1" stroke-linecap="butt"/>
<line x1="83.50" y1="671.50" x2="83.50" y2="676.50" stroke="#111" stroke-width="1.1" stroke-linecap="butt"/>
<line x1="81.70" y1="671.50" x2="85.30" y2="671.50" stroke="#111" stroke-width="1.1" stroke-linecap="butt"/>
<line x1="81.70" y1="676.50" x2="85.30" y2="676.50" stroke="#111" stroke-width="1.1" stroke-linecap="butt"/>
<path d="M83.18 661.18L84.73 662.73L83.18 664.28L81.63 662.73Z" fill="#9a9a9a" stroke="#111" stroke-width="1.05"/>
<path d="M84.74 663.81L86.29 665.36L84.74 666.91L83.19 665.36Z" fill="#9a9a9a" stroke="#111" stroke-width="1.05"/>
<path d="M84.43 666.44L85.98 667.99L84.43 669.54L82.88 667.99Z" fill="#9a9a9a" stroke="#111" stroke-width="1.05"/>
<path d="M82.61 668.24L84.16 669.79L82.61 671.34L81.06 669.79Z" fill="#9a9a9a" stroke="#111" stroke-width="1.05"/>
<path d="M84.17 672.33L85.72 673.88L84.17 675.43L82.62 673.88Z" fill="#9a9a9a" stroke="#111" stroke-width="1.05"/>
<path d="M82.28 673.77L83.83 675.32L82.28 676.87L80.73 675.32Z" fill="#9a9a9a" stroke="#111" stroke-width="1.05"/>
<path d="M83.52 676.32L85.07 677.87L83.52 679.42L81.97 677.87Z" fill="#9a9a9a" stroke="#111" stroke-width="1.05"/>
<path d="M84.15 678.80L85.70 680.35L84.15 681.90L82.60 680.35Z" fill="#9a9a9a" stroke="#111" stroke-width="1.05"/>
<path d="M83.35 681.65L84.90 683.20L83.35 684.75L81.80 683.20Z" fill="#9a9a9a" stroke="#111" stroke-width="1.05"/>
<path d="M84.22 685.14L85.77 686.69L84.22 688.24L82.67 686.69Z" fill="#9a9a9a" stroke="#111" stroke-width="1.05"/>
<circle cx="97.34" cy="665.57" r="1.15" fill="#a3ad9c" stroke="#111" stroke-width="1.1"/>
<circle cx="95.53" cy="667.38" r="1.15" fill="#a3ad9c" stroke="#111" stroke-width="1.1"/>
<circle cx="96.39" cy="669.74" r="1.15" fill="#a3ad9c" stroke="#111" stroke-width="1.1"/>
<circle cx="98.69" cy="670.95" r="1.15" fill="#a3ad9c" stroke="#111" stroke-width="1.1"/>
<circle cx="96.65" cy="672.50" r="1.15" fill="#a3ad9c" stroke="#111" stroke-width="1.1"/>
<circle cx="96.68" cy="674.83" r="1.15" fill="#a3ad9c" stroke="#111" stroke-width="1.1"/>
<circle cx="94.10" cy="676.54" r="1.15" fill="#a3ad9c" stroke="#111" stroke-width="1.1"/>
<circle cx="96.40" cy="678.22" r="1.15" fill="#a3ad9c" stroke="#111" stroke-width="1.1"/>
<circle cx="94.64" cy="680.14" r="1.15" fill="#a3ad9c" stroke="#111" stroke-width="1.1"/>
<circle cx="96.56" cy="681.25" r="1.15" fill="#a3ad9c" stroke="#111" stroke-width="1.1"/>
<circle cx="95.72" cy="683.78" r="1.15" fill="#a3ad9c" stroke="#111" stroke-width="1.1"/>
<circle cx="97.51" cy="685.36" r="1.15" fill="#a3ad9c" stroke="#111" stroke-width="1.1"/>
<circle cx="94.56" cy="686.39" r="1.15" fill="#a3ad9c" stroke="#111" stroke-width="1.1"/>
<circle cx="95.94" cy="688.21" r="1.15" fill="#a3ad9c" stroke="#111" stroke-width="1.1"/>
<circle cx="97.27" cy="690.33" r="1.15" fill="#a3ad9c" stroke="#111" stroke-width="1.1"/>
<circle cx="94.64" cy="692.07" r="1.15" fill="#a3ad9c" stroke="#111" stroke-width="1.1"/>
<circle cx="97.71" cy="693.57" r="1.15" fill="#a3ad9c" stroke="#111" stroke-width="1.1"/>
<circle cx="94.85" cy="695.14" r="1.15" fill="#a3ad9c" stroke="#111" stroke-width="1.1"/>
<circle cx="95.90" cy="697.17" r="1.15" fill="#a3ad9c" stroke="#111" stroke-width="1.1"/>
<circle cx="92.70" cy="698.63" r="1.15" fill="#a3ad9c" stroke="#111" stroke-width="1.1"/>
<circle cx="97.15" cy="700.83" r="1.15" fill="#a3ad9c" stroke="#111" stroke-width="1.1"/>
<line x1="92.90" y1="683.50" x2="98.10" y2="683.50" stroke="#111" stroke-width="1.1" stroke-linecap="butt"/>
<line x1="95.50" y1="680.50" x2="95.50" y2="685.50" stroke="#111" stroke-width="1.1" stroke-linecap="butt"/>
<line x1="93.70" y1="680.50" x2="97.30" y2="680.50" stroke="#111" stroke-width="1.1" stroke-linecap="butt"/>
<line x1="93.70" y1="685.50" x2="97.30" y2="685.50" stroke="#111" stroke-width="1.1" stroke-linecap="butt"/>
<line x1="100.30" y1="683.50" x2="106.70" y2="683.50" stroke="#111" stroke-width="1.1" stroke-linecap="butt"/>
<line x1="103.50" y1="681.50" x2="103.50" y2="685.50" stroke="#111" stroke-width="1.1" stroke-linecap="butt"/>
<line x1="101.70" y1="681.50" x2="105.30" y2="681.50" stroke="#111" stroke-width="1.1" stroke-linecap="butt"/>
<line x1="101.70" y1="685.50" x2="105.30" y2="685.50" stroke="#111" stroke-width="1.1" stroke-linecap="butt"/>
<rect x="101.72" y="666.70" width="3.2" height="3.2" fill="#3a0a1c"/>
<rect x="99.35" y="676.77" width="3.2" height="3.2" fill="#3a0a1c"/>
<rect x="101.74" y="682.36" width="3.2" height="3.2" fill="#3a0a1c"/>
<rect x="100.99" y="690.36" width="3.2" height="3.2" fill="#3a0a1c"/>
<rect x="98.64" y="690.83" width="3.2" height="3.2" fill="#3a0a1c"/>
<rect x="103.65" y="691.84" width="3.2" height="3.2" fill="#3a0a1c"/>
<rect x="100.56" y="692.73" width="3.2" height="3.2" fill="#3a0a1c"/>
<rect x="98.20" y="693.26" width="3.2" height="3.2" fill="#3a0a1c"/>
<rect x="102.81" y="694.39" width="3.2" height="3.2" fill="#3a0a1c"/>
<rect x="100.42" y="695.25" width="3.2" height="3.2" fill="#3a0a1c"/>
<rect x="104.60" y="695.79" width="3.2" height="3.2" fill="#3a0a1c"/>
<rect x="102.45" y="696.61" width="3.2" height="3.2" fill="#3a0a1c"/>
<rect x="100.10" y="697.63" width="3.2" height="3.2" fill="#3a0a1c"/>
<rect x="104.42" y="698.28" width="3.2" height="3.2" fill="#3a0a1c"/>
<rect x="98.20" y="699.03" width="3.2" height="3.2" fill="#3a0a1c"/>
<rect x="101.23" y="700.10" width="3.2" height="3.2" fill="#3a0a1c"/>
<rect x="103.38" y="700.83" width="3.2" height="3.2" fill="#3a0a1c"/>
<rect x="98.20" y="701.42" width="3.2" height="3.2" fill="#3a0a1c"/>
<rect x="100.46" y="702.18" width="3.2" height="3.2" fill="#3a0a1c"/>
<rect x="102.72" y="703.04" width="3.2" height="3.2" fill="#3a0a1c"/>
<rect x="98.20" y="703.89" width="3.2" height="3.2" fill="#3a0a1c"/>
<rect x="100.82" y="704.96" width="3.2" height="3.2" fill="#3a0a1c"/>
<line x1="107.30" y1="686.50" x2="113.70" y2="686.50" stroke="#111" stroke-width="1.1" stroke-linecap="butt"/>
<line x1="110.50" y1="683.50" x2="110.50" y2="690.50" stroke="#111" stroke-width="1.1" stroke-linecap="butt"/>
<line x1="108.70" y1="683.50" x2="112.30" y2="683.50" stroke="#111" stroke-width="1.1" stroke-linecap="butt"/>
<line x1="108.70" y1="690.50" x2="112.30" y2="690.50" stroke="#111" stroke-width="1.1" stroke-linecap="butt"/>
<path d="M109.08 668.74H113.08L111.08 672.34Z" fill="#111"/>
<path d="M108.81 674.33H112.81L110.81 677.93Z" fill="#111"/>
<path d="M108.03 683.73H112.03L110.03 687.33Z" fill="#111"/>
<path d="M107.57 686.35H111.57L109.57 689.95Z" fill="#111"/>
<path d="M108.05 688.67H112.05L110.05 692.27Z" fill="#111"/>
<path d="M108.90 691.17H112.90L110.90 694.77Z" fill="#111"/>
<path d="M106.48 692.46H110.48L108.48 696.06Z" fill="#111"/>
<path d="M106.75 695.61H110.75L108.75 699.21Z" fill="#111"/>
<line x1="114.30" y1="687.50" x2="120.70" y2="687.50" stroke="#111" stroke-width="1.1" stroke-linecap="butt"/>
<line x1="117.50" y1="685.50" x2="117.50" y2="688.50" stroke="#111" stroke-width="1.1" stroke-linecap="butt"/>
<line x1="115.70" y1="685.50" x2="119.30" y2="685.50" stroke="#111" stroke-width="1.1" stroke-linecap="butt"/>
<line x1="115.70" y1="688.50" x2="119.30" y2="688.50" stroke="#111" stroke-width="1.1" stroke-linecap="butt"/>
<path d="M118.21 679.58L119.76 681.13L118.21 682.68L116.66 681.13Z" fill="#9a9a9a" stroke="#111" stroke-width="1.05"/>
<path d="M117.06 681.47L118.61 683.02L117.06 684.57L115.51 683.02Z" fill="#9a9a9a" stroke="#111" stroke-width="1.05"/>
<path d="M121.00 682.60L122.55 684.15L121.00 685.70L119.45 684.15Z" fill="#9a9a9a" stroke="#111" stroke-width="1.05"/>
<path d="M118.01 684.72L119.56 686.27L118.01 687.82L116.46 686.27Z" fill="#9a9a9a" stroke="#111" stroke-width="1.05"/>
<path d="M117.31 686.88L118.86 688.43L117.31 689.98L115.76 688.43Z" fill="#9a9a9a" stroke="#111" stroke-width="1.05"/>
<path d="M114.62 688.49L116.17 690.04L114.62 691.59L113.07 690.04Z" fill="#9a9a9a" stroke="#111" stroke-width="1.05"/>
<path d="M117.36 690.59L118.91 692.14L117.36 693.69L115.81 692.14Z" fill="#9a9a9a" stroke="#111" stroke-width="1.05"/>
<path d="M119.71 691.98L121.26 693.53L119.71 695.08L118.16 693.53Z" fill="#9a9a9a" stroke="#111" stroke-width="1.05"/>
<circle cx="131.64" cy="631.39" r="1.15" fill="#a3ad9c" stroke="#111" stroke-width="1.1"/>
<circle cx="129.52" cy="646.96" r="1.15" fill="#a3ad9c" stroke="#111" stroke-width="1.1"/>
<circle cx="128.53" cy="649.24" r="1.15" fill="#a3ad9c" stroke="#111" stroke-width="1.1"/>
<circle cx="130.95" cy="650.80" r="1.15" fill="#a3ad9c" stroke="#111" stroke-width="1.1"/>
<circle cx="128.82" cy="653.14" r="1.15" fill="#a3ad9c" stroke="#111" stroke-width="1.1"/>
<circle cx="129.39" cy="656.43" r="1.15" fill="#a3ad9c" stroke="#111" stroke-width="1.1"/>
<circle cx="126.30" cy="658.36" r="1.15" fill="#a3ad9c" stroke="#111" stroke-width="1.1"/>
<circle cx="129.22" cy="660.76" r="1.15" fill="#a3ad9c" stroke="#111" stroke-width="1.1"/>
<circle cx="127.45" cy="662.56" r="1.15" fill="#a3ad9c" stroke="#111" stroke-width="1.1"/>
<circle cx="129.94" cy="664.98" r="1.15" fill="#a3ad9c" stroke="#111" stroke-width="1.1"/>
<circle cx="129.13" cy="667.27" r="1.15" fill="#a3ad9c" stroke="#111" stroke-width="1.1"/>
<circle cx="129.81" cy="669.46" r="1.15" fill="#a3ad9c" stroke="#111" stroke-width="1.1"/>
<circle cx="127.56" cy="670.53" r="1.15" fill="#a3ad9c" stroke="#111" stroke-width="1.1"/>
<circle cx="129.36" cy="673.52" r="1.15" fill="#a3ad9c" stroke="#111" stroke-width="1.1"/>
<circle cx="131.66" cy="675.22" r="1.15" fill="#a3ad9c" stroke="#111" stroke-width="1.1"/>
<circle cx="128.99" cy="677.95" r="1.15" fill="#a3ad9c" stroke="#111" stroke-width="1.1"/>
<circle cx="131.65" cy="679.61" r="1.15" fill="#a3ad9c" stroke="#111" stroke-width="1.1"/>
<circle cx="129.73" cy="682.15" r="1.15" fill="#a3ad9c" stroke="#111" stroke-width="1.1"/>
<circle cx="128.12" cy="684.84" r="1.15" fill="#a3ad9c" stroke="#111" stroke-width="1.1"/>
<circle cx="126.65" cy="686.64" r="1.15" fill="#a3ad9c" stroke="#111" stroke-width="1.1"/>
<circle cx="130.50" cy="688.34" r="1.15" fill="#a3ad9c" stroke="#111" stroke-width="1.1"/>
<circle cx="129.00" cy="690.88" r="1.15" fill="#a3ad9c" stroke="#111" stroke-width="1.1"/>
<circle cx="131.26" cy="692.96" r="1.15" fill="#a3ad9c" stroke="#111" stroke-width="1.1"/>
<circle cx="130.74" cy="695.83" r="1.15" fill="#a3ad9c" stroke="#111" stroke-width="1.1"/>
<circle cx="132.60" cy="697.15" r="1.15" fill="#a3ad9c" stroke="#111" stroke-width="1.1"/>
<circle cx="131.32" cy="699.36" r="1.15" fill="#a3ad9c" stroke="#111" stroke-width="1.1"/>
<line x1="126.90" y1="671.50" x2="132.10" y2="671.50" stroke="#111" stroke-width="1.1" stroke-linecap="butt"/>
<line x1="129.50" y1="668.50" x2="129.50" y2="675.50" stroke="#111" stroke-width="1.1" stroke-linecap="butt"/>
<line x1="127.70" y1="668.50" x2="131.30" y2="668.50" stroke="#111" stroke-width="1.1" stroke-linecap="butt"/>
<line x1="127.70" y1="675.50" x2="131.30" y2="675.50" stroke="#111" stroke-width="1.1" stroke-linecap="butt"/>
<rect x="136.13" y="636.50" width="3.2" height="3.2" fill="#3a0a1c"/>
<rect x="137.18" y="642.09" width="3.2" height="3.2" fill="#3a0a1c"/>
<rect x="134.71" y="648.80" width="3.2" height="3.2" fill="#3a0a1c"/>
<rect x="135.37" y="662.23" width="3.2" height="3.2" fill="#3a0a1c"/>
<rect x="136.47" y="671.17" width="3.2" height="3.2" fill="#3a0a1c"/>
<rect x="135.47" y="674.53" width="3.2" height="3.2" fill="#3a0a1c"/>
<rect x="135.08" y="680.12" width="3.2" height="3.2" fill="#3a0a1c"/>
<rect x="135.30" y="686.95" width="3.2" height="3.2" fill="#3a0a1c"/>
<rect x="137.57" y="687.83" width="3.2" height="3.2" fill="#3a0a1c"/>
<rect x="134.18" y="689.48" width="3.2" height="3.2" fill="#3a0a1c"/>
<rect x="136.53" y="691.05" width="3.2" height="3.2" fill="#3a0a1c"/>
<rect x="132.90" y="691.99" width="3.2" height="3.2" fill="#3a0a1c"/>
<rect x="138.05" y="693.09" width="3.2" height="3.2" fill="#3a0a1c"/>
<rect x="135.01" y="694.53" width="3.2" height="3.2" fill="#3a0a1c"/>
<rect x="138.62" y="695.86" width="3.2" height="3.2" fill="#3a0a1c"/>
<rect x="135.69" y="696.85" width="3.2" height="3.2" fill="#3a0a1c"/>
<rect x="137.94" y="698.12" width="3.2" height="3.2" fill="#3a0a1c"/>
<rect x="135.35" y="699.41" width="3.2" height="3.2" fill="#3a0a1c"/>
<rect x="133.51" y="700.82" width="3.2" height="3.2" fill="#3a0a1c"/>
<rect x="136.33" y="702.20" width="3.2" height="3.2" fill="#3a0a1c"/>
<rect x="138.61" y="703.39" width="3.2" height="3.2" fill="#3a0a1c"/>
<rect x="135.70" y="704.64" width="3.2" height="3.2" fill="#3a0a1c"/>
<rect x="133.82" y="705.81" width="3.2" height="3.2" fill="#3a0a1c"/>
<rect x="135.86" y="707.45" width="3.2" height="3.2" fill="#3a0a1c"/>
<rect x="138.92" y="708.96" width="3.2" height="3.2" fill="#3a0a1c"/>
<rect x="135.63" y="710.07" width="3.2" height="3.2" fill="#3a0a1c"/>
<rect x="137.61" y="711.33" width="3.2" height="3.2" fill="#3a0a1c"/>
<rect x="135.10" y="712.68" width="3.2" height="3.2" fill="#3a0a1c"/>
<line x1="134.90" y1="691.50" x2="140.10" y2="691.50" stroke="#111" stroke-width="1.1" stroke-linecap="butt"/>
<line x1="137.50" y1="687.50" x2="137.50" y2="695.50" stroke="#111" stroke-width="1.1" stroke-linecap="butt"/>
<line x1="135.70" y1="687.50" x2="139.30" y2="687.50" stroke="#111" stroke-width="1.1" stroke-linecap="butt"/>
<line x1="135.70" y1="695.50" x2="139.30" y2="695.50" stroke="#111" stroke-width="1.1" stroke-linecap="butt"/>
<line x1="141.30" y1="687.50" x2="147.70" y2="687.50" stroke="#111" stroke-width="1.1" stroke-linecap="butt"/>
<line x1="144.50" y1="684.50" x2="144.50" y2="689.50" stroke="#111" stroke-width="1.1" stroke-linecap="butt"/>
<line x1="142.70" y1="684.50" x2="146.30" y2="684.50" stroke="#111" stroke-width="1.1" stroke-linecap="butt"/>
<line x1="142.70" y1="689.50" x2="146.30" y2="689.50" stroke="#111" stroke-width="1.1" stroke-linecap="butt"/>
<path d="M142.56 675.00H146.56L144.56 678.60Z" fill="#111"/>
<path d="M142.36 678.28H146.36L144.36 681.88Z" fill="#111"/>
<path d="M141.26 680.42H145.26L143.26 684.02Z" fill="#111"/>
<path d="M142.69 683.07H146.69L144.69 686.67Z" fill="#111"/>
<path d="M143.70 685.69H147.70L145.70 689.29Z" fill="#111"/>
<path d="M143.29 687.99H147.29L145.29 691.59Z" fill="#111"/>
<path d="M143.76 690.26H147.76L145.76 693.86Z" fill="#111"/>
<path d="M143.28 692.68H147.28L145.28 696.28Z" fill="#111"/>
<path d="M143.63 695.16H147.63L145.63 698.76Z" fill="#111"/>
<line x1="148.30" y1="674.50" x2="154.70" y2="674.50" stroke="#111" stroke-width="1.1" stroke-linecap="butt"/>
<line x1="151.50" y1="672.50" x2="151.50" y2="677.50" stroke="#111" stroke-width="1.1" stroke-linecap="butt"/>
<line x1="149.70" y1="672.50" x2="153.30" y2="672.50" stroke="#111" stroke-width="1.1" stroke-linecap="butt"/>
<line x1="149.70" y1="677.50" x2="153.30" y2="677.50" stroke="#111" stroke-width="1.1" stroke-linecap="butt"/>
<path d="M150.54 661.17L152.09 662.72L150.54 664.27L148.99 662.72Z" fill="#9a9a9a" stroke="#111" stroke-width="1.05"/>
<path d="M151.13 663.65L152.68 665.20L151.13 666.75L149.58 665.20Z" fill="#9a9a9a" stroke="#111" stroke-width="1.05"/>
<path d="M149.86 666.67L151.41 668.22L149.86 669.77L148.31 668.22Z" fill="#9a9a9a" stroke="#111" stroke-width="1.05"/>
<path d="M153.80 668.44L155.35 669.99L153.80 671.54L152.25 669.99Z" fill="#9a9a9a" stroke="#111" stroke-width="1.05"/>
<path d="M153.52 671.68L155.07 673.23L153.52 674.78L151.97 673.23Z" fill="#9a9a9a" stroke="#111" stroke-width="1.05"/>
<path d="M151.42 675.20L152.97 676.75L151.42 678.30L149.87 676.75Z" fill="#9a9a9a" stroke="#111" stroke-width="1.05"/>
<path d="M153.28 676.88L154.83 678.43L153.28 679.98L151.73 678.43Z" fill="#9a9a9a" stroke="#111" stroke-width="1.05"/>
<path d="M153.73 680.09L155.28 681.64L153.73 683.19L152.18 681.64Z" fill="#9a9a9a" stroke="#111" stroke-width="1.05"/>
<path d="M149.91 682.67L151.46 684.22L149.91 685.77L148.36 684.22Z" fill="#9a9a9a" stroke="#111" stroke-width="1.05"/>
<path d="M150.83 685.03L152.38 686.58L150.83 688.13L149.28 686.58Z" fill="#9a9a9a" stroke="#111" stroke-width="1.05"/>
<circle cx="164.93" cy="614.23" r="1.15" fill="#a3ad9c" stroke="#111" stroke-width="1.1"/>
<circle cx="165.11" cy="617.69" r="1.15" fill="#a3ad9c" stroke="#111" stroke-width="1.1"/>
<circle cx="164.49" cy="623.46" r="1.15" fill="#a3ad9c" stroke="#111" stroke-width="1.1"/>
<circle cx="164.06" cy="625.77" r="1.15" fill="#a3ad9c" stroke="#111" stroke-width="1.1"/>
<circle cx="163.68" cy="643.08" r="1.15" fill="#a3ad9c" stroke="#111" stroke-width="1.1"/>
<circle cx="163.93" cy="646.54" r="1.15" fill="#a3ad9c" stroke="#111" stroke-width="1.1"/>
<circle cx="163.23" cy="650.56" r="1.15" fill="#a3ad9c" stroke="#111" stroke-width="1.1"/>
<circle cx="165.77" cy="651.66" r="1.15" fill="#a3ad9c" stroke="#111" stroke-width="1.1"/>
<circle cx="161.93" cy="654.09" r="1.15" fill="#a3ad9c" stroke="#111" stroke-width="1.1"/>
<circle cx="164.74" cy="655.28" r="1.15" fill="#a3ad9c" stroke="#111" stroke-width="1.1"/>
<circle cx="162.33" cy="657.07" r="1.15" fill="#a3ad9c" stroke="#111" stroke-width="1.1"/>
<circle cx="162.40" cy="659.87" r="1.15" fill="#a3ad9c" stroke="#111" stroke-width="1.1"/>
<circle cx="164.35" cy="661.27" r="1.15" fill="#a3ad9c" stroke="#111" stroke-width="1.1"/>
<circle cx="162.59" cy="662.73" r="1.15" fill="#a3ad9c" stroke="#111" stroke-width="1.1"/>
<circle cx="163.93" cy="664.98" r="1.15" fill="#a3ad9c" stroke="#111" stroke-width="1.1"/>
<circle cx="162.29" cy="666.93" r="1.15" fill="#a3ad9c" stroke="#111" stroke-width="1.1"/>
<circle cx="164.03" cy="669.15" r="1.15" fill="#a3ad9c" stroke="#111" stroke-width="1.1"/>
<circle cx="166.04" cy="670.33" r="1.15" fill="#a3ad9c" stroke="#111" stroke-width="1.1"/>
<circle cx="163.29" cy="672.35" r="1.15" fill="#a3ad9c" stroke="#111" stroke-width="1.1"/>
<circle cx="165.11" cy="675.07" r="1.15" fill="#a3ad9c" stroke="#111" stroke-width="1.1"/>
<circle cx="163.04" cy="676.71" r="1.15" fill="#a3ad9c" stroke="#111" stroke-width="1.1"/>
<circle cx="165.14" cy="677.94" r="1.15" fill="#a3ad9c" stroke="#111" stroke-width="1.1"/>
<circle cx="163.12" cy="680.03" r="1.15" fill="#a3ad9c" stroke="#111" stroke-width="1.1"/>
<circle cx="164.56" cy="681.94" r="1.15" fill="#a3ad9c" stroke="#111" stroke-width="1.1"/>
<circle cx="162.00" cy="684.19" r="1.15" fill="#a3ad9c" stroke="#111" stroke-width="1.1"/>
<circle cx="164.43" cy="686.01" r="1.15" fill="#a3ad9c" stroke="#111" stroke-width="1.1"/>
<circle cx="163.37" cy="688.17" r="1.15" fill="#a3ad9c" stroke="#111" stroke-width="1.1"/>
<circle cx="161.74" cy="690.02" r="1.15" fill="#a3ad9c" stroke="#111" stroke-width="1.1"/>
<circle cx="165.06" cy="691.57" r="1.15" fill="#a3ad9c" stroke="#111" stroke-width="1.1"/>
<circle cx="165.41" cy="695.01" r="1.15" fill="#a3ad9c" stroke="#111" stroke-width="1.1"/>
<line x1="160.90" y1="663.50" x2="166.10" y2="663.50" stroke="#111" stroke-width="1.1" stroke-linecap="butt"/>
<line x1="163.50" y1="659.50" x2="163.50" y2="667.50" stroke="#111" stroke-width="1.1" stroke-linecap="butt"/>
<line x1="161.70" y1="659.50" x2="165.30" y2="659.50" stroke="#111" stroke-width="1.1" stroke-linecap="butt"/>
<line x1="161.70" y1="667.50" x2="165.30" y2="667.50" stroke="#111" stroke-width="1.1" stroke-linecap="butt"/>
<line x1="168.30" y1="671.50" x2="174.70" y2="671.50" stroke="#111" stroke-width="1.1" stroke-linecap="butt"/>
<line x1="171.50" y1="663.50" x2="171.50" y2="681.50" stroke="#111" stroke-width="1.1" stroke-linecap="butt"/>
<line x1="169.70" y1="663.50" x2="173.30" y2="663.50" stroke="#111" stroke-width="1.1" stroke-linecap="butt"/>
<line x1="169.70" y1="681.50" x2="173.30" y2="681.50" stroke="#111" stroke-width="1.1" stroke-linecap="butt"/>
<rect x="168.51" y="610.32" width="3.2" height="3.2" fill="#3a0a1c"/>
<rect x="169.63" y="633.40" width="3.2" height="3.2" fill="#3a0a1c"/>
<rect x="170.87" y="636.87" width="3.2" height="3.2" fill="#3a0a1c"/>
<rect x="167.72" y="643.79" width="3.2" height="3.2" fill="#3a0a1c"/>
<rect x="170.91" y="674.95" width="3.2" height="3.2" fill="#3a0a1c"/>
<rect x="170.08" y="678.41" width="3.2" height="3.2" fill="#3a0a1c"/>
<rect x="170.69" y="681.87" width="3.2" height="3.2" fill="#3a0a1c"/>
<rect x="170.96" y="686.48" width="3.2" height="3.2" fill="#3a0a1c"/>
<rect x="171.25" y="688.79" width="3.2" height="3.2" fill="#3a0a1c"/>
<rect x="168.72" y="693.51" width="3.2" height="3.2" fill="#3a0a1c"/>
<rect x="170.83" y="694.20" width="3.2" height="3.2" fill="#3a0a1c"/>
<rect x="173.06" y="694.90" width="3.2" height="3.2" fill="#3a0a1c"/>
<rect x="167.47" y="695.47" width="3.2" height="3.2" fill="#3a0a1c"/>
<rect x="170.00" y="696.30" width="3.2" height="3.2" fill="#3a0a1c"/>
<rect x="169.40" y="696.96" width="3.2" height="3.2" fill="#3a0a1c"/>
<line x1="176.30" y1="677.50" x2="182.70" y2="677.50" stroke="#111" stroke-width="1.1" stroke-linecap="butt"/>
<line x1="179.50" y1="674.50" x2="179.50" y2="680.50" stroke="#111" stroke-width="1.1" stroke-linecap="butt"/>
<line x1="177.70" y1="674.50" x2="181.30" y2="674.50" stroke="#111" stroke-width="1.1" stroke-linecap="butt"/>
<line x1="177.70" y1="680.50" x2="181.30" y2="680.50" stroke="#111" stroke-width="1.1" stroke-linecap="butt"/>
<path d="M178.54 657.44H182.54L180.54 661.04Z" fill="#111"/>
<path d="M178.04 662.05H182.04L180.04 665.65Z" fill="#111"/>
<path d="M176.37 672.97H180.37L178.37 676.57Z" fill="#111"/>
<path d="M180.38 674.10H184.38L182.38 677.70Z" fill="#111"/>
<path d="M176.75 677.20H180.75L178.75 680.80Z" fill="#111"/>
<path d="M180.90 678.23H184.90L182.90 681.83Z" fill="#111"/>
<path d="M177.79 681.35H181.79L179.79 684.95Z" fill="#111"/>
<path d="M176.66 683.26H180.66L178.66 686.86Z" fill="#111"/>
<path d="M178.02 685.29H182.02L180.02 688.89Z" fill="#111"/>
<path d="M176.93 688.03H180.93L178.93 691.63Z" fill="#111"/>
<line x1="184.30" y1="667.50" x2="190.70" y2="667.50" stroke="#111" stroke-width="1.1" stroke-linecap="butt"/>
<line x1="187.50" y1="666.50" x2="187.50" y2="669.50" stroke="#111" stroke-width="1.1" stroke-linecap="butt"/>
<line x1="185.70" y1="666.50" x2="189.30" y2="666.50" stroke="#111" stroke-width="1.1" stroke-linecap="butt"/>
<line x1="185.70" y1="669.50" x2="189.30" y2="669.50" stroke="#111" stroke-width="1.1" stroke-linecap="butt"/>
<path d="M186.94 657.77L188.49 659.32L186.94 660.87L185.39 659.32Z" fill="#9a9a9a" stroke="#111" stroke-width="1.05"/>
<path d="M188.51 659.51L190.06 661.06L188.51 662.61L186.96 661.06Z" fill="#9a9a9a" stroke="#111" stroke-width="1.05"/>
<path d="M187.11 661.86L188.66 663.41L187.11 664.96L185.56 663.41Z" fill="#9a9a9a" stroke="#111" stroke-width="1.05"/>
<path d="M186.05 663.89L187.60 665.44L186.05 666.99L184.50 665.44Z" fill="#9a9a9a" stroke="#111" stroke-width="1.05"/>
<path d="M188.14 665.50L189.69 667.05L188.14 668.60L186.59 667.05Z" fill="#9a9a9a" stroke="#111" stroke-width="1.05"/>
<path d="M186.47 667.16L188.02 668.71L186.47 670.26L184.92 668.71Z" fill="#9a9a9a" stroke="#111" stroke-width="1.05"/>
<path d="M187.85 669.17L189.40 670.72L187.85 672.27L186.30 670.72Z" fill="#9a9a9a" stroke="#111" stroke-width="1.05"/>
<path d="M184.30 671.10L185.85 672.65L184.30 674.20L182.75 672.65Z" fill="#9a9a9a" stroke="#111" stroke-width="1.05"/>
<path d="M185.87 673.33L187.42 674.88L185.87 676.43L184.32 674.88Z" fill="#9a9a9a" stroke="#111" stroke-width="1.05"/>
<path d="M188.87 674.76L190.42 676.31L188.87 677.86L187.32 676.31Z" fill="#9a9a9a" stroke="#111" stroke-width="1.05"/>
<circle cx="197.49" cy="600.39" r="1.15" fill="#a3ad9c" stroke="#111" stroke-width="1.1"/>
<circle cx="200.18" cy="620.00" r="1.15" fill="#a3ad9c" stroke="#111" stroke-width="1.1"/>
<circle cx="200.35" cy="624.62" r="1.15" fill="#a3ad9c" stroke="#111" stroke-width="1.1"/>
<circle cx="199.78" cy="628.08" r="1.15" fill="#a3ad9c" stroke="#111" stroke-width="1.1"/>
<circle cx="199.95" cy="631.54" r="1.15" fill="#a3ad9c" stroke="#111" stroke-width="1.1"/>
<circle cx="198.82" cy="643.08" r="1.15" fill="#a3ad9c" stroke="#111" stroke-width="1.1"/>
<circle cx="199.29" cy="645.39" r="1.15" fill="#a3ad9c" stroke="#111" stroke-width="1.1"/>
<circle cx="199.52" cy="651.02" r="1.15" fill="#a3ad9c" stroke="#111" stroke-width="1.1"/>
<circle cx="199.70" cy="653.38" r="1.15" fill="#a3ad9c" stroke="#111" stroke-width="1.1"/>
<circle cx="198.41" cy="655.31" r="1.15" fill="#a3ad9c" stroke="#111" stroke-width="1.1"/>
<circle cx="199.76" cy="657.38" r="1.15" fill="#a3ad9c" stroke="#111" stroke-width="1.1"/>
<circle cx="197.71" cy="660.13" r="1.15" fill="#a3ad9c" stroke="#111" stroke-width="1.1"/>
<circle cx="198.10" cy="662.36" r="1.15" fill="#a3ad9c" stroke="#111" stroke-width="1.1"/>
<circle cx="196.10" cy="664.06" r="1.15" fill="#a3ad9c" stroke="#111" stroke-width="1.1"/>
<circle cx="198.97" cy="666.14" r="1.15" fill="#a3ad9c" stroke="#111" stroke-width="1.1"/>
<circle cx="196.79" cy="667.96" r="1.15" fill="#a3ad9c" stroke="#111" stroke-width="1.1"/>
<circle cx="199.01" cy="670.26" r="1.15" fill="#a3ad9c" stroke="#111" stroke-width="1.1"/>
<circle cx="200.82" cy="672.21" r="1.15" fill="#a3ad9c" stroke="#111" stroke-width="1.1"/>
<circle cx="200.31" cy="674.91" r="1.15" fill="#a3ad9c" stroke="#111" stroke-width="1.1"/>
<circle cx="198.29" cy="677.07" r="1.15" fill="#a3ad9c" stroke="#111" stroke-width="1.1"/>
<circle cx="199.91" cy="678.58" r="1.15" fill="#a3ad9c" stroke="#111" stroke-width="1.1"/>
<circle cx="198.98" cy="681.81" r="1.15" fill="#a3ad9c" stroke="#111" stroke-width="1.1"/>
<circle cx="201.01" cy="683.19" r="1.15" fill="#a3ad9c" stroke="#111" stroke-width="1.1"/>
<circle cx="198.70" cy="686.01" r="1.15" fill="#a3ad9c" stroke="#111" stroke-width="1.1"/>
<circle cx="200.73" cy="688.15" r="1.15" fill="#a3ad9c" stroke="#111" stroke-width="1.1"/>
<circle cx="199.67" cy="690.46" r="1.15" fill="#a3ad9c" stroke="#111" stroke-width="1.1"/>
<circle cx="201.92" cy="691.64" r="1.15" fill="#a3ad9c" stroke="#111" stroke-width="1.1"/>
<circle cx="198.72" cy="694.07" r="1.15" fill="#a3ad9c" stroke="#111" stroke-width="1.1"/>
<circle cx="199.64" cy="696.85" r="1.15" fill="#a3ad9c" stroke="#111" stroke-width="1.1"/>
<circle cx="196.79" cy="697.84" r="1.15" fill="#a3ad9c" stroke="#111" stroke-width="1.1"/>
<line x1="196.90" y1="663.50" x2="202.10" y2="663.50" stroke="#111" stroke-width="1.1" stroke-linecap="butt"/>
<line x1="199.50" y1="659.50" x2="199.50" y2="668.50" stroke="#111" stroke-width="1.1" stroke-linecap="butt"/>
<line x1="197.70" y1="659.50" x2="201.30" y2="659.50" stroke="#111" stroke-width="1.1" stroke-linecap="butt"/>
<line x1="197.70" y1="668.50" x2="201.30" y2="668.50" stroke="#111" stroke-width="1.1" stroke-linecap="butt"/>
<line x1="204.30" y1="647.50" x2="210.70" y2="647.50" stroke="#111" stroke-width="1.1" stroke-linecap="butt"/>
<line x1="207.50" y1="632.50" x2="207.50" y2="659.50" stroke="#111" stroke-width="1.1" stroke-linecap="butt"/>
<line x1="205.70" y1="632.50" x2="209.30" y2="632.50" stroke="#111" stroke-width="1.1" stroke-linecap="butt"/>
<line x1="205.70" y1="659.50" x2="209.30" y2="659.50" stroke="#111" stroke-width="1.1" stroke-linecap="butt"/>
<rect x="204.11" y="631.10" width="3.2" height="3.2" fill="#3a0a1c"/>
<rect x="205.08" y="633.40" width="3.2" height="3.2" fill="#3a0a1c"/>
<rect x="204.02" y="657.64" width="3.2" height="3.2" fill="#3a0a1c"/>
<rect x="204.90" y="665.71" width="3.2" height="3.2" fill="#3a0a1c"/>
<rect x="204.68" y="668.02" width="3.2" height="3.2" fill="#3a0a1c"/>
<rect x="204.87" y="672.64" width="3.2" height="3.2" fill="#3a0a1c"/>
<rect x="205.36" y="684.18" width="3.2" height="3.2" fill="#3a0a1c"/>
<rect x="204.63" y="689.95" width="3.2" height="3.2" fill="#3a0a1c"/>
<line x1="210.30" y1="681.50" x2="216.70" y2="681.50" stroke="#111" stroke-width="1.1" stroke-linecap="butt"/>
<line x1="213.50" y1="679.50" x2="213.50" y2="684.50" stroke="#111" stroke-width="1.1" stroke-linecap="butt"/>
<line x1="211.70" y1="679.50" x2="215.30" y2="679.50" stroke="#111" stroke-width="1.1" stroke-linecap="butt"/>
<line x1="211.70" y1="684.50" x2="215.30" y2="684.50" stroke="#111" stroke-width="1.1" stroke-linecap="butt"/>
<path d="M211.49 671.76H215.49L213.49 675.36Z" fill="#111"/>
<path d="M210.25 675.03H214.25L212.25 678.63Z" fill="#111"/>
<path d="M212.04 677.43H216.04L214.04 681.03Z" fill="#111"/>
<path d="M211.05 680.57H215.05L213.05 684.17Z" fill="#111"/>
<path d="M212.29 682.85H216.29L214.29 686.45Z" fill="#111"/>
<path d="M209.17 685.00H213.17L211.17 688.60Z" fill="#111"/>
<path d="M211.13 688.19H215.13L213.13 691.79Z" fill="#111"/>
<line x1="217.30" y1="665.50" x2="223.70" y2="665.50" stroke="#111" stroke-width="1.1" stroke-linecap="butt"/>
<line x1="220.50" y1="663.50" x2="220.50" y2="668.50" stroke="#111" stroke-width="1.1" stroke-linecap="butt"/>
<line x1="218.70" y1="663.50" x2="222.30" y2="663.50" stroke="#111" stroke-width="1.1" stroke-linecap="butt"/>
<line x1="218.70" y1="668.50" x2="222.30" y2="668.50" stroke="#111" stroke-width="1.1" stroke-linecap="butt"/>
<path d="M221.03 649.61L222.58 651.16L221.03 652.71L219.48 651.16Z" fill="#9a9a9a" stroke="#111" stroke-width="1.05"/>
<path d="M218.45 655.41L220.00 656.96L218.45 658.51L216.90 656.96Z" fill="#9a9a9a" stroke="#111" stroke-width="1.05"/>
<path d="M220.45 658.00L222.00 659.55L220.45 661.10L218.90 659.55Z" fill="#9a9a9a" stroke="#111" stroke-width="1.05"/>
<path d="M220.89 660.86L222.44 662.41L220.89 663.96L219.34 662.41Z" fill="#9a9a9a" stroke="#111" stroke-width="1.05"/>
<path d="M219.13 663.00L220.68 664.55L219.13 666.10L217.58 664.55Z" fill="#9a9a9a" stroke="#111" stroke-width="1.05"/>
<path d="M221.02 665.54L222.57 667.09L221.02 668.64L219.47 667.09Z" fill="#9a9a9a" stroke="#111" stroke-width="1.05"/>
<path d="M220.94 668.51L222.49 670.06L220.94 671.61L219.39 670.06Z" fill="#9a9a9a" stroke="#111" stroke-width="1.05"/>
<path d="M219.86 670.72L221.41 672.27L219.86 673.82L218.31 672.27Z" fill="#9a9a9a" stroke="#111" stroke-width="1.05"/>
<path d="M221.52 674.25L223.07 675.80L221.52 677.35L219.97 675.80Z" fill="#9a9a9a" stroke="#111" stroke-width="1.05"/>
<path d="M220.75 676.42L222.30 677.97L220.75 679.52L219.20 677.97Z" fill="#9a9a9a" stroke="#111" stroke-width="1.05"/>
<line x1="95.50" y1="661.50" x2="103.50" y2="661.50" stroke="#111" stroke-width="1.15" stroke-linecap="butt"/>
<line x1="95.50" y1="659.60" x2="95.50" y2="663.40" stroke="#111" stroke-width="1.25" stroke-linecap="butt"/>
<line x1="103.50" y1="659.60" x2="103.50" y2="663.40" stroke="#111" stroke-width="1.25" stroke-linecap="butt"/>
<path d="M96.00 656.70L96.45 657.48L97.33 657.67L96.73 658.34L96.82 659.23L96.00 658.87L95.18 659.23L95.27 658.34L94.67 657.67L95.55 657.48Z" fill="#111"/>
<path d="M99.50 656.70L99.95 657.48L100.83 657.67L100.23 658.34L100.32 659.23L99.50 658.87L98.68 659.23L98.77 658.34L98.17 657.67L99.05 657.48Z" fill="#111"/>
<path d="M103.00 656.70L103.45 657.48L104.33 657.67L103.73 658.34L103.82 659.23L103.00 658.87L102.18 659.23L102.27 658.34L101.67 657.67L102.55 657.48Z" fill="#111"/>
<line x1="103.50" y1="650.50" x2="111.50" y2="650.50" stroke="#111" stroke-width="1.15" stroke-linecap="butt"/>
<line x1="103.50" y1="648.60" x2="103.50" y2="652.40" stroke="#111" stroke-width="1.25" stroke-linecap="butt"/>
<line x1="111.50" y1="648.60" x2="111.50" y2="652.40" stroke="#111" stroke-width="1.25" stroke-linecap="butt"/>
<path d="M107.50 645.70L107.95 646.48L108.83 646.67L108.23 647.34L108.32 648.23L107.50 647.87L106.68 648.23L106.77 647.34L106.17 646.67L107.05 646.48Z" fill="#111"/>
<line x1="130.50" y1="628.50" x2="138.50" y2="628.50" stroke="#111" stroke-width="1.15" stroke-linecap="butt"/>
<line x1="130.50" y1="626.60" x2="130.50" y2="630.40" stroke="#111" stroke-width="1.25" stroke-linecap="butt"/>
<line x1="138.50" y1="626.60" x2="138.50" y2="630.40" stroke="#111" stroke-width="1.25" stroke-linecap="butt"/>
<path d="M131.00 623.70L131.45 624.48L132.33 624.67L131.73 625.34L131.82 626.23L131.00 625.87L130.18 626.23L130.27 625.34L129.67 624.67L130.55 624.48Z" fill="#111"/>
<path d="M134.50 623.70L134.95 624.48L135.83 624.67L135.23 625.34L135.32 626.23L134.50 625.87L133.68 626.23L133.77 625.34L133.17 624.67L134.05 624.48Z" fill="#111"/>
<path d="M138.00 623.70L138.45 624.48L139.33 624.67L138.73 625.34L138.82 626.23L138.00 625.87L137.18 626.23L137.27 625.34L136.67 624.67L137.55 624.48Z" fill="#111"/>
<line x1="145.50" y1="657.50" x2="153.50" y2="657.50" stroke="#111" stroke-width="1.15" stroke-linecap="butt"/>
<line x1="145.50" y1="655.60" x2="145.50" y2="659.40" stroke="#111" stroke-width="1.25" stroke-linecap="butt"/>
<line x1="153.50" y1="655.60" x2="153.50" y2="659.40" stroke="#111" stroke-width="1.25" stroke-linecap="butt"/>
<path d="M149.50 652.70L149.95 653.48L150.83 653.67L150.23 654.34L150.32 655.23L149.50 654.87L148.68 655.23L148.77 654.34L148.17 653.67L149.05 653.48Z" fill="#111"/>
<line x1="179.50" y1="654.50" x2="187.50" y2="654.50" stroke="#111" stroke-width="1.15" stroke-linecap="butt"/>
<line x1="179.50" y1="652.60" x2="179.50" y2="656.40" stroke="#111" stroke-width="1.25" stroke-linecap="butt"/>
<line x1="187.50" y1="652.60" x2="187.50" y2="656.40" stroke="#111" stroke-width="1.25" stroke-linecap="butt"/>
<path d="M183.50 649.70L183.95 650.48L184.83 650.67L184.23 651.34L184.32 652.23L183.50 651.87L182.68 652.23L182.77 651.34L182.17 650.67L183.05 650.48Z" fill="#111"/>
<line x1="207.50" y1="627.50" x2="215.50" y2="627.50" stroke="#111" stroke-width="1.15" stroke-linecap="butt"/>
<line x1="207.50" y1="625.60" x2="207.50" y2="629.40" stroke="#111" stroke-width="1.25" stroke-linecap="butt"/>
<line x1="215.50" y1="625.60" x2="215.50" y2="629.40" stroke="#111" stroke-width="1.25" stroke-linecap="butt"/>
<path d="M209.75 622.70L210.20 623.48L211.08 623.67L210.48 624.34L210.57 625.23L209.75 624.87L208.93 625.23L209.02 624.34L208.42 623.67L209.30 623.48Z" fill="#111"/>
<path d="M213.25 622.70L213.70 623.48L214.58 623.67L213.98 624.34L214.07 625.23L213.25 624.87L212.43 625.23L212.52 624.34L211.92 623.67L212.80 623.48Z" fill="#111"/>
<line x1="214.50" y1="644.50" x2="222.50" y2="644.50" stroke="#111" stroke-width="1.15" stroke-linecap="butt"/>
<line x1="214.50" y1="642.60" x2="214.50" y2="646.40" stroke="#111" stroke-width="1.25" stroke-linecap="butt"/>
<line x1="222.50" y1="642.60" x2="222.50" y2="646.40" stroke="#111" stroke-width="1.25" stroke-linecap="butt"/>
<path d="M216.75 639.70L217.20 640.48L218.08 640.67L217.48 641.34L217.57 642.23L216.75 641.87L215.93 642.23L216.02 641.34L215.42 640.67L216.30 640.48Z" fill="#111"/>
<path d="M220.25 639.70L220.70 640.48L221.58 640.67L220.98 641.34L221.07 642.23L220.25 641.87L219.43 642.23L219.52 641.34L218.92 640.67L219.80 640.48Z" fill="#111"/>
<text x="269.80" y="558.60" font-size="13.8" fill="#000" stroke="#000" stroke-width="0" font-weight="bold">G</text>
<line x1="319.30" y1="575.80" x2="326.80" y2="575.80" stroke="#7fb241" stroke-width="1.6" stroke-linecap="butt"/>
<circle cx="323.00" cy="575.80" r="1.4" fill="#cfe3b5" stroke="#111" stroke-width="1.1"/>
<line x1="319.30" y1="586.20" x2="326.80" y2="586.20" stroke="#a8002c" stroke-width="1.8" stroke-linecap="butt"/>
<rect x="321.35" y="584.55" width="3.3" height="3.3" fill="#4a0a1a"/>
<line x1="319.30" y1="596.70" x2="326.80" y2="596.70" stroke="#1f3a6e" stroke-width="1.6" stroke-linecap="butt"/>
<path d="M320.60 595.04H325.40L323.00 599.36Z" fill="#10203f"/>
<path d="M323.00 605.30L324.90 607.20L323.00 609.10L321.10 607.20Z" fill="#e8e8e8" stroke="#111" stroke-width="1.05"/>
<text x="329.60" y="578.30" font-size="7" fill="#161616" stroke="#161616" stroke-width="0.17" textLength="33.2" lengthAdjust="spacingAndGlyphs">Ctrl (n=34)</text>
<text x="329.60" y="588.70" font-size="7" fill="#161616" stroke="#161616" stroke-width="0.17">Hdac8<tspan dy="-2.3" font-size="4.8">&#916;/&#916;</tspan><tspan dy="2.3" font-size="0.01">.</tspan> (n=30)</text>
<text x="329.60" y="599.20" font-size="7" fill="#161616" stroke="#161616" stroke-width="0.17">Hdac8<tspan dy="-2.3" font-size="4.8">&#916;/&#916;</tspan><tspan dy="2.3" font-size="0.01">.</tspan>/p53ER<tspan dy="-2.3" font-size="4.8">KI/KI</tspan><tspan dy="2.3" font-size="0.01">.</tspan> (n=7)</text>
<text x="329.60" y="609.70" font-size="7" fill="#161616" stroke="#161616" stroke-width="0.17">p53ER<tspan dy="-2.3" font-size="4.8">KI/KI</tspan><tspan dy="2.3" font-size="0.01">.</tspan> (n=10)</text>
<line x1="315.80" y1="617.00" x2="315.80" y2="724.00" stroke="#111" stroke-width="1.6" stroke-linecap="butt"/>
<line x1="315.20" y1="723.20" x2="459.00" y2="723.20" stroke="#111" stroke-width="1.6" stroke-linecap="butt"/>
<line x1="312.20" y1="723.20" x2="315.80" y2="723.20" stroke="#111" stroke-width="1.3" stroke-linecap="butt"/>
<text x="310.40" y="725.70" font-size="7" fill="#161616" stroke="#161616" stroke-width="0.17" text-anchor="end">0</text>
<line x1="312.20" y1="704.02" x2="315.80" y2="704.02" stroke="#111" stroke-width="1.3" stroke-linecap="butt"/>
<text x="310.40" y="706.52" font-size="7" fill="#161616" stroke="#161616" stroke-width="0.17" text-anchor="end">20</text>
<line x1="312.20" y1="684.84" x2="315.80" y2="684.84" stroke="#111" stroke-width="1.3" stroke-linecap="butt"/>
<text x="310.40" y="687.34" font-size="7" fill="#161616" stroke="#161616" stroke-width="0.17" text-anchor="end">40</text>
<line x1="312.20" y1="665.66" x2="315.80" y2="665.66" stroke="#111" stroke-width="1.3" stroke-linecap="butt"/>
<text x="310.40" y="668.16" font-size="7" fill="#161616" stroke="#161616" stroke-width="0.17" text-anchor="end">60</text>
<line x1="312.20" y1="646.48" x2="315.80" y2="646.48" stroke="#111" stroke-width="1.3" stroke-linecap="butt"/>
<text x="310.40" y="648.98" font-size="7" fill="#161616" stroke="#161616" stroke-width="0.17" text-anchor="end">80</text>
<line x1="312.20" y1="627.30" x2="315.80" y2="627.30" stroke="#111" stroke-width="1.3" stroke-linecap="butt"/>
<text x="310.40" y="629.80" font-size="7" fill="#161616" stroke="#161616" stroke-width="0.17" text-anchor="end">100</text>
<line x1="315.80" y1="723.20" x2="315.80" y2="726.80" stroke="#111" stroke-width="1.3" stroke-linecap="butt"/>
<text x="315.80" y="736.60" font-size="7" fill="#161616" stroke="#161616" stroke-width="0.17" text-anchor="middle">0</text>
<line x1="335.87" y1="723.20" x2="335.87" y2="726.80" stroke="#111" stroke-width="1.3" stroke-linecap="butt"/>
<text x="335.87" y="736.60" font-size="7" fill="#161616" stroke="#161616" stroke-width="0.17" text-anchor="middle">7</text>
<line x1="355.94" y1="723.20" x2="355.94" y2="726.80" stroke="#111" stroke-width="1.3" stroke-linecap="butt"/>
<text x="355.94" y="736.60" font-size="7" fill="#161616" stroke="#161616" stroke-width="0.17" text-anchor="middle">14</text>
<line x1="376.01" y1="723.20" x2="376.01" y2="726.80" stroke="#111" stroke-width="1.3" stroke-linecap="butt"/>
<text x="376.01" y="736.60" font-size="7" fill="#161616" stroke="#161616" stroke-width="0.17" text-anchor="middle">21</text>
<line x1="396.08" y1="723.20" x2="396.08" y2="726.80" stroke="#111" stroke-width="1.3" stroke-linecap="butt"/>
<text x="396.08" y="736.60" font-size="7" fill="#161616" stroke="#161616" stroke-width="0.17" text-anchor="middle">28</text>
<line x1="416.15" y1="723.20" x2="416.15" y2="726.80" stroke="#111" stroke-width="1.3" stroke-linecap="butt"/>
<text x="416.15" y="736.60" font-size="7" fill="#161616" stroke="#161616" stroke-width="0.17" text-anchor="middle">35</text>
<line x1="436.22" y1="723.20" x2="436.22" y2="726.80" stroke="#111" stroke-width="1.3" stroke-linecap="butt"/>
<text x="436.22" y="736.60" font-size="7" fill="#161616" stroke="#161616" stroke-width="0.17" text-anchor="middle">42</text>
<line x1="456.29" y1="723.20" x2="456.29" y2="726.80" stroke="#111" stroke-width="1.3" stroke-linecap="butt"/>
<text x="456.29" y="736.60" font-size="7" fill="#161616" stroke="#161616" stroke-width="0.17" text-anchor="middle">49</text>
<text x="386.20" y="749.80" font-size="10" fill="#161616" stroke="#161616" stroke-width="0.3" text-anchor="middle" textLength="44.5" lengthAdjust="spacingAndGlyphs">Time (days)</text>
<text x="292.00" y="670.30" font-size="10.2" fill="#161616" stroke="#161616" stroke-width="0.3" text-anchor="middle" transform="rotate(-90 292.00 670.30)" textLength="60" lengthAdjust="spacingAndGlyphs">Percent survival</text>
<line x1="315.80" y1="626.70" x2="450.00" y2="626.70" stroke="#7fb241" stroke-width="2.1" stroke-linecap="butt"/>
<line x1="315.80" y1="625.00" x2="453.00" y2="625.00" stroke="#cfdcc8" stroke-width="1.2" stroke-linecap="butt"/>
<line x1="315.80" y1="623.40" x2="455.50" y2="623.40" stroke="#1f3a6e" stroke-width="1.7" stroke-linecap="butt"/>
<path d="M449.5 626.9H453.2V631" stroke="#9cc46e" stroke-width="0.9" fill="none"/>
<circle cx="453.60" cy="632.90" r="1.15" fill="#6f7d45" stroke="#1a1a05" stroke-width="1.1"/>
<circle cx="456.40" cy="632.90" r="1.15" fill="#6f7d45" stroke="#1a1a05" stroke-width="1.1"/>
<path d="M453.6 620.8H458.6L456.1 624.4L458 627H454.2L456.1 624.4Z" fill="#0e1830"/>
<path d="M453.6 620.8H458.6L456.1 625.4Z" fill="#0e1830"/>
<path d="M336.0 630.5L350.6 630.5L350.6 636.9L353.4 636.9L353.4 646.4L356.1 646.4L356.1 656.1L367.5 656.1L367.5 661.8L373.5 661.8L373.5 665.6L376.0 665.6L376.0 681.5L390.4 681.5L390.4 688.3L402.0 688.3L402.0 691.0L410.5 691.0L410.5 697.4L427.4 697.4L427.4 700.6L459.0 700.6" fill="none" stroke="#a8002c" stroke-width="1.7" stroke-linejoin="miter"/>
<rect x="334.50" y="629.00" width="3" height="3" fill="#7a1028" stroke="#2a0510" stroke-width="0.8"/>
<rect x="349.10" y="635.40" width="3" height="3" fill="#7a1028" stroke="#2a0510" stroke-width="0.8"/>
<rect x="351.90" y="644.90" width="3" height="3" fill="#7a1028" stroke="#2a0510" stroke-width="0.8"/>
<rect x="354.60" y="654.60" width="3" height="3" fill="#7a1028" stroke="#2a0510" stroke-width="0.8"/>
<rect x="366.00" y="660.30" width="3" height="3" fill="#7a1028" stroke="#2a0510" stroke-width="0.8"/>
<rect x="372.00" y="664.10" width="3" height="3" fill="#7a1028" stroke="#2a0510" stroke-width="0.8"/>
<rect x="374.50" y="680.00" width="3" height="3" fill="#7a1028" stroke="#2a0510" stroke-width="0.8"/>
<rect x="388.90" y="686.80" width="3" height="3" fill="#7a1028" stroke="#2a0510" stroke-width="0.8"/>
<rect x="400.50" y="689.50" width="3" height="3" fill="#7a1028" stroke="#2a0510" stroke-width="0.8"/>
<rect x="409.00" y="695.90" width="3" height="3" fill="#7a1028" stroke="#2a0510" stroke-width="0.8"/>
<rect x="426.10" y="699.10" width="3" height="3" fill="#7a1028" stroke="#2a0510" stroke-width="0.8"/>
<rect x="452.00" y="699.10" width="3" height="3" fill="#7a1028" stroke="#2a0510" stroke-width="0.8"/>
<line x1="419.20" y1="630.80" x2="419.20" y2="693.50" stroke="#111" stroke-width="1.3" stroke-linecap="butt"/>
<line x1="417.00" y1="630.80" x2="421.40" y2="630.80" stroke="#111" stroke-width="1.2" stroke-linecap="butt"/>
<line x1="417.00" y1="693.50" x2="421.40" y2="693.50" stroke="#111" stroke-width="1.2" stroke-linecap="butt"/>
<text x="424.20" y="664.20" font-size="5.8" fill="#161616" stroke="#161616" stroke-width="0.17" textLength="31.2" lengthAdjust="spacingAndGlyphs">***p&lt;0.0001</text>
<path d="M465 621.3H468.8V700.7H465" fill="none" stroke="#111" stroke-width="1.35"/>
<text x="472.60" y="663.20" font-size="5.8" fill="#161616" stroke="#161616" stroke-width="0.17" textLength="30.6" lengthAdjust="spacingAndGlyphs">** p=0.0017</text>
</svg>
</body></html>
